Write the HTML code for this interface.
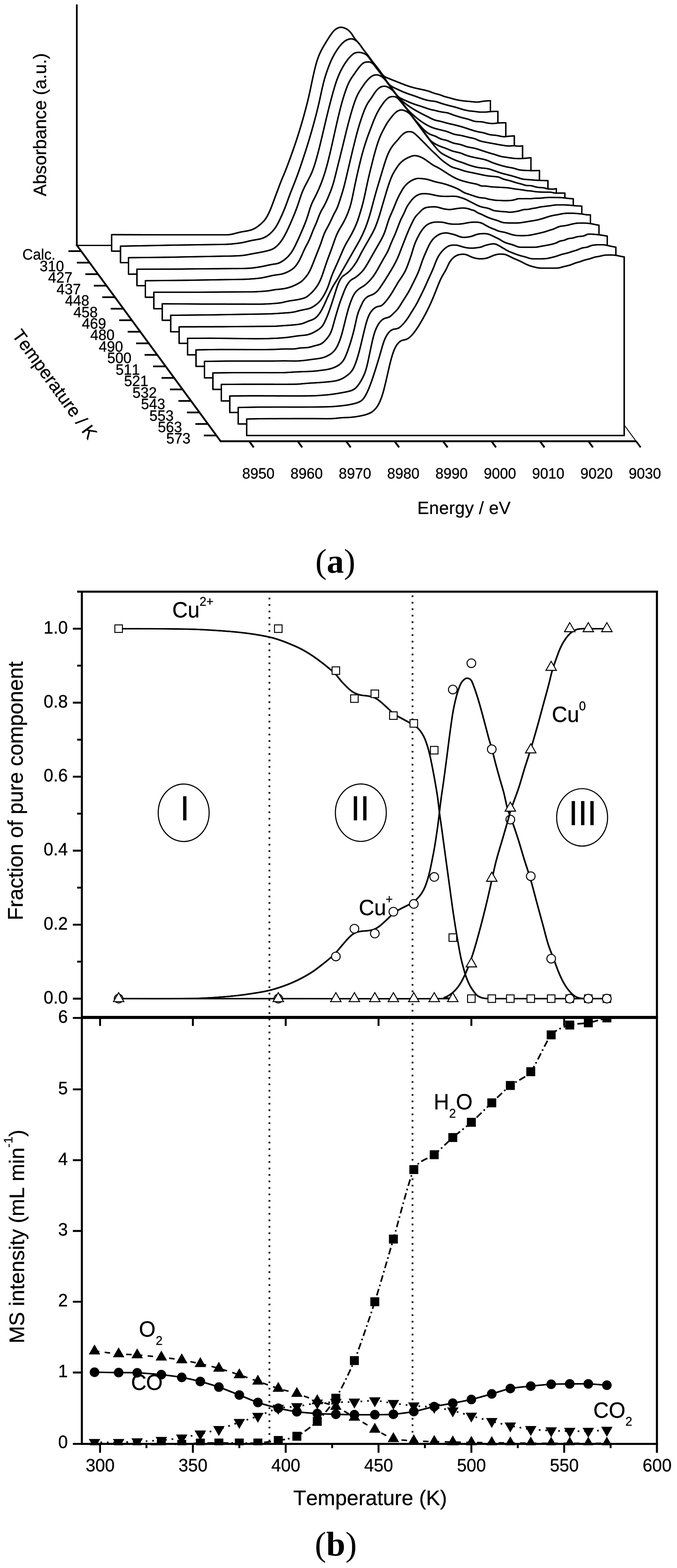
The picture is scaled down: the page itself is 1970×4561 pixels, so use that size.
<!DOCTYPE html>
<html lang="en"><head><meta charset="utf-8"><title>Figure</title>
<style>
html,body{margin:0;padding:0;background:#fff;}
body{width:1970px;height:4561px;overflow:hidden;}
svg{display:block;}
text{white-space:pre;font-kerning:none;font-variant-ligatures:none;text-rendering:geometricPrecision;}
</style></head>
<body>
<svg width="1970" height="4561" viewBox="0 0 1970 4561" shape-rendering="geometricPrecision">
<rect x="0" y="0" width="1970" height="4561" fill="#fff"/>
<g fill="none" stroke="#000" stroke-linejoin="miter" stroke-linecap="butt">
<path d="M223.5 12.7 V714" stroke-width="5"/>
<path d="M221.8 711 L642 1283.5 H1851.5" stroke-width="5.3" stroke-linejoin="miter"/>
<path d="M223 713.9 H326" stroke-width="3.9"/>
<path d="M1815 1234.5 L1851 1283.5" stroke-width="2.6"/>
<path d="M1851 1283.5 L1864.2 1301.3" stroke-width="4.8"/>
<path d="M236.1 730.5 H199.1M260.7 764 H223.7M285.4 797.5 H248.4M310 831.1 H273M334.6 864.6 H297.6M359.2 898.1 H322.2M383.9 931.6 H346.9M408.5 965.1 H371.5M433.1 998.7 H396.1M457.7 1032.2 H420.7M482.4 1065.7 H445.4M507 1099.2 H470M531.6 1132.7 H494.6M556.2 1166.3 H519.2M580.9 1199.8 H543.9M605.5 1233.3 H568.5M630.1 1266.8 H593.1" stroke-width="5"/>
<path d="M725.2 1283.5 l13.2 17.8M866.2 1283.5 l13.2 17.8M1007.2 1283.5 l13.2 17.8M1148.2 1283.5 l13.2 17.8M1289.2 1283.5 l13.2 17.8M1430.2 1283.5 l13.2 17.8M1571.2 1283.5 l13.2 17.8M1712.2 1283.5 l13.2 17.8" stroke-width="5.4"/>
</g>
<defs><path id="w0" d="M324.8 730.5L324.8 682.5 326.8 682.5 328.8 682.5 330.8 682.5 332.8 682.5 334.8 682.5 336.8 682.6 338.8 682.6 340.8 682.6 342.8 682.6 344.8 682.6 346.8 682.6 348.8 682.6 350.8 682.6 352.8 682.6 354.8 682.6 356.8 682.6 358.8 682.7 360.8 682.7 362.8 682.7 364.8 682.7 366.8 682.7 368.8 682.7 370.8 682.7 372.8 682.7 374.8 682.7 376.8 682.7 378.8 682.7 380.8 682.7 382.8 682.7 384.8 682.8 386.8 682.8 388.8 682.8 390.8 682.8 392.8 682.8 394.8 682.8 396.8 682.8 398.8 682.8 400.8 682.8 402.8 682.8 404.8 682.8 406.8 682.8 408.8 682.8 410.8 682.9 412.8 682.9 414.8 682.9 416.8 682.9 418.8 682.9 420.8 682.9 422.8 682.9 424.8 682.9 426.8 682.9 428.8 682.9 430.8 682.9 432.8 682.9 434.8 682.9 436.8 682.9 438.8 682.9 440.8 682.9 442.8 682.9 444.8 683 446.8 683 448.8 683 450.8 683 452.8 683 454.8 683 456.8 683 458.8 683 460.8 683 462.8 683 464.8 683 466.8 683 468.8 683 470.8 683 472.8 683 474.8 683 476.8 683 478.8 683 480.8 683 482.8 683 484.8 683 486.8 683 488.8 683 490.8 683 492.8 683 494.8 683 496.8 683 498.8 683 500.8 683 502.8 683 504.8 683 506.8 683 508.8 683 510.8 683 512.8 683 514.8 683 516.8 683 518.8 683 520.8 683 522.8 683 524.8 683 526.8 683 528.8 683 530.8 683 532.8 683 534.8 683 536.8 683 538.8 683 540.8 683 542.8 683 544.8 683 546.8 683 548.8 683 550.8 683 552.8 683 554.8 683 556.8 683 558.8 683 560.8 683 562.8 683 564.8 683 566.8 683 568.8 683 570.8 683 572.8 683 574.8 683 576.8 683 578.8 683 580.8 683 582.8 683 584.8 683 586.8 683 588.8 683 590.8 683 592.8 683 594.8 683 596.8 683 598.8 683 600.8 683 602.8 683 604.8 683 606.8 683 608.8 683 610.8 683 612.8 683 614.8 683 616.8 683 618.8 683 620.8 683 622.8 683 624.8 683 626.8 683 628.8 683 630.8 683 632.8 683 634.8 683 636.8 683 638.8 683 640.8 683 642.8 683 644.8 683 646.8 683 648.8 683 650.8 683 652.8 683 654.8 683 656.8 683 658.8 683 660.8 683 662.8 682.9 664.8 682.8 666.8 682.6 668.8 682.4 670.8 682.1 672.8 681.7 674.8 681.4 676.8 680.9 678.8 680.4 680.8 679.9 682.8 679.4 684.8 678.9 686.8 678.3 688.8 677.8 690.8 677.3 692.8 676.7 694.8 676.2 696.8 675.8 698.8 675.3 700.8 674.9 702.8 674.5 704.8 674.2 706.8 673.8 708.8 673.5 710.8 673.2 712.8 672.8 714.8 672.5 716.8 672.2 718.8 671.8 720.8 671.4 722.8 671 724.8 670.5 726.8 670 728.8 669.5 730.8 668.9 732.8 668.2 734.8 667.4 736.8 666.5 738.8 665.6 740.8 664.6 742.8 663.5 744.8 662.3 746.8 661 748.8 659.6 750.8 658.2 752.8 656.6 754.8 655 756.8 653.3 758.8 651.6 760.8 649.8 762.8 647.9 764.8 646 766.8 643.9 768.8 641.7 770.8 639.2 772.8 636.5 774.8 633.4 776.8 630.1 778.8 626.5 780.8 622.6 782.8 618.5 784.8 614.2 786.8 609.5 788.8 604.7 790.8 599.5 792.8 594.2 794.8 588.9 796.8 583.4 798.8 578 800.8 572.6 802.8 567.3 804.8 561.9 806.8 556.6 808.8 551.2 810.8 545.9 812.8 540.5 814.8 535.2 816.8 530.1 818.8 525.1 820.8 520.2 822.8 515.5 824.8 510.7 826.8 506 828.8 501.1 830.8 496.1 832.8 491 834.8 485.8 836.8 480.5 838.8 475.2 840.8 469.8 842.8 464.4 844.8 459 846.8 453.5 848.8 447.9 850.8 442.3 852.8 436.6 854.8 430.9 856.8 425.1 858.8 419.2 860.8 413.2 862.8 407.2 864.8 401 866.8 394.8 868.8 388.5 870.8 382.1 872.8 375.6 874.8 369 876.8 362.3 878.8 355.5 880.8 348.5 882.8 341.5 884.8 334.3 886.8 327 888.8 319.5 890.8 312 892.8 304.2 894.8 296.3 896.8 288.1 898.8 279.6 900.8 270.7 902.8 261.4 904.8 251.9 906.8 242.3 908.8 232.8 910.8 223.5 912.8 214.5 914.8 205.8 916.8 197.6 918.8 189.8 920.8 182.6 922.8 176.1 924.8 170.1 926.8 164.7 928.8 159.7 930.8 155.1 932.8 150.9 934.8 146.9 936.8 143.1 938.8 139.5 940.8 135.9 942.8 132.5 944.8 129.1 946.8 125.8 948.8 122.5 950.8 119.2 952.8 115.9 954.8 112.8 956.8 109.7 958.8 106.7 960.8 103.7 962.8 100.8 964.8 98 966.8 95.3 968.8 92.7 970.8 90.4 972.8 88.4 974.8 86.6 976.8 85.1 978.8 83.8 980.8 82.6 982.8 81.6 984.8 80.8 986.8 80.1 988.8 79.6 990.8 79.4 992.8 79.3 994.8 79.5 996.8 79.8 998.8 80.3 1000.8 81 1002.8 81.7 1004.8 82.5 1006.8 83.5 1008.8 84.6 1010.8 85.8 1012.8 87.2 1014.8 88.9 1016.8 90.7 1018.8 92.8 1020.8 95.2 1022.8 97.8 1024.8 100.7 1026.8 103.8 1028.8 107 1030.8 110 1032.8 112.8 1034.8 115.4 1036.8 117.8 1038.8 120 1040.8 122.2 1042.8 124.5 1044.8 126.9 1046.8 129.4 1048.8 132.2 1050.8 135.1 1052.8 138.1 1054.8 141.1 1056.8 144.2 1058.8 147.2 1060.8 150.1 1062.8 152.9 1064.8 155.6 1066.8 158.2 1068.8 160.8 1070.8 163.3 1072.8 165.8 1074.8 168.2 1076.8 170.7 1078.8 173.1 1080.8 175.5 1082.8 178 1084.8 180.5 1086.8 182.9 1088.8 185.4 1090.8 187.8 1092.8 190.3 1094.8 192.7 1096.8 195.2 1098.8 197.8 1100.8 200.4 1102.8 203.1 1104.8 205.9 1106.8 208.8 1108.8 211.7 1110.8 214.6 1112.8 217.1 1114.8 219.4 1116.8 221.2 1118.8 222.7 1120.8 223.8 1122.8 224.8 1124.8 225.7 1126.8 226.5 1128.8 227.3 1130.8 228.1 1132.8 228.9 1134.8 229.7 1136.8 230.5 1138.8 231.4 1140.8 232.2 1142.8 233 1144.8 233.8 1146.8 234.6 1148.8 235.3 1150.8 236.1 1152.8 236.9 1154.8 237.7 1156.8 238.5 1158.8 239.3 1160.8 240.1 1162.8 240.9 1164.8 241.7 1166.8 242.5 1168.8 243.3 1170.8 244.1 1172.8 244.8 1174.8 245.6 1176.8 246.4 1178.8 247.1 1180.8 247.9 1182.8 248.6 1184.8 249.3 1186.8 249.9 1188.8 250.6 1190.8 251.3 1192.8 251.9 1194.8 252.5 1196.8 253.1 1198.8 253.7 1200.8 254.2 1202.8 254.8 1204.8 255.3 1206.8 255.8 1208.8 256.3 1210.8 256.8 1212.8 257.2 1214.8 257.7 1216.8 258.1 1218.8 258.5 1220.8 258.9 1222.8 259.4 1224.8 259.8 1226.8 260.2 1228.8 260.7 1230.8 261.1 1232.8 261.5 1234.8 262 1236.8 262.5 1238.8 263 1240.8 263.5 1242.8 264 1244.8 264.6 1246.8 265.1 1248.8 265.8 1250.8 266.4 1252.8 267.2 1254.8 268 1256.8 268.8 1258.8 269.6 1260.8 270.3 1262.8 271 1264.8 271.7 1266.8 272.2 1268.8 272.8 1270.8 273.3 1272.8 273.8 1274.8 274.3 1276.8 274.8 1278.8 275.4 1280.8 276 1282.8 276.8 1284.8 277.5 1286.8 278.3 1288.8 279.1 1290.8 279.9 1292.8 280.6 1294.8 281.2 1296.8 281.8 1298.8 282.3 1300.8 282.8 1302.8 283.3 1304.8 283.8 1306.8 284.3 1308.8 284.8 1310.8 285.4 1312.8 285.9 1314.8 286.5 1316.8 287.1 1318.8 287.7 1320.8 288.2 1322.8 288.8 1324.8 289.3 1326.8 289.7 1328.8 290.2 1330.8 290.6 1332.8 291 1334.8 291.4 1336.8 291.8 1338.8 292.1 1340.8 292.4 1342.8 292.7 1344.8 293 1346.8 293.3 1348.8 293.5 1350.8 293.7 1352.8 293.9 1354.8 294.1 1356.8 294.3 1358.8 294.5 1360.8 294.7 1362.8 294.9 1364.8 295.1 1366.8 295.2 1368.8 295.4 1370.8 295.6 1372.8 295.8 1374.8 296 1376.8 296.2 1378.8 296.4 1380.8 296.6 1382.8 296.7 1384.8 296.8 1386.8 296.9 1388.8 296.9 1390.8 296.8 1392.8 296.7 1394.8 296.4 1396.8 296.1 1398.8 295.7 1400.8 295.4 1402.8 295 1404.8 294.7 1406.8 294.4 1408.8 294.2 1410.8 294 1412.8 293.8 1414.8 293.6 1416.8 293.5 1418.8 293.3 1420.8 293.2 1422.8 293.1 1424.8 293.1 1427.1 293L1427.1 730.5 Z"/></defs>
<use href="#w0" fill="#fff" stroke="none"/>
<g fill="none" stroke="#000" stroke-linejoin="miter" stroke-linecap="butt">
<use href="#w0" stroke-width="3.2"/>
<use href="#w0" transform="translate(1.45 1.45)" stroke-width="1"/>
<use href="#w0" transform="translate(1.45 -1.45)" stroke-width="1"/>
<use href="#w0" transform="translate(-1.45 1.45)" stroke-width="1"/>
<use href="#w0" transform="translate(-1.45 -1.45)" stroke-width="1"/>
</g>
<defs><path id="w1" d="M350.6 764L350.6 716 352.6 716 354.6 715.9 356.6 715.9 358.6 715.9 360.6 715.8 362.6 715.8 364.6 715.8 366.6 715.7 368.6 715.7 370.6 715.7 372.6 715.6 374.6 715.6 376.6 715.5 378.6 715.5 380.6 715.5 382.6 715.4 384.6 715.4 386.6 715.4 388.6 715.3 390.6 715.3 392.6 715.3 394.6 715.2 396.6 715.2 398.6 715.1 400.6 715.1 402.6 715.1 404.6 715 406.6 715 408.6 715 410.6 714.9 412.6 714.9 414.6 714.8 416.6 714.8 418.6 714.8 420.6 714.7 422.6 714.7 424.6 714.7 426.6 714.6 428.6 714.6 430.6 714.5 432.6 714.5 434.6 714.5 436.6 714.4 438.6 714.4 440.6 714.3 442.6 714.3 444.6 714.3 446.6 714.2 448.6 714.2 450.6 714.1 452.6 714.1 454.6 714.1 456.6 714 458.6 714 460.6 713.9 462.6 713.9 464.6 713.9 466.6 713.8 468.6 713.8 470.6 713.7 472.6 713.7 474.6 713.7 476.6 713.6 478.6 713.6 480.6 713.5 482.6 713.5 484.6 713.5 486.6 713.4 488.6 713.4 490.6 713.3 492.6 713.3 494.6 713.2 496.6 713.2 498.6 713.2 500.6 713.1 502.6 713.1 504.6 713.1 506.6 713 508.6 713 510.6 713 512.6 713 514.6 712.9 516.6 712.9 518.6 712.9 520.6 712.8 522.6 712.8 524.6 712.8 526.6 712.7 528.6 712.7 530.6 712.7 532.6 712.7 534.6 712.6 536.6 712.6 538.6 712.6 540.6 712.5 542.6 712.5 544.6 712.5 546.6 712.5 548.6 712.4 550.6 712.4 552.6 712.4 554.6 712.3 556.6 712.3 558.6 712.3 560.6 712.2 562.6 712.2 564.6 712.2 566.6 712.2 568.6 712.1 570.6 712.1 572.6 712.1 574.6 712 576.6 712 578.6 712 580.6 711.9 582.6 711.9 584.6 711.9 586.6 711.9 588.6 711.8 590.6 711.8 592.6 711.8 594.6 711.7 596.6 711.7 598.6 711.7 600.6 711.6 602.6 711.6 604.6 711.6 606.6 711.6 608.6 711.5 610.6 711.5 612.6 711.5 614.6 711.4 616.6 711.4 618.6 711.4 620.6 711.3 622.6 711.3 624.6 711.3 626.6 711.3 628.6 711.2 630.6 711.2 632.6 711.2 634.6 711.1 636.6 711.1 638.6 711.1 640.6 711.1 642.6 711 644.6 711 646.6 711 648.6 710.9 650.6 710.9 652.6 710.9 654.6 710.8 656.6 710.8 658.6 710.7 660.6 710.6 662.6 710.5 664.6 710.4 666.6 710.3 668.6 710.1 670.6 710 672.6 709.8 674.6 709.6 676.6 709.4 678.6 709.2 680.6 709 682.6 708.8 684.6 708.6 686.6 708.3 688.6 708.1 690.6 707.9 692.6 707.6 694.6 707.3 696.6 707.1 698.6 706.8 700.6 706.5 702.6 706.2 704.6 705.9 706.6 705.5 708.6 705.1 710.6 704.6 712.6 704.2 714.6 703.7 716.6 703.2 718.6 702.7 720.6 702.2 722.6 701.7 724.6 701.3 726.6 700.8 728.6 700.3 730.6 699.9 732.6 699.5 734.6 699.1 736.6 698.7 738.6 698.4 740.6 698 742.6 697.7 744.6 697.4 746.6 697 748.6 696.7 750.6 696.3 752.6 696 754.6 695.6 756.6 695.1 758.6 694.6 760.6 694.1 762.6 693.4 764.6 692.7 766.6 692 768.6 691.1 770.6 690.1 772.6 689.1 774.6 687.9 776.6 686.7 778.6 685.4 780.6 684 782.6 682.4 784.6 680.8 786.6 679 788.6 677.1 790.6 675.1 792.6 673 794.6 670.8 796.6 668.4 798.6 665.9 800.6 663.1 802.6 660.2 804.6 657.1 806.6 653.7 808.6 650.1 810.6 646.2 812.6 642.2 814.6 638 816.6 633.7 818.6 629.3 820.6 624.9 822.6 620.3 824.6 615.7 826.6 610.9 828.6 605.9 830.6 600.8 832.6 595.5 834.6 590.1 836.6 584.6 838.6 579.1 840.6 573.6 842.6 568.2 844.6 562.9 846.6 557.7 848.6 552.6 850.6 547.6 852.6 542.7 854.6 537.7 856.6 532.6 858.6 527.5 860.6 522.4 862.6 517.1 864.6 511.8 866.6 506.3 868.6 500.8 870.6 495.1 872.6 489.3 874.6 483.4 876.6 477.6 878.6 471.6 880.6 465.6 882.6 459.6 884.6 453.5 886.6 447.4 888.6 441.2 890.6 435 892.6 428.6 894.6 422.3 896.6 415.8 898.6 409.2 900.6 402.6 902.6 395.9 904.6 389.1 906.6 382.2 908.6 375.1 910.6 368 912.6 360.8 914.6 353.5 916.6 346 918.6 338.4 920.6 330.7 922.6 322.8 924.6 314.7 926.6 306.4 928.6 297.7 930.6 288.8 932.6 279.5 934.6 270.3 936.6 261.1 938.6 252.3 940.6 243.9 942.6 236 944.6 228.7 946.6 222 948.6 215.7 950.6 209.8 952.6 204.1 954.6 198.6 956.6 193.3 958.6 188.1 960.6 183.2 962.6 178.5 964.6 174 966.6 169.8 968.6 165.8 970.6 162 972.6 158.4 974.6 155 976.6 151.7 978.6 148.5 980.6 145.5 982.6 142.5 984.6 139.7 986.6 136.9 988.6 134.3 990.6 131.9 992.6 129.6 994.6 127.4 996.6 125.4 998.6 123.5 1000.6 121.8 1002.6 120.2 1004.6 118.8 1006.6 117.6 1008.6 116.5 1010.6 115.6 1012.6 114.8 1014.6 114.1 1016.6 113.6 1018.6 113.2 1020.6 113 1022.6 113 1024.6 113.3 1026.6 113.7 1028.6 114.3 1030.6 115 1032.6 116 1034.6 117.2 1036.6 118.7 1038.6 120.4 1040.6 122.3 1042.6 124.4 1044.6 126.7 1046.6 129.2 1048.6 131.9 1050.6 134.7 1052.6 137.6 1054.6 140.4 1056.6 143.2 1058.6 145.8 1060.6 148.3 1062.6 150.8 1064.6 153.2 1066.6 155.7 1068.6 158.2 1070.6 160.8 1072.6 163.5 1074.6 166.2 1076.6 169 1078.6 171.8 1080.6 174.7 1082.6 177.5 1084.6 180.4 1086.6 183.3 1088.6 186.1 1090.6 188.9 1092.6 191.6 1094.6 194.2 1096.6 196.7 1098.6 199.3 1100.6 201.7 1102.6 204.2 1104.6 206.6 1106.6 209 1108.6 211.5 1110.6 214 1112.6 216.6 1114.6 219.4 1116.6 222.4 1118.6 225.6 1120.6 228.9 1122.6 232.3 1124.6 235.6 1126.6 238.7 1128.6 241.5 1130.6 243.9 1132.6 246 1134.6 247.8 1136.6 249.3 1138.6 250.7 1140.6 251.9 1142.6 253.1 1144.6 254.1 1146.6 255.1 1148.6 256.1 1150.6 257 1152.6 258 1154.6 258.9 1156.6 259.8 1158.6 260.7 1160.6 261.7 1162.6 262.6 1164.6 263.5 1166.6 264.4 1168.6 265.3 1170.6 266.2 1172.6 267.1 1174.6 267.9 1176.6 268.7 1178.6 269.5 1180.6 270.3 1182.6 271 1184.6 271.8 1186.6 272.5 1188.6 273.2 1190.6 273.9 1192.6 274.5 1194.6 275.2 1196.6 275.9 1198.6 276.5 1200.6 277.2 1202.6 277.9 1204.6 278.6 1206.6 279.3 1208.6 280 1210.6 280.7 1212.6 281.5 1214.6 282.2 1216.6 283 1218.6 283.7 1220.6 284.4 1222.6 285.2 1224.6 285.9 1226.6 286.6 1228.6 287.3 1230.6 288 1232.6 288.6 1234.6 289.2 1236.6 289.8 1238.6 290.4 1240.6 290.9 1242.6 291.4 1244.6 291.9 1246.6 292.3 1248.6 292.7 1250.6 293 1252.6 293.3 1254.6 293.5 1256.6 293.7 1258.6 294 1260.6 294.2 1262.6 294.5 1264.6 294.8 1266.6 295.1 1268.6 295.6 1270.6 296.1 1272.6 296.7 1274.6 297.4 1276.6 298.1 1278.6 298.8 1280.6 299.5 1282.6 300.2 1284.6 300.9 1286.6 301.5 1288.6 302.1 1290.6 302.7 1292.6 303.3 1294.6 303.9 1296.6 304.4 1298.6 305 1300.6 305.5 1302.6 306.1 1304.6 306.6 1306.6 307.1 1308.6 307.6 1310.6 308.1 1312.6 308.6 1314.6 309.1 1316.6 309.6 1318.6 310.1 1320.6 310.6 1322.6 311.1 1324.6 311.7 1326.6 312.2 1328.6 312.8 1330.6 313.4 1332.6 314.1 1334.6 314.7 1336.6 315.4 1338.6 316 1340.6 316.7 1342.6 317.3 1344.6 317.9 1346.6 318.4 1348.6 318.9 1350.6 319.5 1352.6 319.9 1354.6 320.4 1356.6 320.9 1358.6 321.3 1360.6 321.7 1362.6 322 1364.6 322.4 1366.6 322.7 1368.6 322.9 1370.6 323.1 1372.6 323.3 1374.6 323.5 1376.6 323.7 1378.6 323.9 1380.6 324.1 1382.6 324.3 1384.6 324.6 1386.6 324.9 1388.6 325.2 1390.6 325.5 1392.6 325.7 1394.6 325.9 1396.6 326 1398.6 326.1 1400.6 326.1 1402.6 326.1 1404.6 326.1 1406.6 326.1 1408.6 326.1 1410.6 326.1 1412.6 326 1414.6 325.9 1416.6 325.7 1418.6 325.5 1420.6 325.3 1422.6 325.1 1424.6 324.9 1426.6 324.7 1428.6 324.6 1430.6 324.5 1432.6 324.4 1434.6 324.3 1436.6 324.2 1438.6 324.2 1440.6 324.1 1442.6 324.1 1444.6 324 1446.6 324 1448.7 324L1448.7 764 Z"/></defs>
<use href="#w1" fill="#fff" stroke="none"/>
<g fill="none" stroke="#000" stroke-linejoin="miter" stroke-linecap="butt">
<use href="#w1" stroke-width="3.2"/>
<use href="#w1" transform="translate(1.45 1.45)" stroke-width="1"/>
<use href="#w1" transform="translate(1.45 -1.45)" stroke-width="1"/>
<use href="#w1" transform="translate(-1.45 1.45)" stroke-width="1"/>
<use href="#w1" transform="translate(-1.45 -1.45)" stroke-width="1"/>
</g>
<defs><path id="w2" d="M373.9 797.5L373.9 749.5 375.9 749.5 377.9 749.5 379.9 749.5 381.9 749.5 383.9 749.4 385.9 749.4 387.9 749.4 389.9 749.4 391.9 749.4 393.9 749.3 395.9 749.3 397.9 749.3 399.9 749.3 401.9 749.3 403.9 749.2 405.9 749.2 407.9 749.2 409.9 749.2 411.9 749.2 413.9 749.1 415.9 749.1 417.9 749.1 419.9 749.1 421.9 749 423.9 749 425.9 749 427.9 749 429.9 749 431.9 748.9 433.9 748.9 435.9 748.9 437.9 748.9 439.9 748.9 441.9 748.8 443.9 748.8 445.9 748.8 447.9 748.8 449.9 748.7 451.9 748.7 453.9 748.7 455.9 748.7 457.9 748.7 459.9 748.6 461.9 748.6 463.9 748.6 465.9 748.6 467.9 748.5 469.9 748.5 471.9 748.5 473.9 748.5 475.9 748.4 477.9 748.4 479.9 748.4 481.9 748.4 483.9 748.4 485.9 748.3 487.9 748.3 489.9 748.3 491.9 748.3 493.9 748.2 495.9 748.2 497.9 748.2 499.9 748.1 501.9 748.1 503.9 748.1 505.9 748 507.9 748 509.9 747.9 511.9 747.9 513.9 747.8 515.9 747.8 517.9 747.7 519.9 747.7 521.9 747.6 523.9 747.6 525.9 747.5 527.9 747.5 529.9 747.4 531.9 747.4 533.9 747.4 535.9 747.3 537.9 747.3 539.9 747.3 541.9 747.2 543.9 747.2 545.9 747.1 547.9 747.1 549.9 747.1 551.9 747 553.9 747 555.9 747 557.9 746.9 559.9 746.9 561.9 746.8 563.9 746.8 565.9 746.8 567.9 746.7 569.9 746.7 571.9 746.7 573.9 746.6 575.9 746.6 577.9 746.5 579.9 746.5 581.9 746.5 583.9 746.4 585.9 746.4 587.9 746.3 589.9 746.3 591.9 746.3 593.9 746.2 595.9 746.2 597.9 746.2 599.9 746.1 601.9 746.1 603.9 746 605.9 746 607.9 746 609.9 745.9 611.9 745.9 613.9 745.9 615.9 745.8 617.9 745.8 619.9 745.7 621.9 745.7 623.9 745.7 625.9 745.6 627.9 745.6 629.9 745.5 631.9 745.5 633.9 745.5 635.9 745.4 637.9 745.4 639.9 745.4 641.9 745.3 643.9 745.3 645.9 745.2 647.9 745.2 649.9 745.2 651.9 745.1 653.9 745.1 655.9 745.1 657.9 745 659.9 745 661.9 745 663.9 745 665.9 744.9 667.9 744.9 669.9 744.9 671.9 744.8 673.9 744.8 675.9 744.7 677.9 744.6 679.9 744.6 681.9 744.5 683.9 744.4 685.9 744.3 687.9 744.3 689.9 744.2 691.9 744.1 693.9 744 695.9 743.9 697.9 743.8 699.9 743.6 701.9 743.5 703.9 743.3 705.9 743.1 707.9 742.9 709.9 742.6 711.9 742.3 713.9 742 715.9 741.7 717.9 741.3 719.9 741 721.9 740.6 723.9 740.2 725.9 739.8 727.9 739.4 729.9 739 731.9 738.6 733.9 738.3 735.9 737.9 737.9 737.5 739.9 737.1 741.9 736.8 743.9 736.4 745.9 736.1 747.9 735.7 749.9 735.4 751.9 735 753.9 734.7 755.9 734.3 757.9 733.9 759.9 733.5 761.9 733.1 763.9 732.7 765.9 732.3 767.9 731.9 769.9 731.4 771.9 731 773.9 730.5 775.9 730 777.9 729.6 779.9 729 781.9 728.5 783.9 727.9 785.9 727.3 787.9 726.6 789.9 725.9 791.9 725 793.9 724.1 795.9 723 797.9 721.8 799.9 720.4 801.9 718.8 803.9 717.2 805.9 715.4 807.9 713.5 809.9 711.4 811.9 709.2 813.9 706.9 815.9 704.4 817.9 701.7 819.9 698.9 821.9 695.9 823.9 692.7 825.9 689.3 827.9 685.8 829.9 682 831.9 678.2 833.9 674.2 835.9 670.1 837.9 665.9 839.9 661.6 841.9 657.2 843.9 652.8 845.9 648.2 847.9 643.6 849.9 638.9 851.9 634.2 853.9 629.4 855.9 624.5 857.9 619.6 859.9 614.5 861.9 609.3 863.9 603.9 865.9 598.3 867.9 592.5 869.9 586.5 871.9 580.4 873.9 574.4 875.9 568.6 877.9 563 879.9 557.9 881.9 553.1 883.9 548.7 885.9 544.6 887.9 540.6 889.9 536.7 891.9 532.9 893.9 529.1 895.9 525.3 897.9 521.4 899.9 517.6 901.9 513.6 903.9 509.5 905.9 505.2 907.9 500.5 909.9 495.4 911.9 490 913.9 484.2 915.9 478 917.9 471.5 919.9 464.8 921.9 457.7 923.9 450.3 925.9 442.8 927.9 435 929.9 427 931.9 418.9 933.9 410.7 935.9 402.3 937.9 393.9 939.9 385.4 941.9 376.9 943.9 368.4 945.9 359.9 947.9 351.5 949.9 343.1 951.9 334.8 953.9 326.6 955.9 318.6 957.9 310.7 959.9 302.9 961.9 295.2 963.9 287.7 965.9 280.2 967.9 272.9 969.9 265.7 971.9 258.8 973.9 252 975.9 245.6 977.9 239.5 979.9 233.7 981.9 228.3 983.9 223.2 985.9 218.4 987.9 213.8 989.9 209.5 991.9 205.4 993.9 201.5 995.9 197.8 997.9 194.3 999.9 190.9 1001.9 187.6 1003.9 184.5 1005.9 181.5 1007.9 178.7 1009.9 175.9 1011.9 173.3 1013.9 170.7 1015.9 168.3 1017.9 166.1 1019.9 164 1021.9 162 1023.9 160.2 1025.9 158.5 1027.9 157 1029.9 155.6 1031.9 154.6 1033.9 153.8 1035.9 153.2 1037.9 152.8 1039.9 152.6 1041.9 152.4 1043.9 152.4 1045.9 152.4 1047.9 152.6 1049.9 152.9 1051.9 153.3 1053.9 153.8 1055.9 154.4 1057.9 155.1 1059.9 155.9 1061.9 156.9 1063.9 158 1065.9 159.4 1067.9 161.1 1069.9 163.1 1071.9 165.4 1073.9 168 1075.9 170.8 1077.9 173.6 1079.9 176.4 1081.9 179.1 1083.9 181.7 1085.9 184.2 1087.9 186.7 1089.9 189.3 1091.9 191.9 1093.9 194.5 1095.9 197.2 1097.9 199.9 1099.9 202.7 1101.9 205.4 1103.9 208.2 1105.9 211.1 1107.9 213.9 1109.9 216.7 1111.9 219.5 1113.9 222.2 1115.9 224.9 1117.9 227.5 1119.9 230.1 1121.9 232.6 1123.9 235.1 1125.9 237.7 1127.9 240.2 1129.9 242.7 1131.9 245.3 1133.9 247.9 1135.9 250.5 1137.9 253.3 1139.9 256.2 1141.9 259.2 1143.9 262.4 1145.9 265.5 1147.9 268.5 1149.9 271.4 1151.9 274.1 1153.9 276.4 1155.9 278.5 1157.9 280.4 1159.9 282 1161.9 283.4 1163.9 284.7 1165.9 285.8 1167.9 286.9 1169.9 287.9 1171.9 288.8 1173.9 289.8 1175.9 290.7 1177.9 291.6 1179.9 292.4 1181.9 293.3 1183.9 294.2 1185.9 295.1 1187.9 296 1189.9 296.8 1191.9 297.7 1193.9 298.5 1195.9 299.3 1197.9 300.1 1199.9 300.9 1201.9 301.6 1203.9 302.4 1205.9 303.1 1207.9 303.8 1209.9 304.4 1211.9 305.1 1213.9 305.8 1215.9 306.4 1217.9 307 1219.9 307.6 1221.9 308.3 1223.9 308.9 1225.9 309.6 1227.9 310.2 1229.9 310.9 1231.9 311.6 1233.9 312.3 1235.9 312.9 1237.9 313.6 1239.9 314.3 1241.9 315 1243.9 315.7 1245.9 316.4 1247.9 317 1249.9 317.6 1251.9 318.2 1253.9 318.7 1255.9 319.1 1257.9 319.6 1259.9 320 1261.9 320.4 1263.9 320.8 1265.9 321.3 1267.9 321.8 1269.9 322.3 1271.9 322.8 1273.9 323.3 1275.9 323.8 1277.9 324.3 1279.9 324.7 1281.9 325.1 1283.9 325.5 1285.9 325.8 1287.9 326.1 1289.9 326.4 1291.9 326.7 1293.9 326.9 1295.9 327.2 1297.9 327.5 1299.9 327.9 1301.9 328.4 1303.9 328.9 1305.9 329.5 1307.9 330.2 1309.9 330.9 1311.9 331.6 1313.9 332.4 1315.9 333.2 1317.9 333.9 1319.9 334.7 1321.9 335.3 1323.9 336 1325.9 336.7 1327.9 337.3 1329.9 338 1331.9 338.6 1333.9 339.2 1335.9 339.8 1337.9 340.4 1339.9 341 1341.9 341.5 1343.9 342.1 1345.9 342.6 1347.9 343.1 1349.9 343.6 1351.9 344.1 1353.9 344.6 1355.9 345.1 1357.9 345.6 1359.9 346.1 1361.9 346.6 1363.9 347.2 1365.9 347.9 1367.9 348.6 1369.9 349.3 1371.9 350 1373.9 350.8 1375.9 351.4 1377.9 352.1 1379.9 352.6 1381.9 353 1383.9 353.3 1385.9 353.6 1387.9 353.7 1389.9 353.8 1391.9 353.9 1393.9 353.9 1395.9 354 1397.9 354.1 1399.9 354.3 1401.9 354.5 1403.9 354.7 1405.9 355.1 1407.9 355.5 1409.9 356 1411.9 356.5 1413.9 356.9 1415.9 357.4 1417.9 357.7 1419.9 358.1 1421.9 358.4 1423.9 358.7 1425.9 358.9 1427.9 359.1 1429.9 359.3 1431.9 359.4 1433.9 359.4 1435.9 359.3 1437.9 359.1 1439.9 358.9 1441.9 358.6 1443.9 358.4 1445.9 358.1 1447.9 357.9 1449.9 357.7 1451.9 357.6 1453.9 357.5 1455.9 357.5 1457.9 357.4 1459.9 357.3 1461.9 357.3 1463.9 357.2 1465.9 357.2 1467.9 357.2 1469.9 357.1 1471.8 357.1L1471.8 797.5 Z"/></defs>
<use href="#w2" fill="#fff" stroke="none"/>
<g fill="none" stroke="#000" stroke-linejoin="miter" stroke-linecap="butt">
<use href="#w2" stroke-width="3.2"/>
<use href="#w2" transform="translate(1.45 1.45)" stroke-width="1"/>
<use href="#w2" transform="translate(1.45 -1.45)" stroke-width="1"/>
<use href="#w2" transform="translate(-1.45 1.45)" stroke-width="1"/>
<use href="#w2" transform="translate(-1.45 -1.45)" stroke-width="1"/>
</g>
<defs><path id="w3" d="M398.5 831.1L398.5 783.1 400.5 783.1 402.5 783 404.5 783 406.5 783 408.5 783 410.5 783 412.5 783 414.5 783 416.5 783 418.5 783 420.5 783 422.5 783 424.5 783 426.5 783 428.5 783 430.5 783 432.5 783 434.5 782.9 436.5 782.9 438.5 782.9 440.5 782.9 442.5 782.9 444.5 782.9 446.5 782.9 448.5 782.9 450.5 782.9 452.5 782.9 454.5 782.9 456.5 782.9 458.5 782.9 460.5 782.9 462.5 782.9 464.5 782.9 466.5 782.9 468.5 782.8 470.5 782.8 472.5 782.8 474.5 782.8 476.5 782.8 478.5 782.8 480.5 782.8 482.5 782.8 484.5 782.8 486.5 782.8 488.5 782.8 490.5 782.8 492.5 782.8 494.5 782.8 496.5 782.8 498.5 782.8 500.5 782.8 502.5 782.7 504.5 782.7 506.5 782.7 508.5 782.7 510.5 782.7 512.5 782.7 514.5 782.7 516.5 782.7 518.5 782.7 520.5 782.7 522.5 782.7 524.5 782.7 526.5 782.7 528.5 782.6 530.5 782.6 532.5 782.6 534.5 782.6 536.5 782.5 538.5 782.5 540.5 782.5 542.5 782.4 544.5 782.4 546.5 782.4 548.5 782.4 550.5 782.3 552.5 782.3 554.5 782.3 556.5 782.3 558.5 782.3 560.5 782.2 562.5 782.2 564.5 782.2 566.5 782.2 568.5 782.2 570.5 782.2 572.5 782.1 574.5 782.1 576.5 782.1 578.5 782.1 580.5 782.1 582.5 782.1 584.5 782 586.5 782 588.5 782 590.5 782 592.5 782 594.5 782 596.5 781.9 598.5 781.9 600.5 781.9 602.5 781.9 604.5 781.9 606.5 781.8 608.5 781.8 610.5 781.8 612.5 781.8 614.5 781.8 616.5 781.8 618.5 781.7 620.5 781.7 622.5 781.7 624.5 781.7 626.5 781.7 628.5 781.6 630.5 781.6 632.5 781.6 634.5 781.6 636.5 781.6 638.5 781.6 640.5 781.5 642.5 781.5 644.5 781.5 646.5 781.5 648.5 781.5 650.5 781.5 652.5 781.4 654.5 781.4 656.5 781.4 658.5 781.4 660.5 781.4 662.5 781.3 664.5 781.3 666.5 781.3 668.5 781.3 670.5 781.3 672.5 781.3 674.5 781.2 676.5 781.2 678.5 781.2 680.5 781.2 682.5 781.2 684.5 781.2 686.5 781.2 688.5 781.2 690.5 781.2 692.5 781.1 694.5 781.1 696.5 781.1 698.5 781.1 700.5 781.1 702.5 781 704.5 781 706.5 781 708.5 780.9 710.5 780.9 712.5 780.8 714.5 780.8 716.5 780.7 718.5 780.6 720.5 780.5 722.5 780.4 724.5 780.3 726.5 780.2 728.5 780.1 730.5 779.9 732.5 779.7 734.5 779.5 736.5 779.3 738.5 779 740.5 778.7 742.5 778.5 744.5 778.2 746.5 777.9 748.5 777.6 750.5 777.3 752.5 776.9 754.5 776.6 756.5 776.3 758.5 775.9 760.5 775.6 762.5 775.2 764.5 774.8 766.5 774.4 768.5 774 770.5 773.5 772.5 773.1 774.5 772.7 776.5 772.2 778.5 771.8 780.5 771.4 782.5 771 784.5 770.5 786.5 770.1 788.5 769.8 790.5 769.4 792.5 769 794.5 768.7 796.5 768.4 798.5 768.1 800.5 767.8 802.5 767.5 804.5 767.2 806.5 766.7 808.5 766.2 810.5 765.5 812.5 764.7 814.5 763.8 816.5 762.8 818.5 761.6 820.5 760.4 822.5 759.2 824.5 757.8 826.5 756.4 828.5 754.9 830.5 753.3 832.5 751.6 834.5 749.8 836.5 747.8 838.5 745.8 840.5 743.6 842.5 741.3 844.5 738.8 846.5 736.1 848.5 733.3 850.5 730.2 852.5 726.9 854.5 723.4 856.5 719.6 858.5 715.6 860.5 711.5 862.5 707.3 864.5 703 866.5 698.7 868.5 694.3 870.5 689.9 872.5 685.5 874.5 680.9 876.5 676.3 878.5 671.7 880.5 667 882.5 662.3 884.5 657.5 886.5 652.6 888.5 647.5 890.5 642.2 892.5 636.7 894.5 630.7 896.5 624.5 898.5 618 900.5 611.5 902.5 605.3 904.5 599.5 906.5 594.3 908.5 589.6 910.5 585.3 912.5 581.3 914.5 577.4 916.5 573.5 918.5 569.5 920.5 565.4 922.5 561.2 924.5 556.9 926.5 552.5 928.5 547.9 930.5 543.2 932.5 538.4 934.5 533.3 936.5 528.1 938.5 522.6 940.5 517 942.5 511 944.5 504.9 946.5 498.4 948.5 491.6 950.5 484.5 952.5 477.1 954.5 469.4 956.5 461.4 958.5 453.3 960.5 444.9 962.5 436.3 964.5 427.6 966.5 418.8 968.5 409.9 970.5 400.9 972.5 392 974.5 383 976.5 374 978.5 365.2 980.5 356.4 982.5 347.7 984.5 339.2 986.5 330.9 988.5 322.8 990.5 314.9 992.5 307.3 994.5 299.9 996.5 292.8 998.5 286 1000.5 279.5 1002.5 273.3 1004.5 267.3 1006.5 261.6 1008.5 256.1 1010.5 250.9 1012.5 246.1 1014.5 241.7 1016.5 237.6 1018.5 233.9 1020.5 230.5 1022.5 227.3 1024.5 224.3 1026.5 221.4 1028.5 218.6 1030.5 215.8 1032.5 212.9 1034.5 210 1036.5 207.1 1038.5 204.3 1040.5 201.5 1042.5 198.8 1044.5 196.3 1046.5 193.9 1048.5 191.5 1050.5 189.3 1052.5 187.3 1054.5 185.5 1056.5 183.9 1058.5 182.7 1060.5 181.8 1062.5 181.2 1064.5 180.8 1066.5 180.5 1068.5 180.3 1070.5 180.2 1072.5 180.2 1074.5 180.4 1076.5 180.7 1078.5 181.3 1080.5 182.1 1082.5 183.2 1084.5 184.7 1086.5 186.7 1088.5 189 1090.5 191.6 1092.5 194.3 1094.5 197 1096.5 199.6 1098.5 202.2 1100.5 204.8 1102.5 207.3 1104.5 209.9 1106.5 212.5 1108.5 215 1110.5 217.6 1112.5 220.2 1114.5 222.8 1116.5 225.5 1118.5 228.1 1120.5 230.8 1122.5 233.5 1124.5 236.3 1126.5 239 1128.5 241.8 1130.5 244.6 1132.5 247.4 1134.5 250.1 1136.5 252.9 1138.5 255.6 1140.5 258.3 1142.5 260.9 1144.5 263.5 1146.5 266.1 1148.5 268.7 1150.5 271.2 1152.5 273.9 1154.5 276.5 1156.5 279.1 1158.5 281.7 1160.5 284.1 1162.5 286.4 1164.5 288.4 1166.5 290.4 1168.5 292.2 1170.5 293.9 1172.5 295.6 1174.5 297.3 1176.5 298.9 1178.5 300.5 1180.5 302.1 1182.5 303.6 1184.5 305.1 1186.5 306.5 1188.5 307.9 1190.5 309.3 1192.5 310.7 1194.5 312 1196.5 313.3 1198.5 314.6 1200.5 315.8 1202.5 317.1 1204.5 318.3 1206.5 319.4 1208.5 320.6 1210.5 321.8 1212.5 322.9 1214.5 324 1216.5 325.1 1218.5 326.2 1220.5 327.3 1222.5 328.3 1224.5 329.4 1226.5 330.4 1228.5 331.5 1230.5 332.5 1232.5 333.5 1234.5 334.5 1236.5 335.5 1238.5 336.5 1240.5 337.5 1242.5 338.5 1244.5 339.5 1246.5 340.5 1248.5 341.6 1250.5 342.6 1252.5 343.6 1254.5 344.6 1256.5 345.5 1258.5 346.5 1260.5 347.3 1262.5 348.1 1264.5 348.9 1266.5 349.5 1268.5 350.1 1270.5 350.6 1272.5 351 1274.5 351.5 1276.5 351.9 1278.5 352.3 1280.5 352.7 1282.5 353.2 1284.5 353.7 1286.5 354.2 1288.5 354.7 1290.5 355.3 1292.5 355.9 1294.5 356.4 1296.5 357 1298.5 357.6 1300.5 358.1 1302.5 358.6 1304.5 359.1 1306.5 359.6 1308.5 360.1 1310.5 360.5 1312.5 361 1314.5 361.4 1316.5 361.8 1318.5 362.3 1320.5 362.7 1322.5 363.2 1324.5 363.7 1326.5 364.2 1328.5 364.7 1330.5 365.2 1332.5 365.7 1334.5 366.2 1336.5 366.8 1338.5 367.3 1340.5 367.9 1342.5 368.5 1344.5 369.1 1346.5 369.7 1348.5 370.3 1350.5 370.9 1352.5 371.6 1354.5 372.2 1356.5 372.9 1358.5 373.6 1360.5 374.2 1362.5 374.9 1364.5 375.6 1366.5 376.2 1368.5 376.9 1370.5 377.5 1372.5 378.1 1374.5 378.8 1376.5 379.4 1378.5 380 1380.5 380.6 1382.5 381.2 1384.5 381.7 1386.5 382.2 1388.5 382.7 1390.5 383.2 1392.5 383.6 1394.5 384 1396.5 384.3 1398.5 384.7 1400.5 385 1402.5 385.4 1404.5 385.7 1406.5 386.2 1408.5 386.7 1410.5 387.3 1412.5 387.9 1414.5 388.5 1416.5 389.2 1418.5 389.9 1420.5 390.5 1422.5 391 1424.5 391.5 1426.5 391.9 1428.5 392.2 1430.5 392.5 1432.5 392.7 1434.5 392.9 1436.5 393 1438.5 393.2 1440.5 393.4 1442.5 393.6 1444.5 393.9 1446.5 394.2 1448.5 394.5 1450.5 395 1452.5 395.4 1454.5 395.9 1456.5 396.4 1458.5 396.8 1460.5 397.2 1462.5 397.4 1464.5 397.6 1466.5 397.7 1468.5 397.7 1470.5 397.5 1472.5 397.3 1474.5 397.1 1476.5 396.8 1478.5 396.6 1480.5 396.4 1482.5 396.1 1484.5 396 1486.5 395.8 1488.5 395.7 1490.5 395.6 1492.5 395.5 1494.5 395.4 1496.6 395.3L1496.6 831.1 Z"/></defs>
<use href="#w3" fill="#fff" stroke="none"/>
<g fill="none" stroke="#000" stroke-linejoin="miter" stroke-linecap="butt">
<use href="#w3" stroke-width="3.2"/>
<use href="#w3" transform="translate(1.45 1.45)" stroke-width="1"/>
<use href="#w3" transform="translate(1.45 -1.45)" stroke-width="1"/>
<use href="#w3" transform="translate(-1.45 1.45)" stroke-width="1"/>
<use href="#w3" transform="translate(-1.45 -1.45)" stroke-width="1"/>
</g>
<defs><path id="w4" d="M423 864.6L423 816.6 425 816.6 427 816.5 429 816.5 431 816.5 433 816.5 435 816.5 437 816.4 439 816.4 441 816.4 443 816.4 445 816.3 447 816.3 449 816.3 451 816.3 453 816.3 455 816.2 457 816.2 459 816.2 461 816.2 463 816.2 465 816.1 467 816.1 469 816.1 471 816.1 473 816.1 475 816 477 816 479 816 481 816 483 815.9 485 815.9 487 815.9 489 815.9 491 815.9 493 815.8 495 815.8 497 815.8 499 815.8 501 815.8 503 815.7 505 815.7 507 815.7 509 815.7 511 815.7 513 815.6 515 815.6 517 815.6 519 815.6 521 815.5 523 815.5 525 815.5 527 815.5 529 815.5 531 815.5 533 815.4 535 815.4 537 815.4 539 815.4 541 815.4 543 815.3 545 815.3 547 815.3 549 815.2 551 815.2 553 815.2 555 815.1 557 815.1 559 815.1 561 815 563 815 565 814.9 567 814.9 569 814.8 571 814.8 573 814.8 575 814.7 577 814.7 579 814.7 581 814.6 583 814.6 585 814.6 587 814.5 589 814.5 591 814.5 593 814.4 595 814.4 597 814.4 599 814.3 601 814.3 603 814.3 605 814.2 607 814.2 609 814.2 611 814.1 613 814.1 615 814.1 617 814 619 814 621 814 623 813.9 625 813.9 627 813.9 629 813.8 631 813.8 633 813.8 635 813.7 637 813.7 639 813.7 641 813.6 643 813.6 645 813.6 647 813.5 649 813.5 651 813.5 653 813.4 655 813.4 657 813.4 659 813.3 661 813.3 663 813.3 665 813.3 667 813.2 669 813.2 671 813.2 673 813.1 675 813.1 677 813.1 679 813 681 813 683 813 685 812.9 687 812.9 689 812.9 691 812.8 693 812.8 695 812.8 697 812.7 699 812.7 701 812.7 703 812.6 705 812.6 707 812.6 709 812.5 711 812.5 713 812.4 715 812.3 717 812.2 719 812.1 721 812 723 811.9 725 811.8 727 811.6 729 811.5 731 811.4 733 811.2 735 811.1 737 810.9 739 810.8 741 810.6 743 810.4 745 810.2 747 810.1 749 809.9 751 809.7 753 809.5 755 809.2 757 808.9 759 808.6 761 808.3 763 808 765 807.6 767 807.2 769 806.8 771 806.4 773 805.9 775 805.5 777 805 779 804.6 781 804.1 783 803.7 785 803.2 787 802.8 789 802.3 791 801.9 793 801.5 795 801.1 797 800.7 799 800.4 801 800.1 803 799.8 805 799.5 807 799.2 809 799 811 798.7 813 798.4 815 798.1 817 797.8 819 797.4 821 796.9 823 796.3 825 795.7 827 795.1 829 794.3 831 793.5 833 792.7 835 791.8 837 790.9 839 789.9 841 788.9 843 787.8 845 786.6 847 785.4 849 784.1 851 782.6 853 781 855 779.3 857 777.4 859 775.2 861 772.9 863 770.2 865 767.4 867 764.2 869 760.9 871 757.4 873 753.6 875 749.5 877 745.3 879 740.8 881 736.2 883 731.7 885 727.3 887 723.1 889 719 891 715.2 893 711.4 895 707.7 897 703.8 899 699.7 901 695.3 903 690.5 905 685.6 907 680.4 909 675.2 911 670.2 913 665.4 915 660.8 917 656.3 919 651.8 921 647.1 923 642 925 636.6 927 631.3 929 626.1 931 621.3 933 617 935 613.1 937 609.5 939 606.1 941 602.6 943 599 945 595.2 947 591.2 949 587 951 582.7 953 578.1 955 573.5 957 568.7 959 563.9 961 558.9 963 553.7 965 548.3 967 542.5 969 536.2 971 529.4 973 522 975 514.2 977 506.2 979 498.1 981 490.1 983 482 985 474 987 466.1 989 458.1 991 450.1 993 442.1 995 434 997 425.9 999 417.7 1001 409.5 1003 401.2 1005 392.9 1007 384.7 1009 376.7 1011 368.8 1013 361.1 1015 353.5 1017 346.1 1019 338.8 1021 331.7 1023 324.8 1025 318.1 1027 311.6 1029 305.4 1031 299.5 1033 293.8 1035 288.5 1037 283.5 1039 278.9 1041 274.7 1043 270.9 1045 267.4 1047 264.1 1049 261 1051 257.9 1053 254.9 1055 252 1057 249 1059 246.1 1061 243.3 1063 240.6 1065 238 1067 235.6 1069 233.3 1071 231.1 1073 229.1 1075 227.2 1077 225.4 1079 223.8 1081 222.4 1083 221.1 1085 220.1 1087 219.3 1089 218.6 1091 218.1 1093 217.8 1095 217.7 1097 217.7 1099 217.9 1101 218.4 1103 219 1105 219.9 1107 220.9 1109 222 1111 223.3 1113 224.8 1115 226.5 1117 228.3 1119 230.5 1121 232.8 1123 235.3 1125 237.9 1127 240.6 1129 243.3 1131 245.9 1133 248.6 1135 251.2 1137 253.8 1139 256.4 1141 259 1143 261.7 1145 264.4 1147 267.1 1149 269.8 1151 272.6 1153 275.3 1155 278.1 1157 280.8 1159 283.6 1161 286.3 1163 289.1 1165 291.8 1167 294.4 1169 297 1171 299.7 1173 302.3 1175 304.8 1177 307.4 1179 310 1181 312.5 1183 315 1185 317.4 1187 319.6 1189 321.7 1191 323.8 1193 325.7 1195 327.7 1197 329.5 1199 331.4 1201 333.2 1203 335 1205 336.8 1207 338.5 1209 340.2 1211 341.9 1213 343.5 1215 345.1 1217 346.7 1219 348.2 1221 349.8 1223 351.2 1225 352.7 1227 354.1 1229 355.4 1231 356.8 1233 358.1 1235 359.3 1237 360.6 1239 361.7 1241 362.9 1243 364 1245 365.1 1247 366.1 1249 367.1 1251 368.1 1253 369 1255 369.8 1257 370.6 1259 371.4 1261 372.1 1263 372.8 1265 373.4 1267 374 1269 374.6 1271 375.1 1273 375.6 1275 376.1 1277 376.6 1279 377 1281 377.5 1283 378 1285 378.5 1287 379 1289 379.5 1291 380 1293 380.5 1295 381 1297 381.6 1299 382.2 1301 382.8 1303 383.5 1305 384.2 1307 385 1309 385.8 1311 386.6 1313 387.5 1315 388.3 1317 389 1319 389.7 1321 390.3 1323 390.9 1325 391.3 1327 391.7 1329 392 1331 392.4 1333 392.7 1335 393 1337 393.3 1339 393.6 1341 394 1343 394.4 1345 394.8 1347 395.3 1349 395.8 1351 396.3 1353 396.8 1355 397.3 1357 397.8 1359 398.3 1361 398.8 1363 399.3 1365 399.7 1367 400.2 1369 400.6 1371 401 1373 401.4 1375 401.8 1377 402.3 1379 402.8 1381 403.5 1383 404.2 1385 405 1387 405.9 1389 406.8 1391 407.7 1393 408.5 1395 409.3 1397 410 1399 410.6 1401 411.1 1403 411.6 1405 412 1407 412.4 1409 412.8 1411 413.2 1413 413.6 1415 414 1417 414.4 1419 414.8 1421 415.1 1423 415.5 1425 415.9 1427 416.2 1429 416.6 1431 416.9 1433 417.3 1435 417.7 1437 418 1439 418.4 1441 418.7 1443 419.1 1445 419.5 1447 419.9 1449 420.3 1451 420.6 1453 421 1455 421.4 1457 421.7 1459 422 1461 422.3 1463 422.7 1465 423 1467 423.3 1469 423.6 1471 423.9 1473 424.1 1475 424.3 1477 424.5 1479 424.6 1481 424.6 1483 424.6 1485 424.5 1487 424.4 1489 424.3 1491 424.2 1493 424 1495 424 1497 424.1 1499 424.2 1501 424.5 1503 424.7 1505 425 1507 425.1 1509 425.1 1511 425.1 1513 424.9 1515 424.8 1517 424.6 1519 424.4 1520.6 424.2L1520.6 864.6 Z"/></defs>
<use href="#w4" fill="#fff" stroke="none"/>
<g fill="none" stroke="#000" stroke-linejoin="miter" stroke-linecap="butt">
<use href="#w4" stroke-width="3.2"/>
<use href="#w4" transform="translate(1.45 1.45)" stroke-width="1"/>
<use href="#w4" transform="translate(1.45 -1.45)" stroke-width="1"/>
<use href="#w4" transform="translate(-1.45 1.45)" stroke-width="1"/>
<use href="#w4" transform="translate(-1.45 -1.45)" stroke-width="1"/>
</g>
<defs><path id="w5" d="M447.6 898.1L447.6 850.1 449.6 850.1 451.6 850.1 453.6 850.1 455.6 850.1 457.6 850.1 459.6 850.1 461.6 850.1 463.6 850.1 465.6 850.1 467.6 850.1 469.6 850.1 471.6 850.1 473.6 850.1 475.6 850.1 477.6 850.1 479.6 850.1 481.6 850.1 483.6 850.1 485.6 850.1 487.6 850.1 489.6 850.1 491.6 850.1 493.6 850.1 495.6 850.1 497.6 850.1 499.6 850.1 501.6 850.1 503.6 850.1 505.6 850.1 507.6 850.1 509.6 850.1 511.6 850.1 513.6 850.1 515.6 850.1 517.6 850.1 519.6 850.1 521.6 850.1 523.6 850.1 525.6 850.1 527.6 850.1 529.6 850.1 531.6 850.1 533.6 850.1 535.6 850.1 537.6 850.1 539.6 850.1 541.6 850.1 543.6 850.1 545.6 850.1 547.6 850.1 549.6 850.1 551.6 850.1 553.6 850.1 555.6 850.1 557.6 850.1 559.6 850.1 561.6 850.1 563.6 850.1 565.6 850.1 567.6 850.1 569.6 850.1 571.6 850.1 573.6 850 575.6 850 577.6 850 579.6 850 581.6 850 583.6 850 585.6 849.9 587.6 849.9 589.6 849.9 591.6 849.9 593.6 849.9 595.6 849.8 597.6 849.8 599.6 849.8 601.6 849.8 603.6 849.8 605.6 849.8 607.6 849.7 609.6 849.7 611.6 849.7 613.6 849.7 615.6 849.7 617.6 849.7 619.6 849.7 621.6 849.7 623.6 849.6 625.6 849.6 627.6 849.6 629.6 849.6 631.6 849.6 633.6 849.6 635.6 849.6 637.6 849.6 639.6 849.5 641.6 849.5 643.6 849.5 645.6 849.5 647.6 849.5 649.6 849.5 651.6 849.5 653.6 849.5 655.6 849.4 657.6 849.4 659.6 849.4 661.6 849.4 663.6 849.4 665.6 849.4 667.6 849.4 669.6 849.4 671.6 849.3 673.6 849.3 675.6 849.3 677.6 849.3 679.6 849.3 681.6 849.3 683.6 849.3 685.6 849.3 687.6 849.2 689.6 849.2 691.6 849.2 693.6 849.2 695.6 849.2 697.6 849.2 699.6 849.2 701.6 849.2 703.6 849.1 705.6 849.1 707.6 849.1 709.6 849.1 711.6 849.1 713.6 849.1 715.6 849.1 717.6 849.1 719.6 849.1 721.6 849 723.6 849 725.6 849 727.6 849 729.6 849 731.6 849 733.6 848.9 735.6 848.9 737.6 848.8 739.6 848.8 741.6 848.7 743.6 848.6 745.6 848.6 747.6 848.5 749.6 848.4 751.6 848.3 753.6 848.1 755.6 848 757.6 847.9 759.6 847.8 761.6 847.6 763.6 847.5 765.6 847.3 767.6 847.2 769.6 847 771.6 846.9 773.6 846.7 775.6 846.5 777.6 846.3 779.6 846.1 781.6 845.8 783.6 845.5 785.6 845.2 787.6 844.9 789.6 844.5 791.6 844.2 793.6 843.8 795.6 843.4 797.6 843 799.6 842.7 801.6 842.4 803.6 842.2 805.6 842 807.6 841.8 809.6 841.7 811.6 841.5 813.6 841.3 815.6 841.1 817.6 840.8 819.6 840.6 821.6 840.3 823.6 840.1 825.6 839.7 827.6 839.4 829.6 839 831.6 838.6 833.6 838.2 835.6 837.7 837.6 837.2 839.6 836.6 841.6 836 843.6 835.4 845.6 834.7 847.6 834 849.6 833.2 851.6 832.4 853.6 831.6 855.6 830.7 857.6 829.8 859.6 828.9 861.6 827.9 863.6 826.9 865.6 825.8 867.6 824.8 869.6 823.6 871.6 822.5 873.6 821.2 875.6 819.8 877.6 818.3 879.6 816.6 881.6 814.7 883.6 812.6 885.6 810.4 887.6 808.2 889.6 805.8 891.6 803.4 893.6 800.8 895.6 797.9 897.6 794.8 899.6 791.3 901.6 787.5 903.6 783.3 905.6 778.8 907.6 774.1 909.6 769.2 911.6 764.3 913.6 759.2 915.6 754.1 917.6 748.9 919.6 743.8 921.6 738.7 923.6 733.7 925.6 728.7 927.6 723.7 929.6 718.7 931.6 713.4 933.6 708 935.6 702.2 937.6 696.3 939.6 690.5 941.6 684.9 943.6 679.8 945.6 675.3 947.6 671.2 949.6 667.4 951.6 663.8 953.6 660.1 955.6 656.3 957.6 652.4 959.6 648.4 961.6 644.3 963.6 640.1 965.6 635.8 967.6 631.5 969.6 627.2 971.6 623.2 973.6 619.3 975.6 615.6 977.6 611.9 979.6 607.8 981.6 603.3 983.6 598.2 985.6 592.6 987.6 586.6 989.6 580.4 991.6 574.2 993.6 567.9 995.6 561.5 997.6 554.8 999.6 547.9 1001.6 540.4 1003.6 532.5 1005.6 524.3 1007.6 515.8 1009.6 507.3 1011.6 498.8 1013.6 490.3 1015.6 481.9 1017.6 473.4 1019.6 464.8 1021.6 456.3 1023.6 447.9 1025.6 439.5 1027.6 431.3 1029.6 423.2 1031.6 415.2 1033.6 407.1 1035.6 399.2 1037.6 391.4 1039.6 383.9 1041.6 376.7 1043.6 369.8 1045.6 363.2 1047.6 356.8 1049.6 350.6 1051.6 344.6 1053.6 338.7 1055.6 333 1057.6 327.6 1059.6 322.4 1061.6 317.5 1063.6 312.9 1065.6 308.6 1067.6 304.6 1069.6 301 1071.6 297.7 1073.6 294.7 1075.6 291.9 1077.6 289.1 1079.6 286.4 1081.6 283.5 1083.6 280.5 1085.6 277.4 1087.6 274.2 1089.6 271.2 1091.6 268.4 1093.6 265.7 1095.6 263.3 1097.6 261 1099.6 259 1101.6 257.2 1103.6 255.6 1105.6 254.2 1107.6 253.2 1109.6 252.4 1111.6 251.8 1113.6 251.3 1115.6 251 1117.6 250.9 1119.6 250.8 1121.6 251 1123.6 251.4 1125.6 252 1127.6 252.9 1129.6 253.8 1131.6 254.9 1133.6 256.1 1135.6 257.4 1137.6 258.9 1139.6 260.5 1141.6 262.3 1143.6 264.4 1145.6 266.6 1147.6 269 1149.6 271.5 1151.6 274.1 1153.6 276.8 1155.6 279.4 1157.6 282 1159.6 284.6 1161.6 287.3 1163.6 289.9 1165.6 292.6 1167.6 295.3 1169.6 298 1171.6 300.7 1173.6 303.4 1175.6 306.1 1177.6 308.9 1179.6 311.6 1181.6 314.3 1183.6 317.1 1185.6 319.8 1187.6 322.5 1189.6 325.2 1191.6 327.9 1193.6 330.5 1195.6 333.2 1197.6 335.8 1199.6 338.3 1201.6 340.9 1203.6 343.4 1205.6 345.9 1207.6 348.3 1209.6 350.7 1211.6 353 1213.6 355.3 1215.6 357.6 1217.6 359.9 1219.6 362.1 1221.6 364.4 1223.6 366.7 1225.6 368.9 1227.6 371.1 1229.6 373.2 1231.6 375.3 1233.6 377.3 1235.6 379.2 1237.6 381.1 1239.6 382.8 1241.6 384.5 1243.6 386 1245.6 387.4 1247.6 388.6 1249.6 389.7 1251.6 390.7 1253.6 391.6 1255.6 392.3 1257.6 393 1259.6 393.7 1261.6 394.4 1263.6 395 1265.6 395.8 1267.6 396.6 1269.6 397.6 1271.6 398.6 1273.6 399.7 1275.6 400.8 1277.6 401.9 1279.6 402.8 1281.6 403.7 1283.6 404.5 1285.6 405.1 1287.6 405.6 1289.6 406.1 1291.6 406.5 1293.6 407 1295.6 407.4 1297.6 407.9 1299.6 408.5 1301.6 409.1 1303.6 409.8 1305.6 410.6 1307.6 411.5 1309.6 412.4 1311.6 413.3 1313.6 414.1 1315.6 414.9 1317.6 415.6 1319.6 416.3 1321.6 416.8 1323.6 417.3 1325.6 417.7 1327.6 418 1329.6 418.4 1331.6 418.8 1333.6 419.1 1335.6 419.5 1337.6 420 1339.6 420.5 1341.6 421 1343.6 421.6 1345.6 422.3 1347.6 423 1349.6 423.8 1351.6 424.5 1353.6 425.3 1355.6 425.9 1357.6 426.6 1359.6 427.1 1361.6 427.6 1363.6 428 1365.6 428.4 1367.6 428.8 1369.6 429.1 1371.6 429.5 1373.6 429.8 1375.6 430.2 1377.6 430.6 1379.6 431 1381.6 431.5 1383.6 432 1385.6 432.5 1387.6 433.1 1389.6 433.7 1391.6 434.4 1393.6 435 1395.6 435.7 1397.6 436.3 1399.6 437 1401.6 437.7 1403.6 438.3 1405.6 439 1407.6 439.7 1409.6 440.3 1411.6 441 1413.6 441.7 1415.6 442.3 1417.6 443 1419.6 443.6 1421.6 444.2 1423.6 444.8 1425.6 445.4 1427.6 446 1429.6 446.5 1431.6 447.1 1433.6 447.7 1435.6 448.2 1437.6 448.8 1439.6 449.4 1441.6 450.1 1443.6 450.7 1445.6 451.4 1447.6 452 1449.6 452.7 1451.6 453.4 1453.6 454 1455.6 454.5 1457.6 455 1459.6 455.5 1461.6 455.9 1463.6 456.2 1465.6 456.5 1467.6 456.8 1469.6 457.1 1471.6 457.3 1473.6 457.6 1475.6 457.9 1477.6 458.2 1479.6 458.5 1481.6 458.8 1483.6 459.1 1485.6 459.4 1487.6 459.7 1489.6 460 1491.6 460.3 1493.6 460.5 1495.6 460.7 1497.6 460.9 1499.6 461 1501.6 461.1 1503.6 461.2 1505.6 461.2 1507.6 461.3 1509.6 461.3 1511.6 461.3 1513.6 461.3 1515.6 461.3 1517.6 461.2 1519.6 461.1 1521.6 460.9 1523.6 460.8 1525.6 460.6 1527.6 460.5 1529.6 460.3 1531.6 460.1 1533.6 459.9 1535.6 459.7 1537.6 459.5 1539.6 459.3 1541.6 459.1 1543.6 458.9 1545 458.8L1545 898.1 Z"/></defs>
<use href="#w5" fill="#fff" stroke="none"/>
<g fill="none" stroke="#000" stroke-linejoin="miter" stroke-linecap="butt">
<use href="#w5" stroke-width="3.2"/>
<use href="#w5" transform="translate(1.45 1.45)" stroke-width="1"/>
<use href="#w5" transform="translate(1.45 -1.45)" stroke-width="1"/>
<use href="#w5" transform="translate(-1.45 1.45)" stroke-width="1"/>
<use href="#w5" transform="translate(-1.45 -1.45)" stroke-width="1"/>
</g>
<defs><path id="w6" d="M472.2 931.6L472.2 883.6 474.2 883.6 476.2 883.7 478.2 883.7 480.2 883.7 482.2 883.7 484.2 883.7 486.2 883.7 488.2 883.7 490.2 883.8 492.2 883.8 494.2 883.8 496.2 883.8 498.2 883.8 500.2 883.8 502.2 883.8 504.2 883.9 506.2 883.9 508.2 883.9 510.2 883.9 512.2 883.9 514.2 883.9 516.2 883.9 518.2 884 520.2 884 522.2 884 524.2 884 526.2 884 528.2 884 530.2 884.1 532.2 884.1 534.2 884.1 536.2 884.1 538.2 884.1 540.2 884.1 542.2 884.1 544.2 884.2 546.2 884.2 548.2 884.2 550.2 884.2 552.2 884.2 554.2 884.2 556.2 884.2 558.2 884.3 560.2 884.3 562.2 884.3 564.2 884.3 566.2 884.3 568.2 884.3 570.2 884.4 572.2 884.4 574.2 884.4 576.2 884.4 578.2 884.4 580.2 884.4 582.2 884.4 584.2 884.5 586.2 884.5 588.2 884.5 590.2 884.5 592.2 884.5 594.2 884.5 596.2 884.5 598.2 884.5 600.2 884.5 602.2 884.5 604.2 884.5 606.2 884.5 608.2 884.5 610.2 884.5 612.2 884.5 614.2 884.5 616.2 884.5 618.2 884.5 620.2 884.5 622.2 884.5 624.2 884.5 626.2 884.5 628.2 884.5 630.2 884.5 632.2 884.5 634.2 884.5 636.2 884.5 638.2 884.5 640.2 884.5 642.2 884.5 644.2 884.5 646.2 884.5 648.2 884.5 650.2 884.5 652.2 884.5 654.2 884.5 656.2 884.5 658.2 884.6 660.2 884.6 662.2 884.6 664.2 884.6 666.2 884.6 668.2 884.6 670.2 884.6 672.2 884.6 674.2 884.6 676.2 884.6 678.2 884.6 680.2 884.6 682.2 884.6 684.2 884.6 686.2 884.6 688.2 884.6 690.2 884.6 692.2 884.6 694.2 884.6 696.2 884.6 698.2 884.6 700.2 884.6 702.2 884.6 704.2 884.6 706.2 884.6 708.2 884.6 710.2 884.6 712.2 884.6 714.2 884.6 716.2 884.6 718.2 884.6 720.2 884.7 722.2 884.7 724.2 884.7 726.2 884.7 728.2 884.7 730.2 884.7 732.2 884.7 734.2 884.7 736.2 884.7 738.2 884.7 740.2 884.7 742.2 884.7 744.2 884.7 746.2 884.7 748.2 884.7 750.2 884.7 752.2 884.7 754.2 884.7 756.2 884.7 758.2 884.7 760.2 884.6 762.2 884.6 764.2 884.6 766.2 884.5 768.2 884.5 770.2 884.4 772.2 884.3 774.2 884.2 776.2 884.1 778.2 884 780.2 883.9 782.2 883.8 784.2 883.7 786.2 883.6 788.2 883.5 790.2 883.3 792.2 883.2 794.2 883 796.2 882.9 798.2 882.8 800.2 882.6 802.2 882.4 804.2 882.3 806.2 882.1 808.2 881.9 810.2 881.7 812.2 881.4 814.2 881.2 816.2 880.9 818.2 880.6 820.2 880.2 822.2 879.8 824.2 879.4 826.2 878.9 828.2 878.4 830.2 877.9 832.2 877.4 834.2 877 836.2 876.5 838.2 876.1 840.2 875.7 842.2 875.3 844.2 875 846.2 874.7 848.2 874.4 850.2 874.1 852.2 873.8 854.2 873.5 856.2 873.2 858.2 872.9 860.2 872.6 862.2 872.3 864.2 871.9 866.2 871.6 868.2 871.2 870.2 870.8 872.2 870.4 874.2 869.9 876.2 869.5 878.2 869 880.2 868.4 882.2 867.8 884.2 867.2 886.2 866.5 888.2 865.7 890.2 864.8 892.2 863.7 894.2 862.3 896.2 860.8 898.2 859.1 900.2 857.3 902.2 855.6 904.2 853.8 906.2 851.9 908.2 850 910.2 847.9 912.2 845.6 914.2 843.3 916.2 840.8 918.2 838.3 920.2 835.6 922.2 832.8 924.2 829.8 926.2 826.5 928.2 822.9 930.2 818.9 932.2 814.6 934.2 809.9 936.2 804.7 938.2 799.2 940.2 793.4 942.2 787.4 944.2 781.4 946.2 775.3 948.2 769.4 950.2 763.6 952.2 757.9 954.2 752.4 956.2 747 958.2 741.6 960.2 736.3 962.2 731 964.2 725.5 966.2 720 968.2 714.3 970.2 708.6 972.2 702.8 974.2 697.1 976.2 691.7 978.2 686.6 980.2 681.9 982.2 677.5 984.2 673.5 986.2 669.8 988.2 666.2 990.2 662.8 992.2 659.5 994.2 656.1 996.2 652.7 998.2 649.1 1000.2 645.5 1002.2 641.6 1004.2 637.6 1006.2 633.4 1008.2 628.9 1010.2 624.3 1012.2 619.4 1014.2 614.2 1016.2 608.7 1018.2 602.6 1020.2 595.8 1022.2 588.1 1024.2 579.5 1026.2 570.2 1028.2 560.5 1030.2 550.7 1032.2 541 1034.2 531.5 1036.2 522.3 1038.2 513.2 1040.2 504.3 1042.2 495.6 1044.2 487 1046.2 478.6 1048.2 470.4 1050.2 462.4 1052.2 454.6 1054.2 447.2 1056.2 440.1 1058.2 433.2 1060.2 426.6 1062.2 420.2 1064.2 414 1066.2 407.9 1068.2 402.1 1070.2 396.4 1072.2 390.9 1074.2 385.5 1076.2 380.3 1078.2 375 1080.2 369.7 1082.2 364.4 1084.2 359.2 1086.2 354 1088.2 349 1090.2 344.3 1092.2 339.7 1094.2 335.4 1096.2 331.3 1098.2 327.3 1100.2 323.6 1102.2 320.1 1104.2 316.7 1106.2 313.4 1108.2 310.3 1110.2 307.3 1112.2 304.4 1114.2 301.6 1116.2 298.9 1118.2 296.3 1120.2 293.8 1122.2 291.6 1124.2 289.5 1126.2 287.6 1128.2 285.9 1130.2 284.5 1132.2 283.3 1134.2 282.5 1136.2 281.8 1138.2 281.4 1140.2 281 1142.2 280.8 1144.2 280.8 1146.2 280.9 1148.2 281.2 1150.2 281.7 1152.2 282.5 1154.2 283.6 1156.2 284.9 1158.2 286.6 1160.2 288.6 1162.2 290.9 1164.2 293.3 1166.2 295.7 1168.2 298.2 1170.2 300.6 1172.2 303 1174.2 305.4 1176.2 307.9 1178.2 310.4 1180.2 312.9 1182.2 315.5 1184.2 318.1 1186.2 320.8 1188.2 323.4 1190.2 326.1 1192.2 328.8 1194.2 331.5 1196.2 334.2 1198.2 336.9 1200.2 339.7 1202.2 342.4 1204.2 345.1 1206.2 347.9 1208.2 350.6 1210.2 353.3 1212.2 356 1214.2 358.7 1216.2 361.4 1218.2 364 1220.2 366.6 1222.2 369.2 1224.2 371.8 1226.2 374.3 1228.2 376.8 1230.2 379.3 1232.2 381.7 1234.2 384.2 1236.2 386.8 1238.2 389.5 1240.2 392.3 1242.2 395.1 1244.2 397.9 1246.2 400.7 1248.2 403.3 1250.2 405.8 1252.2 407.9 1254.2 409.9 1256.2 411.7 1258.2 413.2 1260.2 414.7 1262.2 416 1264.2 417.3 1266.2 418.5 1268.2 419.6 1270.2 420.7 1272.2 421.7 1274.2 422.7 1276.2 423.6 1278.2 424.5 1280.2 425.3 1282.2 426.1 1284.2 426.9 1286.2 427.6 1288.2 428.3 1290.2 429 1292.2 429.7 1294.2 430.4 1296.2 431.2 1298.2 431.9 1300.2 432.7 1302.2 433.5 1304.2 434.4 1306.2 435.2 1308.2 436.1 1310.2 436.9 1312.2 437.7 1314.2 438.5 1316.2 439.2 1318.2 439.8 1320.2 440.3 1322.2 440.9 1324.2 441.3 1326.2 441.8 1328.2 442.3 1330.2 442.7 1332.2 443.2 1334.2 443.6 1336.2 444.1 1338.2 444.7 1340.2 445.3 1342.2 446 1344.2 446.7 1346.2 447.5 1348.2 448.3 1350.2 449.1 1352.2 450 1354.2 450.8 1356.2 451.5 1358.2 452.3 1360.2 452.9 1362.2 453.5 1364.2 454.1 1366.2 454.7 1368.2 455.2 1370.2 455.7 1372.2 456.2 1374.2 456.6 1376.2 457.1 1378.2 457.5 1380.2 458 1382.2 458.4 1384.2 458.8 1386.2 459.3 1388.2 459.6 1390.2 460 1392.2 460.4 1394.2 460.8 1396.2 461.1 1398.2 461.5 1400.2 461.9 1402.2 462.3 1404.2 462.7 1406.2 463.2 1408.2 463.7 1410.2 464.2 1412.2 464.7 1414.2 465.4 1416.2 466.1 1418.2 466.8 1420.2 467.6 1422.2 468.5 1424.2 469.4 1426.2 470.2 1428.2 471.1 1430.2 471.9 1432.2 472.7 1434.2 473.4 1436.2 474.2 1438.2 474.9 1440.2 475.6 1442.2 476.3 1444.2 477 1446.2 477.6 1448.2 478.3 1450.2 478.9 1452.2 479.5 1454.2 480.2 1456.2 480.8 1458.2 481.3 1460.2 481.9 1462.2 482.5 1464.2 483 1466.2 483.5 1468.2 484 1470.2 484.5 1472.2 485 1474.2 485.4 1476.2 485.8 1478.2 486.2 1480.2 486.6 1482.2 486.9 1484.2 487.3 1486.2 487.6 1488.2 488 1490.2 488.4 1492.2 488.8 1494.2 489.3 1496.2 489.8 1498.2 490.4 1500.2 491 1502.2 491.7 1504.2 492.3 1506.2 492.9 1508.2 493.4 1510.2 493.9 1512.2 494.3 1514.2 494.6 1516.2 494.8 1518.2 495 1520.2 495.2 1522.2 495.4 1524.2 495.5 1526.2 495.6 1528.2 495.7 1530.2 495.8 1532.2 495.9 1534.2 496 1536.2 496.1 1538.2 496.1 1540.2 496.2 1542.2 496.3 1544.2 496.3 1546.2 496.4 1548.2 496.4 1550.2 496.4 1552.2 496.4 1554.2 496.4 1556.2 496.4 1558.2 496.3 1560.2 496.3 1562.2 496.2 1564.2 496.1 1566.2 496 1568.2 495.9 1569.7 495.9L1569.7 931.6 Z"/></defs>
<use href="#w6" fill="#fff" stroke="none"/>
<g fill="none" stroke="#000" stroke-linejoin="miter" stroke-linecap="butt">
<use href="#w6" stroke-width="3.2"/>
<use href="#w6" transform="translate(1.45 1.45)" stroke-width="1"/>
<use href="#w6" transform="translate(1.45 -1.45)" stroke-width="1"/>
<use href="#w6" transform="translate(-1.45 1.45)" stroke-width="1"/>
<use href="#w6" transform="translate(-1.45 -1.45)" stroke-width="1"/>
</g>
<defs><path id="w7" d="M496.7 965.1L496.7 917.1 498.7 917.1 500.7 917.1 502.7 917.1 504.7 917.1 506.7 917 508.7 917 510.7 917 512.7 917 514.7 917 516.7 916.9 518.7 916.9 520.7 916.9 522.7 916.9 524.7 916.8 526.7 916.8 528.7 916.8 530.7 916.8 532.7 916.8 534.7 916.7 536.7 916.7 538.7 916.7 540.7 916.7 542.7 916.7 544.7 916.6 546.7 916.6 548.7 916.6 550.7 916.6 552.7 916.6 554.7 916.5 556.7 916.5 558.7 916.5 560.7 916.5 562.7 916.4 564.7 916.4 566.7 916.4 568.7 916.4 570.7 916.4 572.7 916.3 574.7 916.3 576.7 916.3 578.7 916.3 580.7 916.3 582.7 916.2 584.7 916.2 586.7 916.2 588.7 916.2 590.7 916.2 592.7 916.1 594.7 916.1 596.7 916.1 598.7 916.1 600.7 916.1 602.7 916 604.7 916 606.7 916 608.7 916 610.7 916 612.7 915.9 614.7 915.9 616.7 915.9 618.7 915.9 620.7 915.8 622.7 915.8 624.7 915.8 626.7 915.7 628.7 915.7 630.7 915.7 632.7 915.6 634.7 915.6 636.7 915.5 638.7 915.5 640.7 915.5 642.7 915.4 644.7 915.4 646.7 915.3 648.7 915.3 650.7 915.3 652.7 915.2 654.7 915.2 656.7 915.2 658.7 915.1 660.7 915.1 662.7 915.1 664.7 915 666.7 915 668.7 915 670.7 914.9 672.7 914.9 674.7 914.9 676.7 914.8 678.7 914.8 680.7 914.8 682.7 914.7 684.7 914.7 686.7 914.7 688.7 914.6 690.7 914.6 692.7 914.6 694.7 914.5 696.7 914.5 698.7 914.5 700.7 914.4 702.7 914.4 704.7 914.4 706.7 914.3 708.7 914.3 710.7 914.3 712.7 914.2 714.7 914.2 716.7 914.2 718.7 914.1 720.7 914.1 722.7 914.1 724.7 914 726.7 914 728.7 914 730.7 913.9 732.7 913.9 734.7 913.9 736.7 913.9 738.7 913.8 740.7 913.8 742.7 913.8 744.7 913.7 746.7 913.7 748.7 913.7 750.7 913.6 752.7 913.6 754.7 913.6 756.7 913.5 758.7 913.5 760.7 913.5 762.7 913.4 764.7 913.4 766.7 913.4 768.7 913.3 770.7 913.3 772.7 913.3 774.7 913.2 776.7 913.2 778.7 913.1 780.7 913.1 782.7 913 784.7 913 786.7 912.9 788.7 912.8 790.7 912.7 792.7 912.6 794.7 912.5 796.7 912.4 798.7 912.3 800.7 912.2 802.7 912.1 804.7 911.9 806.7 911.8 808.7 911.7 810.7 911.6 812.7 911.4 814.7 911.3 816.7 911.1 818.7 911 820.7 910.9 822.7 910.7 824.7 910.6 826.7 910.5 828.7 910.3 830.7 910.2 832.7 910.1 834.7 909.9 836.7 909.8 838.7 909.6 840.7 909.5 842.7 909.3 844.7 909.1 846.7 908.9 848.7 908.6 850.7 908.3 852.7 908 854.7 907.6 856.7 907.2 858.7 906.8 860.7 906.3 862.7 905.8 864.7 905.3 866.7 904.8 868.7 904.2 870.7 903.7 872.7 903.2 874.7 902.8 876.7 902.3 878.7 901.9 880.7 901.5 882.7 901.1 884.7 900.7 886.7 900.3 888.7 899.9 890.7 899.5 892.7 899.1 894.7 898.7 896.7 898.2 898.7 897.6 900.7 897 902.7 896.3 904.7 895.5 906.7 894.5 908.7 893.5 910.7 892.3 912.7 891.1 914.7 889.8 916.7 888.4 918.7 887 920.7 885.4 922.7 883.8 924.7 882.1 926.7 880.3 928.7 878.3 930.7 876.1 932.7 873.7 934.7 871.1 936.7 868.2 938.7 865.1 940.7 861.9 942.7 858.5 944.7 854.9 946.7 851.2 948.7 847.2 950.7 842.9 952.7 838.3 954.7 833.2 956.7 827.7 958.7 821.8 960.7 815.8 962.7 809.9 964.7 804.3 966.7 799.1 968.7 794.2 970.7 789.5 972.7 785 974.7 780.6 976.7 776.2 978.7 771.7 980.7 767.2 982.7 762.7 984.7 758.2 986.7 753.6 988.7 749 990.7 744.3 992.7 739.6 994.7 734.9 996.7 730.3 998.7 725.7 1000.7 721.3 1002.7 717.1 1004.7 713.2 1006.7 709.4 1008.7 705.9 1010.7 702.4 1012.7 699 1014.7 695.5 1016.7 692.1 1018.7 688.6 1020.7 685 1022.7 681.4 1024.7 677.7 1026.7 673.8 1028.7 669.8 1030.7 665.7 1032.7 661.4 1034.7 656.9 1036.7 652.2 1038.7 647.1 1040.7 641.7 1042.7 635.8 1044.7 629.6 1046.7 623.3 1048.7 616.7 1050.7 610.1 1052.7 603.2 1054.7 596 1056.7 588.2 1058.7 579.9 1060.7 571 1062.7 561.8 1064.7 552.5 1066.7 543 1068.7 533.7 1070.7 524.7 1072.7 515.8 1074.7 507.3 1076.7 499 1078.7 490.9 1080.7 482.9 1082.7 474.9 1084.7 466.9 1086.7 459.1 1088.7 451.5 1090.7 444.2 1092.7 437.1 1094.7 430.3 1096.7 423.7 1098.7 417.5 1100.7 411.5 1102.7 405.9 1104.7 400.7 1106.7 395.9 1108.7 391.4 1110.7 387.2 1112.7 383.2 1114.7 379.3 1116.7 375.5 1118.7 371.7 1120.7 367.9 1122.7 364.4 1124.7 360.9 1126.7 357.7 1128.7 354.7 1130.7 351.8 1132.7 349 1134.7 346.3 1136.7 343.7 1138.7 341.2 1140.7 338.7 1142.7 336.3 1144.7 334 1146.7 331.9 1148.7 329.8 1150.7 327.9 1152.7 326.1 1154.7 324.6 1156.7 323.3 1158.7 322.2 1160.7 321.3 1162.7 320.7 1164.7 320.2 1166.7 319.9 1168.7 319.8 1170.7 320 1172.7 320.4 1174.7 320.9 1176.7 321.6 1178.7 322.4 1180.7 323.3 1182.7 324.3 1184.7 325.4 1186.7 326.7 1188.7 328.1 1190.7 329.8 1192.7 331.7 1194.7 333.8 1196.7 336.1 1198.7 338.6 1200.7 341.2 1202.7 343.8 1204.7 346.5 1206.7 349.1 1208.7 351.7 1210.7 354.3 1212.7 357 1214.7 359.7 1216.7 362.4 1218.7 365.1 1220.7 367.8 1222.7 370.5 1224.7 373.2 1226.7 375.9 1228.7 378.6 1230.7 381.4 1232.7 384.1 1234.7 386.8 1236.7 389.5 1238.7 392.2 1240.7 394.8 1242.7 397.5 1244.7 400.1 1246.7 402.7 1248.7 405.2 1250.7 407.8 1252.7 410.4 1254.7 412.9 1256.7 415.4 1258.7 417.9 1260.7 420.3 1262.7 422.7 1264.7 425.2 1266.7 427.6 1268.7 430 1270.7 432.3 1272.7 434.6 1274.7 436.8 1276.7 438.8 1278.7 440.7 1280.7 442.5 1282.7 444.1 1284.7 445.6 1286.7 446.9 1288.7 448.2 1290.7 449.3 1292.7 450.4 1294.7 451.4 1296.7 452.5 1298.7 453.5 1300.7 454.5 1302.7 455.5 1304.7 456.5 1306.7 457.5 1308.7 458.5 1310.7 459.5 1312.7 460.5 1314.7 461.4 1316.7 462.3 1318.7 463.3 1320.7 464.1 1322.7 465 1324.7 465.8 1326.7 466.6 1328.7 467.4 1330.7 468.1 1332.7 468.8 1334.7 469.4 1336.7 470.1 1338.7 470.7 1340.7 471.3 1342.7 472 1344.7 472.7 1346.7 473.4 1348.7 474.1 1350.7 474.9 1352.7 475.6 1354.7 476.4 1356.7 477.2 1358.7 478 1360.7 478.7 1362.7 479.4 1364.7 480.1 1366.7 480.8 1368.7 481.4 1370.7 482.1 1372.7 482.6 1374.7 483.2 1376.7 483.8 1378.7 484.3 1380.7 484.9 1382.7 485.4 1384.7 485.9 1386.7 486.3 1388.7 486.7 1390.7 487.1 1392.7 487.5 1394.7 487.8 1396.7 488.1 1398.7 488.3 1400.7 488.6 1402.7 488.8 1404.7 489 1406.7 489.2 1408.7 489.3 1410.7 489.6 1412.7 489.8 1414.7 490 1416.7 490.3 1418.7 490.7 1420.7 491.1 1422.7 491.5 1424.7 492.1 1426.7 492.7 1428.7 493.3 1430.7 494 1432.7 494.7 1434.7 495.4 1436.7 496.1 1438.7 496.7 1440.7 497.4 1442.7 498.1 1444.7 498.8 1446.7 499.5 1448.7 500.2 1450.7 500.9 1452.7 501.6 1454.7 502.3 1456.7 502.9 1458.7 503.6 1460.7 504.2 1462.7 504.8 1464.7 505.3 1466.7 505.8 1468.7 506.3 1470.7 506.8 1472.7 507.3 1474.7 507.8 1476.7 508.3 1478.7 508.8 1480.7 509.3 1482.7 509.8 1484.7 510.3 1486.7 510.9 1488.7 511.4 1490.7 512 1492.7 512.6 1494.7 513.2 1496.7 513.7 1498.7 514.3 1500.7 514.9 1502.7 515.5 1504.7 516.1 1506.7 516.7 1508.7 517.4 1510.7 518 1512.7 518.7 1514.7 519.3 1516.7 519.9 1518.7 520.4 1520.7 520.8 1522.7 521.2 1524.7 521.5 1526.7 521.7 1528.7 521.9 1530.7 522.1 1532.7 522.2 1534.7 522.4 1536.7 522.5 1538.7 522.6 1540.7 522.7 1542.7 522.9 1544.7 523.1 1546.7 523.2 1548.7 523.4 1550.7 523.6 1552.7 523.7 1554.7 523.9 1556.7 524 1558.7 524.2 1560.7 524.3 1562.7 524.4 1564.7 524.5 1566.7 524.6 1568.7 524.7 1570.7 524.8 1572.7 524.8 1574.7 524.9 1576.7 525 1578.7 525.1 1580.7 525.1 1582.7 525.2 1584.7 525.3 1586.7 525.3 1588.7 525.4 1590.7 525.4 1592.7 525.4 1594.4 525.4L1594.4 965.1 Z"/></defs>
<use href="#w7" fill="#fff" stroke="none"/>
<g fill="none" stroke="#000" stroke-linejoin="miter" stroke-linecap="butt">
<use href="#w7" stroke-width="3.2"/>
<use href="#w7" transform="translate(1.45 1.45)" stroke-width="1"/>
<use href="#w7" transform="translate(1.45 -1.45)" stroke-width="1"/>
<use href="#w7" transform="translate(-1.45 1.45)" stroke-width="1"/>
<use href="#w7" transform="translate(-1.45 -1.45)" stroke-width="1"/>
</g>
<defs><path id="w8" d="M521.3 998.7L521.3 950.7 523.3 950.7 525.3 950.6 527.3 950.6 529.3 950.6 531.3 950.6 533.3 950.6 535.3 950.6 537.3 950.6 539.3 950.6 541.3 950.6 543.3 950.6 545.3 950.6 547.3 950.6 549.3 950.6 551.3 950.6 553.3 950.6 555.3 950.6 557.3 950.6 559.3 950.6 561.3 950.6 563.3 950.6 565.3 950.6 567.3 950.6 569.3 950.6 571.3 950.6 573.3 950.5 575.3 950.5 577.3 950.5 579.3 950.5 581.3 950.5 583.3 950.5 585.3 950.5 587.3 950.5 589.3 950.5 591.3 950.5 593.3 950.5 595.3 950.5 597.3 950.5 599.3 950.5 601.3 950.5 603.3 950.5 605.3 950.5 607.3 950.5 609.3 950.5 611.3 950.5 613.3 950.5 615.3 950.5 617.3 950.5 619.3 950.5 621.3 950.5 623.3 950.4 625.3 950.4 627.3 950.4 629.3 950.4 631.3 950.4 633.3 950.4 635.3 950.4 637.3 950.4 639.3 950.4 641.3 950.4 643.3 950.4 645.3 950.4 647.3 950.4 649.3 950.4 651.3 950.3 653.3 950.3 655.3 950.3 657.3 950.3 659.3 950.3 661.3 950.2 663.3 950.2 665.3 950.2 667.3 950.2 669.3 950.1 671.3 950.1 673.3 950.1 675.3 950.1 677.3 950.1 679.3 950 681.3 950 683.3 950 685.3 950 687.3 950 689.3 950 691.3 949.9 693.3 949.9 695.3 949.9 697.3 949.9 699.3 949.9 701.3 949.9 703.3 949.8 705.3 949.8 707.3 949.8 709.3 949.8 711.3 949.8 713.3 949.8 715.3 949.8 717.3 949.7 719.3 949.7 721.3 949.7 723.3 949.7 725.3 949.7 727.3 949.7 729.3 949.6 731.3 949.6 733.3 949.6 735.3 949.6 737.3 949.6 739.3 949.6 741.3 949.5 743.3 949.5 745.3 949.5 747.3 949.5 749.3 949.5 751.3 949.5 753.3 949.4 755.3 949.4 757.3 949.4 759.3 949.4 761.3 949.4 763.3 949.4 765.3 949.4 767.3 949.3 769.3 949.3 771.3 949.3 773.3 949.3 775.3 949.3 777.3 949.3 779.3 949.2 781.3 949.2 783.3 949.2 785.3 949.2 787.3 949.2 789.3 949.2 791.3 949.1 793.3 949.1 795.3 949.1 797.3 949.1 799.3 949 801.3 948.9 803.3 948.8 805.3 948.7 807.3 948.6 809.3 948.4 811.3 948.3 813.3 948.1 815.3 947.9 817.3 947.8 819.3 947.6 821.3 947.5 823.3 947.4 825.3 947.2 827.3 947.1 829.3 947 831.3 946.8 833.3 946.7 835.3 946.6 837.3 946.4 839.3 946.3 841.3 946.2 843.3 946 845.3 945.9 847.3 945.7 849.3 945.6 851.3 945.4 853.3 945.2 855.3 945 857.3 944.9 859.3 944.6 861.3 944.4 863.3 944.2 865.3 944 867.3 943.7 869.3 943.4 871.3 943.1 873.3 942.7 875.3 942.3 877.3 941.9 879.3 941.3 881.3 940.7 883.3 940 885.3 939.2 887.3 938.4 889.3 937.6 891.3 936.8 893.3 935.9 895.3 935.1 897.3 934.3 899.3 933.6 901.3 932.8 903.3 932.1 905.3 931.4 907.3 930.6 909.3 929.8 911.3 928.9 913.3 927.9 915.3 926.7 917.3 925.4 919.3 923.8 921.3 921.9 923.3 919.9 925.3 917.6 927.3 915.1 929.3 912.4 931.3 909.5 933.3 906.3 935.3 902.8 937.3 899.2 939.3 895.3 941.3 891.2 943.3 887 945.3 882.6 947.3 878.1 949.3 873.5 951.3 869.1 953.3 864.7 955.3 860.4 957.3 856.2 959.3 852 961.3 847.9 963.3 843.9 965.3 839.9 967.3 836 969.3 832.3 971.3 828.8 973.3 825.5 975.3 822.4 977.3 819.3 979.3 816.2 981.3 813.1 983.3 809.8 985.3 806.4 987.3 802.9 989.3 799.4 991.3 795.9 993.3 792.4 995.3 788.8 997.3 785.3 999.3 781.8 1001.3 778.3 1003.3 774.8 1005.3 771.3 1007.3 767.8 1009.3 764.3 1011.3 760.8 1013.3 757.3 1015.3 753.8 1017.3 750.3 1019.3 746.8 1021.3 743.3 1023.3 739.8 1025.3 736.3 1027.3 732.8 1029.3 729.3 1031.3 725.8 1033.3 722.4 1035.3 718.9 1037.3 715.4 1039.3 711.9 1041.3 708.4 1043.3 704.8 1045.3 701.2 1047.3 697.4 1049.3 693.5 1051.3 689.6 1053.3 685.5 1055.3 681.3 1057.3 676.9 1059.3 672.4 1061.3 667.7 1063.3 662.8 1065.3 657.6 1067.3 652.1 1069.3 646.4 1071.3 640.4 1073.3 634.2 1075.3 627.6 1077.3 620.8 1079.3 613.7 1081.3 606.3 1083.3 598.9 1085.3 591.4 1087.3 583.9 1089.3 576.5 1091.3 569.2 1093.3 562 1095.3 555 1097.3 548.2 1099.3 541.4 1101.3 534.7 1103.3 528.1 1105.3 521.4 1107.3 514.7 1109.3 508.1 1111.3 501.4 1113.3 494.7 1115.3 488.1 1117.3 481.5 1119.3 475.1 1121.3 468.9 1123.3 463 1125.3 457.4 1127.3 452.3 1129.3 447.5 1131.3 443.2 1133.3 439.1 1135.3 435.4 1137.3 432 1139.3 428.9 1141.3 426 1143.3 423.2 1145.3 420.7 1147.3 418.3 1149.3 415.9 1151.3 413.7 1153.3 411.5 1155.3 409.3 1157.3 407 1159.3 404.7 1161.3 402.2 1163.3 399.8 1165.3 397.4 1167.3 395.2 1169.3 393.2 1171.3 391.4 1173.3 389.7 1175.3 388.2 1177.3 386.8 1179.3 385.6 1181.3 384.7 1183.3 384 1185.3 383.5 1187.3 383.2 1189.3 383 1191.3 382.9 1193.3 383 1195.3 383.2 1197.3 383.6 1199.3 384.2 1201.3 385.1 1203.3 386.2 1205.3 387.6 1207.3 389.2 1209.3 390.9 1211.3 392.7 1213.3 394.6 1215.3 396.5 1217.3 398.4 1219.3 400.4 1221.3 402.4 1223.3 404.4 1225.3 406.4 1227.3 408.4 1229.3 410.4 1231.3 412.4 1233.3 414.4 1235.3 416.4 1237.3 418.4 1239.3 420.4 1241.3 422.5 1243.3 424.6 1245.3 426.7 1247.3 428.8 1249.3 430.9 1251.3 433 1253.3 435 1255.3 437 1257.3 439 1259.3 440.8 1261.3 442.7 1263.3 444.5 1265.3 446.3 1267.3 448.1 1269.3 450 1271.3 451.9 1273.3 453.9 1275.3 455.9 1277.3 457.9 1279.3 459.9 1281.3 461.8 1283.3 463.6 1285.3 465.3 1287.3 467 1289.3 468.6 1291.3 470.1 1293.3 471.6 1295.3 473 1297.3 474.5 1299.3 475.9 1301.3 477.3 1303.3 478.6 1305.3 480 1307.3 481.3 1309.3 482.6 1311.3 483.8 1313.3 484.9 1315.3 485.8 1317.3 486.7 1319.3 487.4 1321.3 488 1323.3 488.6 1325.3 489.2 1327.3 489.7 1329.3 490.3 1331.3 490.8 1333.3 491.4 1335.3 492 1337.3 492.7 1339.3 493.4 1341.3 494 1343.3 494.7 1345.3 495.4 1347.3 496 1349.3 496.7 1351.3 497.3 1353.3 497.8 1355.3 498.3 1357.3 498.8 1359.3 499.3 1361.3 499.7 1363.3 500.2 1365.3 500.6 1367.3 501 1369.3 501.4 1371.3 501.8 1373.3 502.2 1375.3 502.6 1377.3 503 1379.3 503.5 1381.3 503.9 1383.3 504.3 1385.3 504.7 1387.3 505.2 1389.3 505.6 1391.3 506 1393.3 506.4 1395.3 506.9 1397.3 507.3 1399.3 507.7 1401.3 508.1 1403.3 508.6 1405.3 509 1407.3 509.4 1409.3 509.9 1411.3 510.2 1413.3 510.6 1415.3 511 1417.3 511.3 1419.3 511.6 1421.3 511.8 1423.3 512.1 1425.3 512.3 1427.3 512.5 1429.3 512.7 1431.3 512.8 1433.3 513 1435.3 513.2 1437.3 513.4 1439.3 513.6 1441.3 513.7 1443.3 513.9 1445.3 514.2 1447.3 514.4 1449.3 514.8 1451.3 515.3 1453.3 516 1455.3 516.9 1457.3 517.8 1459.3 518.8 1461.3 519.6 1463.3 520.4 1465.3 521.1 1467.3 521.7 1469.3 522.2 1471.3 522.7 1473.3 523.2 1475.3 523.7 1477.3 524.1 1479.3 524.6 1481.3 525.1 1483.3 525.6 1485.3 526.2 1487.3 526.8 1489.3 527.4 1491.3 528 1493.3 528.7 1495.3 529.3 1497.3 530 1499.3 530.6 1501.3 531.2 1503.3 531.8 1505.3 532.3 1507.3 532.9 1509.3 533.4 1511.3 533.9 1513.3 534.4 1515.3 534.9 1517.3 535.4 1519.3 536 1521.3 536.6 1523.3 537.3 1525.3 538 1527.3 538.6 1529.3 539.1 1531.3 539.5 1533.3 539.7 1535.3 539.8 1537.3 539.8 1539.3 539.8 1541.3 539.8 1543.3 539.9 1545.3 540.1 1547.3 540.5 1549.3 541 1551.3 541.5 1553.3 542.2 1555.3 542.8 1557.3 543.4 1559.3 543.9 1561.3 544.4 1563.3 544.7 1565.3 545 1567.3 545.2 1569.3 545.4 1571.3 545.5 1573.3 545.6 1575.3 545.7 1577.3 545.9 1579.3 546 1581.3 546.2 1583.3 546.5 1585.3 547 1587.3 547.6 1589.3 548.2 1591.3 548.8 1593.3 549.3 1595.3 549.6 1597.3 549.7 1599.3 549.7 1601.3 549.8 1603.3 550 1605.3 550.2 1607.3 550.3 1609.3 550.3 1611.3 550.1 1613.3 549.7 1615.3 549.3 1617.3 548.9 1618.9 548.7L1618.9 998.7 Z"/></defs>
<use href="#w8" fill="#fff" stroke="none"/>
<g fill="none" stroke="#000" stroke-linejoin="miter" stroke-linecap="butt">
<use href="#w8" stroke-width="3.2"/>
<use href="#w8" transform="translate(1.45 1.45)" stroke-width="1"/>
<use href="#w8" transform="translate(1.45 -1.45)" stroke-width="1"/>
<use href="#w8" transform="translate(-1.45 1.45)" stroke-width="1"/>
<use href="#w8" transform="translate(-1.45 -1.45)" stroke-width="1"/>
</g>
<defs><path id="w9" d="M545.8 1032.2L545.8 984.2 547.8 984.2 549.8 984.2 551.8 984.1 553.8 984.1 555.8 984.1 557.8 984.1 559.8 984.1 561.8 984.1 563.8 984.1 565.8 984.1 567.8 984 569.8 984 571.8 984 573.8 984 575.8 984 577.8 984 579.8 984 581.8 984 583.8 983.9 585.8 983.9 587.8 983.9 589.8 983.9 591.8 983.9 593.8 983.9 595.8 983.9 597.8 983.9 599.8 983.9 601.8 983.8 603.8 983.8 605.8 983.8 607.8 983.8 609.8 983.8 611.8 983.8 613.8 983.8 615.8 983.8 617.8 983.8 619.8 983.8 621.8 983.8 623.8 983.9 625.8 983.9 627.8 983.9 629.8 983.9 631.8 984 633.8 984 635.8 984 637.8 984 639.8 984 641.8 984.1 643.8 984.1 645.8 984.1 647.8 984.1 649.8 984.2 651.8 984.2 653.8 984.2 655.8 984.2 657.8 984.3 659.8 984.3 661.8 984.3 663.8 984.3 665.8 984.4 667.8 984.4 669.8 984.4 671.8 984.4 673.8 984.5 675.8 984.5 677.8 984.5 679.8 984.6 681.8 984.6 683.8 984.6 685.8 984.6 687.8 984.7 689.8 984.7 691.8 984.7 693.8 984.7 695.8 984.8 697.8 984.8 699.8 984.8 701.8 984.9 703.8 984.9 705.8 984.9 707.8 984.9 709.8 985 711.8 985 713.8 985 715.8 985 717.8 985.1 719.8 985.1 721.8 985.1 723.8 985.1 725.8 985.2 727.8 985.2 729.8 985.2 731.8 985.2 733.8 985.2 735.8 985.3 737.8 985.3 739.8 985.3 741.8 985.3 743.8 985.3 745.8 985.3 747.8 985.3 749.8 985.3 751.8 985.3 753.8 985.3 755.8 985.3 757.8 985.2 759.8 985.2 761.8 985.2 763.8 985.2 765.8 985.2 767.8 985.2 769.8 985.1 771.8 985.1 773.8 985.1 775.8 985 777.8 985 779.8 984.9 781.8 984.8 783.8 984.7 785.8 984.6 787.8 984.5 789.8 984.4 791.8 984.3 793.8 984.3 795.8 984.2 797.8 984.2 799.8 984.1 801.8 984.1 803.8 984 805.8 983.9 807.8 983.8 809.8 983.6 811.8 983.5 813.8 983.4 815.8 983.2 817.8 983.1 819.8 982.9 821.8 982.7 823.8 982.6 825.8 982.4 827.8 982.2 829.8 982 831.8 981.8 833.8 981.6 835.8 981.4 837.8 981.2 839.8 980.9 841.8 980.7 843.8 980.4 845.8 980.1 847.8 979.8 849.8 979.5 851.8 979.2 853.8 978.9 855.8 978.6 857.8 978.3 859.8 978 861.8 977.7 863.8 977.4 865.8 977.2 867.8 976.9 869.8 976.7 871.8 976.5 873.8 976.3 875.8 976.1 877.8 975.9 879.8 975.7 881.8 975.5 883.8 975.3 885.8 975.1 887.8 974.9 889.8 974.6 891.8 974.3 893.8 973.9 895.8 973.5 897.8 972.9 899.8 972.3 901.8 971.6 903.8 970.9 905.8 970 907.8 969.2 909.8 968.2 911.8 967.3 913.8 966.3 915.8 965.2 917.8 964.1 919.8 963 921.8 961.7 923.8 960.4 925.8 959.1 927.8 957.7 929.8 956.2 931.8 954.5 933.8 952.8 935.8 950.8 937.8 948.4 939.8 945.6 941.8 942.3 943.8 938.5 945.8 934.4 947.8 929.9 949.8 925.3 951.8 920.6 953.8 915.7 955.8 910.6 957.8 905.2 959.8 899.5 961.8 893.6 963.8 887.6 965.8 881.5 967.8 875.4 969.8 869.2 971.8 862.9 973.8 856.5 975.8 850.1 977.8 843.8 979.8 837.6 981.8 831.8 983.8 826.5 985.8 821.6 987.8 817.4 989.8 813.6 991.8 810.4 993.8 807.7 995.8 805.4 997.8 803.4 999.8 801.8 1001.8 800.4 1003.8 799 1005.8 797.7 1007.8 796.3 1009.8 794.8 1011.8 793.2 1013.8 791.4 1015.8 789.6 1017.8 787.6 1019.8 785.5 1021.8 783.2 1023.8 780.8 1025.8 778.2 1027.8 775.6 1029.8 772.9 1031.8 770.1 1033.8 767.2 1035.8 764.1 1037.8 760.9 1039.8 757.5 1041.8 753.9 1043.8 750.1 1045.8 746.2 1047.8 742.3 1049.8 738.4 1051.8 734.6 1053.8 730.9 1055.8 727.3 1057.8 723.8 1059.8 720.3 1061.8 716.8 1063.8 713.3 1065.8 709.8 1067.8 706.3 1069.8 702.8 1071.8 699.4 1073.8 695.9 1075.8 692.4 1077.8 688.9 1079.8 685.4 1081.8 681.8 1083.8 678 1085.8 674.2 1087.8 670.1 1089.8 665.9 1091.8 661.3 1093.8 656.4 1095.8 651.2 1097.8 645.7 1099.8 640 1101.8 633.9 1103.8 627.6 1105.8 621.1 1107.8 614.4 1109.8 607.5 1111.8 600.6 1113.8 593.7 1115.8 586.9 1117.8 580.2 1119.8 573.5 1121.8 566.8 1123.8 560.1 1125.8 553.5 1127.8 547 1129.8 540.8 1131.8 534.7 1133.8 529 1135.8 523.5 1137.8 518.4 1139.8 513.7 1141.8 509.4 1143.8 505.4 1145.8 501.8 1147.8 498.4 1149.8 495.1 1151.8 491.9 1153.8 488.8 1155.8 485.8 1157.8 483 1159.8 480.2 1161.8 477.7 1163.8 475.4 1165.8 473.3 1167.8 471.4 1169.8 469.6 1171.8 468 1173.8 466.5 1175.8 465.1 1177.8 463.8 1179.8 462.5 1181.8 461.4 1183.8 460.3 1185.8 459.3 1187.8 458.4 1189.8 457.5 1191.8 456.7 1193.8 455.8 1195.8 455.1 1197.8 454.3 1199.8 453.7 1201.8 453.2 1203.8 452.8 1205.8 452.6 1207.8 452.6 1209.8 452.8 1211.8 453.1 1213.8 453.5 1215.8 454 1217.8 454.6 1219.8 455.2 1221.8 455.9 1223.8 456.7 1225.8 457.6 1227.8 458.6 1229.8 459.6 1231.8 460.7 1233.8 461.9 1235.8 463.2 1237.8 464.5 1239.8 465.8 1241.8 467.2 1243.8 468.7 1245.8 470.1 1247.8 471.5 1249.8 473 1251.8 474.4 1253.8 475.9 1255.8 477.3 1257.8 478.6 1259.8 479.9 1261.8 481.1 1263.8 482.2 1265.8 483.3 1267.8 484.3 1269.8 485.3 1271.8 486.3 1273.8 487.3 1275.8 488.4 1277.8 489.5 1279.8 490.7 1281.8 491.9 1283.8 493.1 1285.8 494.3 1287.8 495.6 1289.8 496.9 1291.8 498.2 1293.8 499.5 1295.8 500.8 1297.8 502.1 1299.8 503.4 1301.8 504.7 1303.8 506 1305.8 507.3 1307.8 508.5 1309.8 509.7 1311.8 510.9 1313.8 512.1 1315.8 513.2 1317.8 514.3 1319.8 515.4 1321.8 516.4 1323.8 517.5 1325.8 518.5 1327.8 519.4 1329.8 520.3 1331.8 521.2 1333.8 522 1335.8 522.8 1337.8 523.5 1339.8 524.2 1341.8 524.8 1343.8 525.5 1345.8 526.1 1347.8 526.7 1349.8 527.2 1351.8 527.8 1353.8 528.3 1355.8 528.9 1357.8 529.4 1359.8 529.9 1361.8 530.4 1363.8 530.8 1365.8 531.3 1367.8 531.8 1369.8 532.2 1371.8 532.6 1373.8 533 1375.8 533.4 1377.8 533.8 1379.8 534.2 1381.8 534.6 1383.8 535 1385.8 535.4 1387.8 536 1389.8 536.6 1391.8 537.4 1393.8 538.3 1395.8 539.2 1397.8 540 1399.8 540.6 1401.8 541 1403.8 541.2 1405.8 541.2 1407.8 541.3 1409.8 541.3 1411.8 541.3 1413.8 541.4 1415.8 541.5 1417.8 541.8 1419.8 542.1 1421.8 542.4 1423.8 542.7 1425.8 543 1427.8 543.2 1429.8 543.4 1431.8 543.6 1433.8 543.8 1435.8 543.9 1437.8 544 1439.8 544.2 1441.8 544.3 1443.8 544.4 1445.8 544.5 1447.8 544.5 1449.8 544.6 1451.8 544.7 1453.8 544.8 1455.8 544.9 1457.8 545 1459.8 545.2 1461.8 545.3 1463.8 545.4 1465.8 545.5 1467.8 545.6 1469.8 545.7 1471.8 545.9 1473.8 546.1 1475.8 546.2 1477.8 546.4 1479.8 546.7 1481.8 546.9 1483.8 547.2 1485.8 547.6 1487.8 547.9 1489.8 548.2 1491.8 548.6 1493.8 548.9 1495.8 549.2 1497.8 549.5 1499.8 549.8 1501.8 550.1 1503.8 550.3 1505.8 550.6 1507.8 550.8 1509.8 551 1511.8 551.3 1513.8 551.5 1515.8 551.8 1517.8 552.1 1519.8 552.4 1521.8 552.7 1523.8 553 1525.8 553.4 1527.8 553.7 1529.8 554.1 1531.8 554.4 1533.8 554.6 1535.8 554.8 1537.8 555 1539.8 555.1 1541.8 555.2 1543.8 555.4 1545.8 555.6 1547.8 555.9 1549.8 556.2 1551.8 556.5 1553.8 556.9 1555.8 557.2 1557.8 557.5 1559.8 557.7 1561.8 557.9 1563.8 558.1 1565.8 558.2 1567.8 558.4 1569.8 558.5 1571.8 558.5 1573.8 558.6 1575.8 558.7 1577.8 558.8 1579.8 558.8 1581.8 558.8 1583.8 558.9 1585.8 558.9 1587.8 558.9 1589.8 558.9 1591.8 558.9 1593.8 558.9 1595.8 558.9 1597.8 558.9 1599.8 559 1601.8 559.1 1603.8 559.3 1605.8 559.7 1607.8 560.1 1609.8 560.6 1611.8 561 1613.8 561.4 1615.8 561.6 1617.8 561.8 1619.8 561.8 1621.8 561.8 1623.8 561.7 1625.8 561.6 1627.8 561.6 1629.8 561.6 1631.8 561.6 1633.8 561.6 1635.8 561.6 1637.8 561.6 1639.8 561.6 1641.8 561.6 1643.7 561.7L1643.7 1032.2 Z"/></defs>
<use href="#w9" fill="#fff" stroke="none"/>
<g fill="none" stroke="#000" stroke-linejoin="miter" stroke-linecap="butt">
<use href="#w9" stroke-width="3.2"/>
<use href="#w9" transform="translate(1.45 1.45)" stroke-width="1"/>
<use href="#w9" transform="translate(1.45 -1.45)" stroke-width="1"/>
<use href="#w9" transform="translate(-1.45 1.45)" stroke-width="1"/>
<use href="#w9" transform="translate(-1.45 -1.45)" stroke-width="1"/>
</g>
<defs><path id="w10" d="M570.4 1065.7L570.4 1017.7 572.4 1017.7 574.4 1017.6 576.4 1017.6 578.4 1017.6 580.4 1017.5 582.4 1017.5 584.4 1017.5 586.4 1017.5 588.4 1017.4 590.4 1017.4 592.4 1017.4 594.4 1017.3 596.4 1017.3 598.4 1017.3 600.4 1017.2 602.4 1017.2 604.4 1017.2 606.4 1017.1 608.4 1017.1 610.4 1017.1 612.4 1017 614.4 1017 616.4 1017 618.4 1017 620.4 1016.9 622.4 1016.9 624.4 1016.9 626.4 1016.8 628.4 1016.8 630.4 1016.8 632.4 1016.7 634.4 1016.7 636.4 1016.7 638.4 1016.7 640.4 1016.7 642.4 1016.6 644.4 1016.6 646.4 1016.6 648.4 1016.6 650.4 1016.7 652.4 1016.7 654.4 1016.7 656.4 1016.7 658.4 1016.7 660.4 1016.7 662.4 1016.7 664.4 1016.7 666.4 1016.7 668.4 1016.7 670.4 1016.7 672.4 1016.7 674.4 1016.7 676.4 1016.7 678.4 1016.7 680.4 1016.7 682.4 1016.7 684.4 1016.7 686.4 1016.7 688.4 1016.8 690.4 1016.8 692.4 1016.8 694.4 1016.8 696.4 1016.8 698.4 1016.8 700.4 1016.8 702.4 1016.8 704.4 1016.8 706.4 1016.8 708.4 1016.8 710.4 1016.8 712.4 1016.8 714.4 1016.9 716.4 1016.9 718.4 1016.9 720.4 1016.9 722.4 1016.9 724.4 1016.9 726.4 1016.9 728.4 1016.9 730.4 1016.9 732.4 1016.9 734.4 1016.9 736.4 1016.9 738.4 1017 740.4 1017 742.4 1017 744.4 1017 746.4 1017 748.4 1017 750.4 1017 752.4 1017 754.4 1017 756.4 1017 758.4 1017 760.4 1017 762.4 1017 764.4 1017 766.4 1017 768.4 1017 770.4 1017 772.4 1016.9 774.4 1016.9 776.4 1016.9 778.4 1016.8 780.4 1016.8 782.4 1016.8 784.4 1016.7 786.4 1016.7 788.4 1016.6 790.4 1016.6 792.4 1016.6 794.4 1016.6 796.4 1016.5 798.4 1016.5 800.4 1016.4 802.4 1016.3 804.4 1016.2 806.4 1016.1 808.4 1016 810.4 1015.8 812.4 1015.7 814.4 1015.6 816.4 1015.5 818.4 1015.4 820.4 1015.3 822.4 1015.3 824.4 1015.3 826.4 1015.2 828.4 1015.2 830.4 1015.2 832.4 1015.2 834.4 1015.2 836.4 1015.2 838.4 1015.2 840.4 1015.2 842.4 1015.2 844.4 1015.2 846.4 1015.2 848.4 1015.2 850.4 1015.2 852.4 1015.1 854.4 1015.1 856.4 1014.9 858.4 1014.7 860.4 1014.5 862.4 1014.1 864.4 1013.8 866.4 1013.4 868.4 1013.1 870.4 1012.7 872.4 1012.4 874.4 1012.2 876.4 1012 878.4 1011.9 880.4 1011.8 882.4 1011.7 884.4 1011.6 886.4 1011.5 888.4 1011.4 890.4 1011.3 892.4 1011.2 894.4 1011 896.4 1010.8 898.4 1010.5 900.4 1010.1 902.4 1009.6 904.4 1009.1 906.4 1008.6 908.4 1008 910.4 1007.4 912.4 1006.8 914.4 1006.2 916.4 1005.7 918.4 1005.2 920.4 1004.7 922.4 1004.2 924.4 1003.7 926.4 1003.1 928.4 1002.5 930.4 1001.9 932.4 1001.1 934.4 1000.1 936.4 998.9 938.4 997.6 940.4 996 942.4 994.2 944.4 992.2 946.4 990.1 948.4 988 950.4 985.7 952.4 983.4 954.4 980.8 956.4 978.1 958.4 975 960.4 971.5 962.4 967.4 964.4 962.5 966.4 956.8 968.4 950.2 970.4 943.1 972.4 935.7 974.4 928.5 976.4 921.5 978.4 914.6 980.4 907.9 982.4 901.2 984.4 894.7 986.4 888.3 988.4 882.2 990.4 876.4 992.4 870.9 994.4 865.6 996.4 860.4 998.4 855.1 1000.4 849.9 1002.4 844.9 1004.4 840.2 1006.4 835.8 1008.4 831.9 1010.4 828.4 1012.4 825.2 1014.4 822.3 1016.4 819.7 1018.4 817.5 1020.4 815.6 1022.4 814 1024.4 812.6 1026.4 811.5 1028.4 810.4 1030.4 809.3 1032.4 808.2 1034.4 806.9 1036.4 805.5 1038.4 803.9 1040.4 802.3 1042.4 800.6 1044.4 798.9 1046.4 797 1048.4 795.2 1050.4 793.2 1052.4 791.2 1054.4 789 1056.4 786.6 1058.4 784 1060.4 781.2 1062.4 778.3 1064.4 775.2 1066.4 771.9 1068.4 768.6 1070.4 765.2 1072.4 761.8 1074.4 758.3 1076.4 754.8 1078.4 751.2 1080.4 747.7 1082.4 744.2 1084.4 740.7 1086.4 737.2 1088.4 733.7 1090.4 730.2 1092.4 726.7 1094.4 723.2 1096.4 719.7 1098.4 716.2 1100.4 712.7 1102.4 709.3 1104.4 705.8 1106.4 702.3 1108.4 698.7 1110.4 695 1112.4 691.1 1114.4 687.1 1116.4 682.7 1118.4 677.8 1120.4 672.4 1122.4 666.6 1124.4 660.4 1126.4 654 1128.4 647.7 1130.4 641.6 1132.4 636.1 1134.4 631 1136.4 626.3 1138.4 621.8 1140.4 617.3 1142.4 612.7 1144.4 608 1146.4 603.2 1148.4 598.3 1150.4 593.4 1152.4 588.4 1154.4 583.6 1156.4 579 1158.4 574.7 1160.4 570.6 1162.4 566.7 1164.4 563 1166.4 559.4 1168.4 555.9 1170.4 552.4 1172.4 549.2 1174.4 546.2 1176.4 543.5 1178.4 541 1180.4 538.7 1182.4 536.6 1184.4 534.8 1186.4 533 1188.4 531.4 1190.4 529.9 1192.4 528.5 1194.4 527.1 1196.4 525.9 1198.4 524.8 1200.4 523.8 1202.4 522.9 1204.4 522 1206.4 521.2 1208.4 520.6 1210.4 520 1212.4 519.5 1214.4 519.2 1216.4 519.1 1218.4 519 1220.4 519 1222.4 519.1 1224.4 519.3 1226.4 519.4 1228.4 519.6 1230.4 519.8 1232.4 520 1234.4 520.3 1236.4 520.5 1238.4 520.8 1240.4 521.2 1242.4 521.6 1244.4 522.1 1246.4 522.6 1248.4 523.1 1250.4 523.7 1252.4 524.4 1254.4 525 1256.4 525.6 1258.4 526.3 1260.4 526.9 1262.4 527.5 1264.4 528.1 1266.4 528.7 1268.4 529.2 1270.4 529.7 1272.4 530.2 1274.4 530.6 1276.4 531 1278.4 531.4 1280.4 531.8 1282.4 532.2 1284.4 532.7 1286.4 533.2 1288.4 533.7 1290.4 534.2 1292.4 534.8 1294.4 535.3 1296.4 535.9 1298.4 536.5 1300.4 537.2 1302.4 537.8 1304.4 538.5 1306.4 539.2 1308.4 539.9 1310.4 540.6 1312.4 541.3 1314.4 542.1 1316.4 542.9 1318.4 543.6 1320.4 544.4 1322.4 545.2 1324.4 546.1 1326.4 546.9 1328.4 547.8 1330.4 548.7 1332.4 549.7 1334.4 550.7 1336.4 551.8 1338.4 552.9 1340.4 554.1 1342.4 555.3 1344.4 556.6 1346.4 557.9 1348.4 559 1350.4 560.1 1352.4 561 1354.4 561.8 1356.4 562.6 1358.4 563.2 1360.4 563.9 1362.4 564.5 1364.4 565.1 1366.4 565.7 1368.4 566.4 1370.4 567.1 1372.4 567.8 1374.4 568.5 1376.4 569.1 1378.4 569.8 1380.4 570.5 1382.4 571.1 1384.4 571.8 1386.4 572.4 1388.4 573 1390.4 573.6 1392.4 574.1 1394.4 574.6 1396.4 574.9 1398.4 575.2 1400.4 575.4 1402.4 575.6 1404.4 575.8 1406.4 575.9 1408.4 576.1 1410.4 576.3 1412.4 576.6 1414.4 577.1 1416.4 577.7 1418.4 578.4 1420.4 579 1422.4 579.5 1424.4 579.9 1426.4 580.2 1428.4 580.5 1430.4 580.8 1432.4 581.1 1434.4 581.4 1436.4 581.8 1438.4 582.1 1440.4 582.4 1442.4 582.6 1444.4 582.7 1446.4 582.8 1448.4 582.9 1450.4 583 1452.4 583 1454.4 583.1 1456.4 583.2 1458.4 583.3 1460.4 583.4 1462.4 583.5 1464.4 583.6 1466.4 583.6 1468.4 583.6 1470.4 583.6 1472.4 583.6 1474.4 583.6 1476.4 583.5 1478.4 583.5 1480.4 583.4 1482.4 583.3 1484.4 583.2 1486.4 583.1 1488.4 582.8 1490.4 582.5 1492.4 582.2 1494.4 581.8 1496.4 581.3 1498.4 580.8 1500.4 580.2 1502.4 579.6 1504.4 579 1506.4 578.4 1508.4 578 1510.4 577.8 1512.4 577.8 1514.4 577.8 1516.4 577.9 1518.4 578 1520.4 578 1522.4 578 1524.4 577.9 1526.4 577.9 1528.4 577.9 1530.4 577.8 1532.4 577.8 1534.4 577.8 1536.4 577.9 1538.4 577.9 1540.4 577.9 1542.4 578 1544.4 577.9 1546.4 577.8 1548.4 577.6 1550.4 577.4 1552.4 577.2 1554.4 577 1556.4 576.8 1558.4 576.7 1560.4 576.6 1562.4 576.5 1564.4 576.6 1566.4 576.6 1568.4 576.6 1570.4 576.6 1572.4 576.5 1574.4 576.3 1576.4 576.1 1578.4 575.9 1580.4 575.6 1582.4 575.4 1584.4 575.2 1586.4 575 1588.4 574.8 1590.4 574.7 1592.4 574.6 1594.4 574.5 1596.4 574.4 1598.4 574.4 1600.4 574.3 1602.4 574.3 1604.4 574.3 1606.4 574.4 1608.4 574.4 1610.4 574.4 1612.4 574.5 1614.4 574.5 1616.4 574.5 1618.4 574.5 1620.4 574.5 1622.4 574.5 1624.4 574.5 1626.4 574.6 1628.4 574.6 1630.4 574.7 1632.4 574.8 1634.4 574.9 1636.4 575.1 1638.4 575.3 1640.4 575.5 1642.4 575.8 1644.4 576 1646.4 576.3 1648.4 576.5 1650.4 576.8 1652.4 577 1654.4 577.2 1656.4 577.4 1658.4 577.5 1660.4 577.6 1662.4 577.8 1664.4 577.9 1666.4 578 1668.2 578.1L1668.2 1065.7 Z"/></defs>
<use href="#w10" fill="#fff" stroke="none"/>
<g fill="none" stroke="#000" stroke-linejoin="miter" stroke-linecap="butt">
<use href="#w10" stroke-width="3.2"/>
<use href="#w10" transform="translate(1.45 1.45)" stroke-width="1"/>
<use href="#w10" transform="translate(1.45 -1.45)" stroke-width="1"/>
<use href="#w10" transform="translate(-1.45 1.45)" stroke-width="1"/>
<use href="#w10" transform="translate(-1.45 -1.45)" stroke-width="1"/>
</g>
<defs><path id="w11" d="M595 1099.2L595 1051.2 597 1051.2 599 1051.2 601 1051.1 603 1051.1 605 1051.1 607 1051.1 609 1051 611 1051 613 1051 615 1051 617 1050.9 619 1050.9 621 1050.9 623 1050.8 625 1050.8 627 1050.8 629 1050.8 631 1050.7 633 1050.7 635 1050.7 637 1050.7 639 1050.6 641 1050.6 643 1050.6 645 1050.5 647 1050.5 649 1050.5 651 1050.5 653 1050.4 655 1050.4 657 1050.4 659 1050.4 661 1050.3 663 1050.3 665 1050.3 667 1050.3 669 1050.3 671 1050.3 673 1050.3 675 1050.3 677 1050.3 679 1050.3 681 1050.3 683 1050.3 685 1050.3 687 1050.3 689 1050.3 691 1050.3 693 1050.3 695 1050.3 697 1050.3 699 1050.3 701 1050.3 703 1050.3 705 1050.3 707 1050.3 709 1050.3 711 1050.3 713 1050.3 715 1050.3 717 1050.3 719 1050.3 721 1050.3 723 1050.3 725 1050.3 727 1050.3 729 1050.3 731 1050.3 733 1050.3 735 1050.3 737 1050.3 739 1050.3 741 1050.3 743 1050.3 745 1050.3 747 1050.3 749 1050.3 751 1050.3 753 1050.3 755 1050.3 757 1050.3 759 1050.3 761 1050.3 763 1050.3 765 1050.3 767 1050.3 769 1050.3 771 1050.3 773 1050.3 775 1050.3 777 1050.3 779 1050.3 781 1050.3 783 1050.3 785 1050.3 787 1050.3 789 1050.3 791 1050.3 793 1050.3 795 1050.3 797 1050.2 799 1050.2 801 1050.2 803 1050.1 805 1050.1 807 1050 809 1050 811 1049.9 813 1049.9 815 1049.8 817 1049.8 819 1049.8 821 1049.7 823 1049.7 825 1049.7 827 1049.7 829 1049.7 831 1049.7 833 1049.8 835 1049.8 837 1049.8 839 1049.9 841 1049.9 843 1050 845 1050 847 1050.1 849 1050.1 851 1050.1 853 1050.2 855 1050.2 857 1050.2 859 1050.2 861 1050.2 863 1050.1 865 1050.1 867 1050 869 1049.8 871 1049.7 873 1049.6 875 1049.4 877 1049.2 879 1049 881 1048.9 883 1048.7 885 1048.5 887 1048.2 889 1048 891 1047.8 893 1047.5 895 1047.2 897 1046.9 899 1046.7 901 1046.4 903 1046.1 905 1045.8 907 1045.5 909 1045.3 911 1045 913 1044.8 915 1044.5 917 1044.3 919 1044 921 1043.8 923 1043.5 925 1043.2 927 1042.9 929 1042.6 931 1042.3 933 1041.9 935 1041.5 937 1041 939 1040.5 941 1039.9 943 1039.2 945 1038.5 947 1037.7 949 1036.9 951 1036 953 1035 955 1034 957 1032.9 959 1031.8 961 1030.5 963 1029.2 965 1027.7 967 1026 969 1024.2 971 1022.2 973 1020 975 1017.5 977 1014.6 979 1011.4 981 1007.7 983 1003.7 985 999.2 987 994.4 989 989.2 991 983.5 993 977.2 995 970.4 997 963 999 955.3 1001 947.3 1003 939.2 1005 931.2 1007 923.3 1009 915.5 1011 908.1 1013 901 1015 894.3 1017 888 1019 882.2 1021 876.7 1023 871.6 1025 866.8 1027 862.5 1029 858.5 1031 855.1 1033 852.1 1035 849.5 1037 847.2 1039 845.2 1041 843.4 1043 841.7 1045 840.2 1047 838.8 1049 837.5 1051 836.2 1053 835 1055 833.8 1057 832.6 1059 831.3 1061 829.8 1063 828.3 1065 826.6 1067 824.8 1069 823 1071 821.1 1073 819.1 1075 817 1077 814.8 1079 812.5 1081 810.2 1083 807.7 1085 805.2 1087 802.5 1089 799.6 1091 796.6 1093 793.4 1095 790.1 1097 786.7 1099 783.2 1101 779.7 1103 776.1 1105 772.5 1107 768.9 1109 765.2 1111 761.7 1113 758.1 1115 754.6 1117 751.1 1119 747.7 1121 744.3 1123 740.9 1125 737.4 1127 733.6 1129 729.6 1131 725.1 1133 720.2 1135 715.2 1137 710.2 1139 705.4 1141 700.8 1143 696.2 1145 691.8 1147 687.3 1149 682.6 1151 677.8 1153 672.8 1155 667.7 1157 662.5 1159 657.2 1161 652 1163 646.9 1165 642 1167 637.5 1169 633.4 1171 629.5 1173 625.6 1175 621.6 1177 617.3 1179 612.7 1181 608.1 1183 603.8 1185 600 1187 596.8 1189 593.8 1191 591.1 1193 588.4 1195 585.7 1197 583.1 1199 580.6 1201 578.4 1203 576.3 1205 574.5 1207 572.8 1209 571.3 1211 569.9 1213 568.7 1215 567.6 1217 566.7 1219 565.9 1221 565.1 1223 564.5 1225 564 1227 563.7 1229 563.5 1231 563.4 1233 563.4 1235 563.4 1237 563.4 1239 563.5 1241 563.6 1243 563.7 1245 563.9 1247 564.2 1249 564.4 1251 564.8 1253 565.2 1255 565.6 1257 566 1259 566.4 1261 566.9 1263 567.4 1265 567.8 1267 568.3 1269 568.7 1271 569.1 1273 569.4 1275 569.7 1277 570 1279 570.3 1281 570.5 1283 570.7 1285 570.8 1287 570.9 1289 571 1291 571.1 1293 571.2 1295 571.2 1297 571.3 1299 571.3 1301 571.3 1303 571.3 1305 571.2 1307 571.1 1309 571.1 1311 571 1313 570.9 1315 570.9 1317 570.8 1319 570.8 1321 570.9 1323 571 1325 571.1 1327 571.3 1329 571.5 1331 571.9 1333 572.4 1335 573 1337 573.6 1339 574.2 1341 574.8 1343 575.5 1345 576.1 1347 576.8 1349 577.5 1351 578.2 1353 579 1355 579.9 1357 580.9 1359 581.9 1361 582.9 1363 584 1365 585 1367 586.1 1369 587.1 1371 588.1 1373 589.1 1375 590.1 1377 591.1 1379 592.1 1381 593.2 1383 594.2 1385 595.2 1387 596.3 1389 597.3 1391 598.2 1393 599 1395 599.8 1397 600.5 1399 601.2 1401 601.7 1403 602.3 1405 602.8 1407 603.2 1409 603.6 1411 604 1413 604.3 1415 604.7 1417 605.1 1419 605.6 1421 606.2 1423 606.8 1425 607.6 1427 608.4 1429 609.3 1431 610.2 1433 611.1 1435 611.8 1437 612.5 1439 612.9 1441 613.3 1443 613.5 1445 613.7 1447 613.9 1449 614.1 1451 614.4 1453 614.6 1455 614.9 1457 615.1 1459 615.3 1461 615.4 1463 615.5 1465 615.6 1467 615.7 1469 615.8 1471 616 1473 616.2 1475 616.5 1477 616.8 1479 617.1 1481 617.3 1483 617.3 1485 617.3 1487 617.2 1489 617 1491 616.8 1493 616.5 1495 616.3 1497 616 1499 615.7 1501 615.3 1503 615 1505 614.6 1507 614.2 1509 613.8 1511 613.3 1513 612.7 1515 612.2 1517 611.5 1519 610.9 1521 610.4 1523 609.9 1525 609.6 1527 609.4 1529 609.3 1531 609.3 1533 609.3 1535 609.2 1537 609 1539 608.7 1541 608.3 1543 607.8 1545 607.3 1547 606.8 1549 606.4 1551 606.1 1553 605.8 1555 605.6 1557 605.3 1559 605 1561 604.6 1563 604.2 1565 603.7 1567 603.2 1569 602.7 1571 602.3 1573 601.9 1575 601.6 1577 601.3 1579 601.1 1581 600.9 1583 600.6 1585 600.4 1587 600.2 1589 599.9 1591 599.7 1593 599.4 1595 599.2 1597 598.9 1599 598.7 1601 598.4 1603 598.1 1605 597.8 1607 597.5 1609 597.2 1611 596.9 1613 596.7 1615 596.4 1617 596.3 1619 596.1 1621 596.1 1623 596 1625 596 1627 596 1629 596 1631 596 1633 595.9 1635 596 1637 596 1639 596 1641 596 1643 596.1 1645 596.2 1647 596.3 1649 596.4 1651 596.5 1653 596.6 1655 596.7 1657 596.9 1659 597.1 1661 597.3 1663 597.5 1665 597.7 1667 597.9 1669 598.1 1671 598.3 1673 598.4 1675 598.6 1677 598.7 1679 598.9 1681 599 1683 599.1 1685 599.2 1687 599.3 1689 599.4 1691 599.5 1693 599.6L1693 1099.2 Z"/></defs>
<use href="#w11" fill="#fff" stroke="none"/>
<g fill="none" stroke="#000" stroke-linejoin="miter" stroke-linecap="butt">
<use href="#w11" stroke-width="3.2"/>
<use href="#w11" transform="translate(1.45 1.45)" stroke-width="1"/>
<use href="#w11" transform="translate(1.45 -1.45)" stroke-width="1"/>
<use href="#w11" transform="translate(-1.45 1.45)" stroke-width="1"/>
<use href="#w11" transform="translate(-1.45 -1.45)" stroke-width="1"/>
</g>
<defs><path id="w12" d="M619.5 1132.7L619.5 1084.7 621.5 1084.7 623.5 1084.7 625.5 1084.7 627.5 1084.6 629.5 1084.6 631.5 1084.6 633.5 1084.6 635.5 1084.6 637.5 1084.5 639.5 1084.5 641.5 1084.5 643.5 1084.5 645.5 1084.4 647.5 1084.4 649.5 1084.4 651.5 1084.4 653.5 1084.4 655.5 1084.3 657.5 1084.3 659.5 1084.3 661.5 1084.3 663.5 1084.2 665.5 1084.2 667.5 1084.2 669.5 1084.2 671.5 1084.2 673.5 1084.1 675.5 1084.1 677.5 1084.1 679.5 1084.1 681.5 1084 683.5 1084 685.5 1084 687.5 1084 689.5 1084 691.5 1084 693.5 1084 695.5 1084 697.5 1084 699.5 1084 701.5 1084 703.5 1084 705.5 1084 707.5 1084 709.5 1084 711.5 1084 713.5 1084 715.5 1084 717.5 1084 719.5 1084 721.5 1084 723.5 1084 725.5 1084 727.5 1084 729.5 1084 731.5 1084 733.5 1084 735.5 1084 737.5 1084 739.5 1084 741.5 1084 743.5 1084 745.5 1084 747.5 1084 749.5 1084 751.5 1084 753.5 1084 755.5 1084 757.5 1084 759.5 1084 761.5 1084 763.5 1084 765.5 1084 767.5 1084 769.5 1084 771.5 1084 773.5 1084 775.5 1084 777.5 1084.1 779.5 1084.1 781.5 1084.1 783.5 1084.1 785.5 1084.1 787.5 1084.1 789.5 1084.1 791.5 1084.1 793.5 1084.1 795.5 1084.1 797.5 1084.1 799.5 1084.1 801.5 1084.1 803.5 1084.1 805.5 1084.1 807.5 1084.1 809.5 1084 811.5 1084 813.5 1084 815.5 1084 817.5 1084 819.5 1084 821.5 1084 823.5 1084 825.5 1083.9 827.5 1083.9 829.5 1083.8 831.5 1083.7 833.5 1083.6 835.5 1083.5 837.5 1083.4 839.5 1083.2 841.5 1083.1 843.5 1083 845.5 1082.9 847.5 1082.7 849.5 1082.6 851.5 1082.5 853.5 1082.4 855.5 1082.2 857.5 1082.1 859.5 1082 861.5 1081.9 863.5 1081.8 865.5 1081.7 867.5 1081.6 869.5 1081.5 871.5 1081.5 873.5 1081.4 875.5 1081.3 877.5 1081.2 879.5 1081.2 881.5 1081.1 883.5 1081 885.5 1081 887.5 1080.9 889.5 1080.8 891.5 1080.8 893.5 1080.7 895.5 1080.6 897.5 1080.5 899.5 1080.4 901.5 1080.4 903.5 1080.3 905.5 1080.2 907.5 1080 909.5 1079.9 911.5 1079.8 913.5 1079.6 915.5 1079.5 917.5 1079.3 919.5 1079.1 921.5 1078.9 923.5 1078.6 925.5 1078.4 927.5 1078.1 929.5 1077.9 931.5 1077.6 933.5 1077.4 935.5 1077.1 937.5 1076.8 939.5 1076.6 941.5 1076.3 943.5 1076.1 945.5 1075.8 947.5 1075.5 949.5 1075.2 951.5 1074.8 953.5 1074.5 955.5 1074.1 957.5 1073.6 959.5 1073.1 961.5 1072.6 963.5 1072 965.5 1071.4 967.5 1070.7 969.5 1070 971.5 1069.2 973.5 1068.4 975.5 1067.5 977.5 1066.6 979.5 1065.6 981.5 1064.5 983.5 1063.4 985.5 1062.1 987.5 1060.7 989.5 1059.1 991.5 1057.3 993.5 1055.4 995.5 1053.2 997.5 1050.7 999.5 1047.8 1001.5 1044.5 1003.5 1040.7 1005.5 1036.4 1007.5 1031.7 1009.5 1026.6 1011.5 1021.3 1013.5 1015.7 1015.5 1009.9 1017.5 1003.9 1019.5 997.6 1021.5 991.1 1023.5 984.4 1025.5 977.4 1027.5 970 1029.5 962.3 1031.5 953.9 1033.5 945.1 1035.5 935.9 1037.5 926.9 1039.5 918.7 1041.5 911.7 1043.5 905.9 1045.5 901 1047.5 896.5 1049.5 892.1 1051.5 887.6 1053.5 883.3 1055.5 879.2 1057.5 875.7 1059.5 872.7 1061.5 870.2 1063.5 868 1065.5 866.2 1067.5 864.6 1069.5 863.2 1071.5 862 1073.5 861 1075.5 860.1 1077.5 859.4 1079.5 858.7 1081.5 857.9 1083.5 857.1 1085.5 856.1 1087.5 855 1089.5 853.8 1091.5 852.4 1093.5 850.8 1095.5 849.1 1097.5 847.2 1099.5 845.1 1101.5 842.7 1103.5 840 1105.5 837.2 1107.5 834.2 1109.5 831.2 1111.5 828.2 1113.5 825.2 1115.5 822.2 1117.5 819.1 1119.5 816 1121.5 812.9 1123.5 809.7 1125.5 806.5 1127.5 803.3 1129.5 800 1131.5 796.8 1133.5 793.5 1135.5 790.2 1137.5 786.9 1139.5 783.6 1141.5 780.2 1143.5 776.7 1145.5 773.2 1147.5 769.5 1149.5 765.8 1151.5 761.9 1153.5 757.9 1155.5 753.7 1157.5 749.3 1159.5 744.6 1161.5 739.6 1163.5 734.5 1165.5 729.3 1167.5 724.1 1169.5 719 1171.5 713.8 1173.5 708.6 1175.5 703.5 1177.5 698.3 1179.5 693.2 1181.5 688.1 1183.5 683.1 1185.5 678.3 1187.5 673.5 1189.5 668.9 1191.5 664.4 1193.5 660 1195.5 655.7 1197.5 651.5 1199.5 647.3 1201.5 643.2 1203.5 639.3 1205.5 635.7 1207.5 632.5 1209.5 629.8 1211.5 627.4 1213.5 625.2 1215.5 623.1 1217.5 621.1 1219.5 619 1221.5 616.9 1223.5 614.8 1225.5 612.8 1227.5 610.9 1229.5 609.2 1231.5 607.8 1233.5 606.5 1235.5 605.5 1237.5 604.7 1239.5 604 1241.5 603.5 1243.5 603.1 1245.5 602.8 1247.5 602.5 1249.5 602.3 1251.5 602.1 1253.5 602 1255.5 601.8 1257.5 601.7 1259.5 601.6 1261.5 601.6 1263.5 601.5 1265.5 601.6 1267.5 601.7 1269.5 601.9 1271.5 602.3 1273.5 602.7 1275.5 603.2 1277.5 603.7 1279.5 604.3 1281.5 604.9 1283.5 605.4 1285.5 606 1287.5 606.6 1289.5 607.1 1291.5 607.5 1293.5 607.9 1295.5 608.3 1297.5 608.6 1299.5 608.8 1301.5 609.1 1303.5 609.3 1305.5 609.5 1307.5 609.6 1309.5 609.5 1311.5 609.4 1313.5 609.1 1315.5 608.9 1317.5 608.6 1319.5 608.3 1321.5 607.9 1323.5 607.6 1325.5 607.3 1327.5 606.9 1329.5 606.6 1331.5 606.3 1333.5 606.1 1335.5 605.9 1337.5 605.7 1339.5 605.5 1341.5 605.4 1343.5 605.2 1345.5 605.2 1347.5 605.2 1349.5 605.2 1351.5 605.3 1353.5 605.5 1355.5 605.7 1357.5 606 1359.5 606.4 1361.5 606.9 1363.5 607.4 1365.5 608.1 1367.5 608.8 1369.5 609.6 1371.5 610.2 1373.5 610.8 1375.5 611.3 1377.5 611.8 1379.5 612.4 1381.5 613.4 1383.5 614.6 1385.5 616 1387.5 617.3 1389.5 618.6 1391.5 619.6 1393.5 620.4 1395.5 621.2 1397.5 622 1399.5 622.8 1401.5 623.7 1403.5 624.6 1405.5 625.6 1407.5 626.6 1409.5 627.7 1411.5 628.6 1413.5 629.6 1415.5 630.5 1417.5 631.4 1419.5 632.2 1421.5 633 1423.5 633.8 1425.5 634.6 1427.5 635.3 1429.5 636 1431.5 636.7 1433.5 637.3 1435.5 637.9 1437.5 638.5 1439.5 639.1 1441.5 639.7 1443.5 640.3 1445.5 640.9 1447.5 641.6 1449.5 642.3 1451.5 643.1 1453.5 643.9 1455.5 644.7 1457.5 645.5 1459.5 646.2 1461.5 646.9 1463.5 647.3 1465.5 647.7 1467.5 647.9 1469.5 648.1 1471.5 648.2 1473.5 648.3 1475.5 648.4 1477.5 648.5 1479.5 648.5 1481.5 648.6 1483.5 648.6 1485.5 648.6 1487.5 648.6 1489.5 648.6 1491.5 648.6 1493.5 648.6 1495.5 648.6 1497.5 648.6 1499.5 648.6 1501.5 648.6 1503.5 648.6 1505.5 648.6 1507.5 648.5 1509.5 648.4 1511.5 648.3 1513.5 648.1 1515.5 647.8 1517.5 647.5 1519.5 647.2 1521.5 646.9 1523.5 646.6 1525.5 646.2 1527.5 645.9 1529.5 645.6 1531.5 645.2 1533.5 644.9 1535.5 644.6 1537.5 644.2 1539.5 643.9 1541.5 643.6 1543.5 643.3 1545.5 642.9 1547.5 642.6 1549.5 642.3 1551.5 642 1553.5 641.7 1555.5 641.4 1557.5 641 1559.5 640.6 1561.5 640.2 1563.5 639.8 1565.5 639.4 1567.5 638.9 1569.5 638.3 1571.5 637.8 1573.5 637.2 1575.5 636.6 1577.5 636.1 1579.5 635.5 1581.5 634.9 1583.5 634.2 1585.5 633.6 1587.5 633 1589.5 632.3 1591.5 631.6 1593.5 631 1595.5 630.3 1597.5 629.7 1599.5 629.1 1601.5 628.6 1603.5 628.1 1605.5 627.6 1607.5 627.2 1609.5 626.8 1611.5 626.4 1613.5 626 1615.5 625.7 1617.5 625.3 1619.5 625 1621.5 624.6 1623.5 624.3 1625.5 623.9 1627.5 623.5 1629.5 623.1 1631.5 622.7 1633.5 622.3 1635.5 621.9 1637.5 621.6 1639.5 621.2 1641.5 620.9 1643.5 620.7 1645.5 620.6 1647.5 620.4 1649.5 620.4 1651.5 620.3 1653.5 620.3 1655.5 620.3 1657.5 620.3 1659.5 620.3 1661.5 620.3 1663.5 620.3 1665.5 620.3 1667.5 620.4 1669.5 620.4 1671.5 620.5 1673.5 620.7 1675.5 620.8 1677.5 621 1679.5 621.2 1681.5 621.3 1683.5 621.5 1685.5 621.7 1687.5 621.9 1689.5 622.1 1691.5 622.3 1693.5 622.5 1695.5 622.8 1697.5 623.2 1699.5 623.5 1701.5 623.9 1703.5 624.2 1705.5 624.5 1707.5 624.7 1709.5 624.8 1711.5 624.9 1713.5 624.9 1715.5 625 1717.5 625.1 1718.1 625.1L1718.1 1132.7 Z"/></defs>
<use href="#w12" fill="#fff" stroke="none"/>
<g fill="none" stroke="#000" stroke-linejoin="miter" stroke-linecap="butt">
<use href="#w12" stroke-width="3.2"/>
<use href="#w12" transform="translate(1.45 1.45)" stroke-width="1"/>
<use href="#w12" transform="translate(1.45 -1.45)" stroke-width="1"/>
<use href="#w12" transform="translate(-1.45 1.45)" stroke-width="1"/>
<use href="#w12" transform="translate(-1.45 -1.45)" stroke-width="1"/>
</g>
<defs><path id="w13" d="M644.1 1166.3L644.1 1118.3 646.1 1118.2 648.1 1118.2 650.1 1118.2 652.1 1118.2 654.1 1118.2 656.1 1118.2 658.1 1118.1 660.1 1118.1 662.1 1118.1 664.1 1118.1 666.1 1118.1 668.1 1118 670.1 1118 672.1 1118 674.1 1118 676.1 1118 678.1 1118 680.1 1117.9 682.1 1117.9 684.1 1117.9 686.1 1117.9 688.1 1117.9 690.1 1117.9 692.1 1117.8 694.1 1117.8 696.1 1117.8 698.1 1117.8 700.1 1117.8 702.1 1117.7 704.1 1117.7 706.1 1117.7 708.1 1117.7 710.1 1117.7 712.1 1117.7 714.1 1117.7 716.1 1117.7 718.1 1117.7 720.1 1117.7 722.1 1117.7 724.1 1117.7 726.1 1117.7 728.1 1117.7 730.1 1117.7 732.1 1117.7 734.1 1117.7 736.1 1117.7 738.1 1117.7 740.1 1117.7 742.1 1117.7 744.1 1117.7 746.1 1117.7 748.1 1117.7 750.1 1117.7 752.1 1117.7 754.1 1117.7 756.1 1117.7 758.1 1117.7 760.1 1117.7 762.1 1117.7 764.1 1117.7 766.1 1117.7 768.1 1117.7 770.1 1117.7 772.1 1117.7 774.1 1117.7 776.1 1117.7 778.1 1117.7 780.1 1117.7 782.1 1117.7 784.1 1117.7 786.1 1117.7 788.1 1117.7 790.1 1117.7 792.1 1117.7 794.1 1117.7 796.1 1117.7 798.1 1117.7 800.1 1117.8 802.1 1117.8 804.1 1117.8 806.1 1117.8 808.1 1117.8 810.1 1117.8 812.1 1117.8 814.1 1117.8 816.1 1117.8 818.1 1117.8 820.1 1117.8 822.1 1117.8 824.1 1117.8 826.1 1117.8 828.1 1117.8 830.1 1117.8 832.1 1117.8 834.1 1117.8 836.1 1117.8 838.1 1117.7 840.1 1117.7 842.1 1117.7 844.1 1117.7 846.1 1117.7 848.1 1117.7 850.1 1117.7 852.1 1117.7 854.1 1117.6 856.1 1117.6 858.1 1117.6 860.1 1117.6 862.1 1117.6 864.1 1117.5 866.1 1117.4 868.1 1117.3 870.1 1117.1 872.1 1117 874.1 1116.8 876.1 1116.6 878.1 1116.4 880.1 1116.2 882.1 1116 884.1 1115.9 886.1 1115.7 888.1 1115.5 890.1 1115.4 892.1 1115.2 894.1 1115 896.1 1114.9 898.1 1114.7 900.1 1114.6 902.1 1114.4 904.1 1114.3 906.1 1114.2 908.1 1114.1 910.1 1113.9 912.1 1113.8 914.1 1113.7 916.1 1113.6 918.1 1113.5 920.1 1113.4 922.1 1113.2 924.1 1113.1 926.1 1113 928.1 1112.9 930.1 1112.8 932.1 1112.6 934.1 1112.5 936.1 1112.3 938.1 1112.2 940.1 1112 942.1 1111.9 944.1 1111.7 946.1 1111.5 948.1 1111.4 950.1 1111.2 952.1 1111 954.1 1110.8 956.1 1110.6 958.1 1110.4 960.1 1110.2 962.1 1110 964.1 1109.7 966.1 1109.5 968.1 1109.2 970.1 1108.9 972.1 1108.6 974.1 1108.2 976.1 1107.9 978.1 1107.5 980.1 1107 982.1 1106.5 984.1 1105.9 986.1 1105.3 988.1 1104.6 990.1 1103.8 992.1 1103 994.1 1102 996.1 1101.1 998.1 1100 1000.1 1098.9 1002.1 1097.7 1004.1 1096.4 1006.1 1095 1008.1 1093.6 1010.1 1092.1 1012.1 1090.5 1014.1 1088.9 1016.1 1087.1 1018.1 1085.3 1020.1 1083.2 1022.1 1081 1024.1 1078.4 1026.1 1075.4 1028.1 1071.8 1030.1 1067.7 1032.1 1063.1 1034.1 1058.1 1036.1 1052.6 1038.1 1046.7 1040.1 1040.4 1042.1 1033.7 1044.1 1026.5 1046.1 1019 1048.1 1011.2 1050.1 1003.1 1052.1 994.8 1054.1 986.4 1056.1 977.9 1058.1 969.4 1060.1 961.1 1062.1 953 1064.1 945.4 1066.1 938.2 1068.1 931.6 1070.1 925.7 1072.1 920.6 1074.1 916.1 1076.1 912.3 1078.1 909 1080.1 906.2 1082.1 903.7 1084.1 901.4 1086.1 899.4 1088.1 897.6 1090.1 896.1 1092.1 894.7 1094.1 893.6 1096.1 892.7 1098.1 892 1100.1 891.5 1102.1 891.1 1104.1 890.8 1106.1 890.3 1108.1 889.7 1110.1 888.8 1112.1 887.5 1114.1 885.8 1116.1 883.9 1118.1 881.8 1120.1 879.6 1122.1 877.3 1124.1 874.9 1126.1 872.4 1128.1 869.8 1130.1 867.1 1132.1 864.3 1134.1 861.5 1136.1 858.5 1138.1 855.5 1140.1 852.3 1142.1 849.1 1144.1 845.8 1146.1 842.4 1148.1 839 1150.1 835.6 1152.1 832.1 1154.1 828.7 1156.1 825.3 1158.1 822 1160.1 818.8 1162.1 815.7 1164.1 812.7 1166.1 809.8 1168.1 806.8 1170.1 803.8 1172.1 800.6 1174.1 797.4 1176.1 794 1178.1 790.4 1180.1 786.4 1182.1 781.9 1184.1 777.1 1186.1 771.9 1188.1 766.5 1190.1 761.1 1192.1 755.5 1194.1 749.8 1196.1 743.9 1198.1 737.5 1200.1 730.8 1202.1 724.2 1204.1 717.8 1206.1 712 1208.1 706.7 1210.1 701.9 1212.1 697.5 1214.1 693.3 1216.1 689.2 1218.1 685.4 1220.1 681.7 1222.1 678.3 1224.1 675 1226.1 672 1228.1 669.1 1230.1 666.5 1232.1 664 1234.1 661.7 1236.1 659.6 1238.1 657.7 1240.1 656 1242.1 654.4 1244.1 653.1 1246.1 652 1248.1 650.9 1250.1 650 1252.1 649.2 1254.1 648.5 1256.1 647.9 1258.1 647.4 1260.1 646.9 1262.1 646.6 1264.1 646.3 1266.1 646.1 1268.1 646 1270.1 645.9 1272.1 645.8 1274.1 645.8 1276.1 645.8 1278.1 645.8 1280.1 645.9 1282.1 646 1284.1 646.2 1286.1 646.4 1288.1 646.6 1290.1 647 1292.1 647.4 1294.1 647.8 1296.1 648.4 1298.1 648.9 1300.1 649.4 1302.1 649.9 1304.1 650.4 1306.1 650.7 1308.1 651.1 1310.1 651.3 1312.1 651.6 1314.1 651.7 1316.1 651.9 1318.1 652 1320.1 652 1322.1 652.1 1324.1 652.1 1326.1 652.1 1328.1 652.1 1330.1 652 1332.1 652 1334.1 651.9 1336.1 651.8 1338.1 651.6 1340.1 651.5 1342.1 651.3 1344.1 651 1346.1 650.8 1348.1 650.5 1350.1 650.1 1352.1 649.7 1354.1 649.4 1356.1 649 1358.1 648.5 1360.1 648.2 1362.1 647.8 1364.1 647.5 1366.1 647.2 1368.1 647 1370.1 646.7 1372.1 646.6 1374.1 646.4 1376.1 646.3 1378.1 646.3 1380.1 646.3 1382.1 646.3 1384.1 646.3 1386.1 646.3 1388.1 646.3 1390.1 646.5 1392.1 646.7 1394.1 647 1396.1 647.4 1398.1 647.9 1400.1 648.5 1402.1 649.3 1404.1 650.2 1406.1 651.2 1408.1 652.3 1410.1 653.5 1412.1 654.6 1414.1 655.8 1416.1 656.9 1418.1 658 1420.1 659 1422.1 660.1 1424.1 661.1 1426.1 662 1428.1 662.9 1430.1 663.8 1432.1 664.6 1434.1 665.3 1436.1 666 1438.1 666.8 1440.1 667.6 1442.1 668.5 1444.1 669.4 1446.1 670.3 1448.1 671.2 1450.1 671.9 1452.1 672.5 1454.1 673 1456.1 673.5 1458.1 673.9 1460.1 674.2 1462.1 674.6 1464.1 675 1466.1 675.3 1468.1 675.8 1470.1 676.3 1472.1 676.8 1474.1 677.4 1476.1 678.1 1478.1 678.8 1480.1 679.5 1482.1 680.1 1484.1 680.8 1486.1 681.4 1488.1 682 1490.1 682.5 1492.1 683 1494.1 683.5 1496.1 683.9 1498.1 684.3 1500.1 684.6 1502.1 684.9 1504.1 685 1506.1 685.2 1508.1 685.3 1510.1 685.4 1512.1 685.4 1514.1 685.5 1516.1 685.5 1518.1 685.5 1520.1 685.5 1522.1 685.5 1524.1 685.4 1526.1 685.4 1528.1 685.3 1530.1 685.2 1532.1 685.1 1534.1 685 1536.1 684.8 1538.1 684.6 1540.1 684.3 1542.1 684 1544.1 683.7 1546.1 683.3 1548.1 682.9 1550.1 682.5 1552.1 682.1 1554.1 681.7 1556.1 681.3 1558.1 680.8 1560.1 680.4 1562.1 680 1564.1 679.5 1566.1 679 1568.1 678.6 1570.1 678.1 1572.1 677.7 1574.1 677.2 1576.1 676.7 1578.1 676.2 1580.1 675.7 1582.1 675.2 1584.1 674.7 1586.1 674.1 1588.1 673.5 1590.1 672.9 1592.1 672.2 1594.1 671.5 1596.1 670.8 1598.1 670.1 1600.1 669.5 1602.1 668.9 1604.1 668.3 1606.1 667.8 1608.1 667.2 1610.1 666.5 1612.1 665.7 1614.1 664.9 1616.1 663.9 1618.1 662.9 1620.1 662 1622.1 661 1624.1 660.2 1626.1 659.5 1628.1 658.9 1630.1 658.4 1632.1 658 1634.1 657.7 1636.1 657.5 1638.1 657.3 1640.1 657 1642.1 656.8 1644.1 656.5 1646.1 656.2 1648.1 655.8 1650.1 655.4 1652.1 655 1654.1 654.5 1656.1 654 1658.1 653.4 1660.1 652.9 1662.1 652.4 1664.1 652 1666.1 651.5 1668.1 651.1 1670.1 650.7 1672.1 650.3 1674.1 649.9 1676.1 649.6 1678.1 649.3 1680.1 649.1 1682.1 649 1684.1 648.9 1686.1 648.9 1688.1 648.8 1690.1 648.8 1692.1 648.8 1694.1 648.8 1696.1 648.8 1698.1 648.8 1700.1 648.8 1702.1 648.9 1704.1 649 1706.1 649.1 1708.1 649.3 1710.1 649.5 1712.1 649.7 1714.1 649.9 1716.1 650.2 1718.1 650.5 1720.1 650.8 1722.1 651.2 1724.1 651.5 1726.1 651.9 1728.1 652.3 1730.1 652.8 1732.1 653.2 1734.1 653.6 1736.1 654 1738.1 654.4 1740.1 654.7 1742.1 655 1742.9 655.2L1742.9 1166.3 Z"/></defs>
<use href="#w13" fill="#fff" stroke="none"/>
<g fill="none" stroke="#000" stroke-linejoin="miter" stroke-linecap="butt">
<use href="#w13" stroke-width="3.2"/>
<use href="#w13" transform="translate(1.45 1.45)" stroke-width="1"/>
<use href="#w13" transform="translate(1.45 -1.45)" stroke-width="1"/>
<use href="#w13" transform="translate(-1.45 1.45)" stroke-width="1"/>
<use href="#w13" transform="translate(-1.45 -1.45)" stroke-width="1"/>
</g>
<defs><path id="w14" d="M668.6 1199.8L668.6 1151.8 670.6 1151.8 672.6 1151.8 674.6 1151.7 676.6 1151.7 678.6 1151.7 680.6 1151.7 682.6 1151.7 684.6 1151.7 686.6 1151.7 688.6 1151.7 690.6 1151.6 692.6 1151.6 694.6 1151.6 696.6 1151.6 698.6 1151.6 700.6 1151.6 702.6 1151.6 704.6 1151.6 706.6 1151.5 708.6 1151.5 710.6 1151.5 712.6 1151.5 714.6 1151.5 716.6 1151.5 718.6 1151.5 720.6 1151.5 722.6 1151.4 724.6 1151.4 726.6 1151.4 728.6 1151.4 730.6 1151.4 732.6 1151.4 734.6 1151.4 736.6 1151.4 738.6 1151.4 740.6 1151.4 742.6 1151.4 744.6 1151.4 746.6 1151.4 748.6 1151.4 750.6 1151.4 752.6 1151.4 754.6 1151.4 756.6 1151.4 758.6 1151.4 760.6 1151.4 762.6 1151.4 764.6 1151.4 766.6 1151.4 768.6 1151.5 770.6 1151.5 772.6 1151.5 774.6 1151.5 776.6 1151.5 778.6 1151.5 780.6 1151.5 782.6 1151.5 784.6 1151.5 786.6 1151.5 788.6 1151.5 790.6 1151.5 792.6 1151.5 794.6 1151.5 796.6 1151.5 798.6 1151.5 800.6 1151.5 802.6 1151.6 804.6 1151.6 806.6 1151.6 808.6 1151.6 810.6 1151.6 812.6 1151.6 814.6 1151.6 816.6 1151.6 818.6 1151.6 820.6 1151.6 822.6 1151.6 824.6 1151.6 826.6 1151.6 828.6 1151.7 830.6 1151.7 832.6 1151.7 834.6 1151.7 836.6 1151.7 838.6 1151.7 840.6 1151.7 842.6 1151.7 844.6 1151.7 846.6 1151.7 848.6 1151.7 850.6 1151.7 852.6 1151.7 854.6 1151.7 856.6 1151.7 858.6 1151.7 860.6 1151.7 862.6 1151.7 864.6 1151.7 866.6 1151.7 868.6 1151.7 870.6 1151.7 872.6 1151.7 874.6 1151.7 876.6 1151.7 878.6 1151.6 880.6 1151.6 882.6 1151.6 884.6 1151.6 886.6 1151.6 888.6 1151.6 890.6 1151.6 892.6 1151.5 894.6 1151.5 896.6 1151.5 898.6 1151.5 900.6 1151.5 902.6 1151.4 904.6 1151.4 906.6 1151.4 908.6 1151.4 910.6 1151.3 912.6 1151.3 914.6 1151.2 916.6 1151.1 918.6 1151 920.6 1150.9 922.6 1150.8 924.6 1150.7 926.6 1150.5 928.6 1150.4 930.6 1150.3 932.6 1150.1 934.6 1150 936.6 1149.8 938.6 1149.6 940.6 1149.5 942.6 1149.3 944.6 1149.1 946.6 1149 948.6 1148.8 950.6 1148.6 952.6 1148.4 954.6 1148.2 956.6 1148 958.6 1147.8 960.6 1147.6 962.6 1147.3 964.6 1147.1 966.6 1146.8 968.6 1146.6 970.6 1146.3 972.6 1146 974.6 1145.7 976.6 1145.4 978.6 1145.1 980.6 1144.8 982.6 1144.5 984.6 1144.1 986.6 1143.8 988.6 1143.4 990.6 1143.1 992.6 1142.7 994.6 1142.4 996.6 1142 998.6 1141.6 1000.6 1141.2 1002.6 1140.9 1004.6 1140.5 1006.6 1140.1 1008.6 1139.7 1010.6 1139.3 1012.6 1138.8 1014.6 1138.3 1016.6 1137.8 1018.6 1137.3 1020.6 1136.6 1022.6 1136 1024.6 1135.2 1026.6 1134.3 1028.6 1133.2 1030.6 1131.9 1032.6 1130.5 1034.6 1128.8 1036.6 1126.9 1038.6 1124.8 1040.6 1122.5 1042.6 1119.9 1044.6 1117.2 1046.6 1114.2 1048.6 1111 1050.6 1107.6 1052.6 1104 1054.6 1100.2 1056.6 1096.2 1058.6 1091.9 1060.6 1087.3 1062.6 1082.1 1064.6 1076.1 1066.6 1069.1 1068.6 1061.2 1070.6 1052.5 1072.6 1043.2 1074.6 1033.6 1076.6 1024 1078.6 1014.4 1080.6 1005.1 1082.6 995.9 1084.6 987.3 1086.6 979.2 1088.6 972 1090.6 965.7 1092.6 960.3 1094.6 955.6 1096.6 951.4 1098.6 947.6 1100.6 944.1 1102.6 940.9 1104.6 938.1 1106.6 935.6 1108.6 933.5 1110.6 931.6 1112.6 930 1114.6 928.6 1116.6 927.5 1118.6 926.5 1120.6 925.7 1122.6 925.1 1124.6 924.6 1126.6 924.1 1128.6 923.5 1130.6 922.9 1132.6 922 1134.6 920.8 1136.6 919.3 1138.6 917.7 1140.6 915.8 1142.6 913.9 1144.6 911.9 1146.6 910 1148.6 908.1 1150.6 906.1 1152.6 904.1 1154.6 901.9 1156.6 899.5 1158.6 897 1160.6 894.2 1162.6 891.2 1164.6 888 1166.6 884.8 1168.6 881.5 1170.6 878.3 1172.6 875.1 1174.6 872 1176.6 868.9 1178.6 865.8 1180.6 862.7 1182.6 859.5 1184.6 856.3 1186.6 853 1188.6 849.5 1190.6 846 1192.6 842.3 1194.6 838.5 1196.6 834.5 1198.6 830.5 1200.6 826.4 1202.6 822.4 1204.6 818.4 1206.6 814.3 1208.6 810.2 1210.6 806.1 1212.6 801.9 1214.6 797.5 1216.6 792.9 1218.6 788.1 1220.6 782.8 1222.6 777.2 1224.6 771.3 1226.6 765.3 1228.6 759.5 1230.6 754.1 1232.6 749.1 1234.6 744.2 1236.6 739.6 1238.6 734.9 1240.6 730.3 1242.6 725.8 1244.6 721.4 1246.6 717.1 1248.6 713.1 1250.6 709.4 1252.6 705.9 1254.6 702.8 1256.6 700 1258.6 697.4 1260.6 695.1 1262.6 693 1264.6 691.1 1266.6 689.4 1268.6 687.8 1270.6 686.3 1272.6 685 1274.6 683.8 1276.6 682.7 1278.6 681.7 1280.6 680.8 1282.6 680 1284.6 679.4 1286.6 678.9 1288.6 678.5 1290.6 678.1 1292.6 677.8 1294.6 677.6 1296.6 677.5 1298.6 677.5 1300.6 677.7 1302.6 677.9 1304.6 678.3 1306.6 678.7 1308.6 679.2 1310.6 679.7 1312.6 680.1 1314.6 680.6 1316.6 681.1 1318.6 681.6 1320.6 682.2 1322.6 682.8 1324.6 683.4 1326.6 684.1 1328.6 684.9 1330.6 685.7 1332.6 686.5 1334.6 687.3 1336.6 688 1338.6 688.6 1340.6 689.2 1342.6 689.6 1344.6 690 1346.6 690.3 1348.6 690.5 1350.6 690.5 1352.6 690.5 1354.6 690.3 1356.6 690.2 1358.6 689.9 1360.6 689.7 1362.6 689.4 1364.6 689 1366.6 688.6 1368.6 688.2 1370.6 687.7 1372.6 687.2 1374.6 686.6 1376.6 685.9 1378.6 685.2 1380.6 684.4 1382.6 683.6 1384.6 682.9 1386.6 682.2 1388.6 681.6 1390.6 681.2 1392.6 680.7 1394.6 680.4 1396.6 680.1 1398.6 679.9 1400.6 679.8 1402.6 679.7 1404.6 679.6 1406.6 679.5 1408.6 679.5 1410.6 679.5 1412.6 679.6 1414.6 679.8 1416.6 680.1 1418.6 680.5 1420.6 681 1422.6 681.6 1424.6 682.3 1426.6 683.1 1428.6 684 1430.6 684.9 1432.6 685.9 1434.6 686.9 1436.6 687.8 1438.6 688.8 1440.6 689.7 1442.6 690.7 1444.6 691.6 1446.6 692.6 1448.6 693.6 1450.6 694.7 1452.6 695.8 1454.6 696.9 1456.6 698.1 1458.6 699.3 1460.6 700.6 1462.6 701.8 1464.6 702.9 1466.6 704 1468.6 704.9 1470.6 705.8 1472.6 706.5 1474.6 707.2 1476.6 707.9 1478.6 708.4 1480.6 709 1482.6 709.5 1484.6 710.1 1486.6 710.6 1488.6 711.2 1490.6 711.8 1492.6 712.5 1494.6 713.2 1496.6 714 1498.6 714.8 1500.6 715.6 1502.6 716.4 1504.6 717.2 1506.6 717.8 1508.6 718.3 1510.6 718.7 1512.6 719 1514.6 719.1 1516.6 719.2 1518.6 719.2 1520.6 719.2 1522.6 719.2 1524.6 719.2 1526.6 719.2 1528.6 719.2 1530.6 719.2 1532.6 719.2 1534.6 719.2 1536.6 719.2 1538.6 719.2 1540.6 719.2 1542.6 719.2 1544.6 719.2 1546.6 719.2 1548.6 719.2 1550.6 719.2 1552.6 719.2 1554.6 719.2 1556.6 719.1 1558.6 719 1560.6 718.8 1562.6 718.6 1564.6 718.3 1566.6 718 1568.6 717.6 1570.6 717.2 1572.6 716.8 1574.6 716.4 1576.6 716 1578.6 715.6 1580.6 715.3 1582.6 715 1584.6 714.6 1586.6 714.3 1588.6 713.9 1590.6 713.6 1592.6 713.2 1594.6 712.8 1596.6 712.4 1598.6 712 1600.6 711.6 1602.6 711.2 1604.6 710.7 1606.6 710.2 1608.6 709.8 1610.6 709.2 1612.6 708.6 1614.6 708 1616.6 707.3 1618.6 706.5 1620.6 705.5 1622.6 704.5 1624.6 703.5 1626.6 702.5 1628.6 701.7 1630.6 701.1 1632.6 700.7 1634.6 700.3 1636.6 700 1638.6 699.6 1640.6 699.2 1642.6 698.6 1644.6 697.8 1646.6 696.9 1648.6 696 1650.6 695.2 1652.6 694.5 1654.6 694 1656.6 693.6 1658.6 693.4 1660.6 693.2 1662.6 693 1664.6 692.8 1666.6 692.4 1668.6 691.9 1670.6 691.3 1672.6 690.7 1674.6 690.1 1676.6 689.4 1678.6 688.9 1680.6 688.5 1682.6 688.1 1684.6 687.9 1686.6 687.7 1688.6 687.6 1690.6 687.4 1692.6 687.3 1694.6 687.1 1696.6 686.8 1698.6 686.3 1700.6 685.5 1702.6 684.6 1704.6 683.6 1706.6 682.7 1708.6 681.9 1710.6 681.3 1712.6 681 1714.6 680.9 1716.6 680.9 1718.6 681 1720.6 681.1 1722.6 681.2 1724.6 681.4 1726.6 681.5 1728.6 681.6 1730.6 681.8 1732.6 681.9 1734.6 682.1 1736.6 682.3 1738.6 682.5 1740.6 682.7 1742.6 682.9 1744.6 683.1 1746.6 683.4 1748.6 683.7 1750.6 684 1752.6 684.4 1754.6 684.7 1756.6 685.1 1758.6 685.4 1760.6 685.7 1762.6 686.1 1764.6 686.4 1767.1 686.7L1767.1 1199.8 Z"/></defs>
<use href="#w14" fill="#fff" stroke="none"/>
<g fill="none" stroke="#000" stroke-linejoin="miter" stroke-linecap="butt">
<use href="#w14" stroke-width="3.2"/>
<use href="#w14" transform="translate(1.45 1.45)" stroke-width="1"/>
<use href="#w14" transform="translate(1.45 -1.45)" stroke-width="1"/>
<use href="#w14" transform="translate(-1.45 1.45)" stroke-width="1"/>
<use href="#w14" transform="translate(-1.45 -1.45)" stroke-width="1"/>
</g>
<defs><path id="w15" d="M693.2 1233.3L693.2 1185.3 695.2 1185.2 697.2 1185.2 699.2 1185.2 701.2 1185.1 703.2 1185.1 705.2 1185.1 707.2 1185 709.2 1185 711.2 1185 713.2 1184.9 715.2 1184.9 717.2 1184.8 719.2 1184.8 721.2 1184.8 723.2 1184.7 725.2 1184.7 727.2 1184.7 729.2 1184.6 731.2 1184.6 733.2 1184.5 735.2 1184.5 737.2 1184.5 739.2 1184.4 741.2 1184.4 743.2 1184.4 745.2 1184.3 747.2 1184.3 749.2 1184.3 751.2 1184.2 753.2 1184.2 755.2 1184.2 757.2 1184.2 759.2 1184.2 761.2 1184.2 763.2 1184.2 765.2 1184.2 767.2 1184.2 769.2 1184.2 771.2 1184.2 773.2 1184.2 775.2 1184.2 777.2 1184.2 779.2 1184.2 781.2 1184.2 783.2 1184.2 785.2 1184.2 787.2 1184.2 789.2 1184.2 791.2 1184.1 793.2 1184.1 795.2 1184.1 797.2 1184.1 799.2 1184.1 801.2 1184.1 803.2 1184.1 805.2 1184.1 807.2 1184.1 809.2 1184.1 811.2 1184.1 813.2 1184.1 815.2 1184.1 817.2 1184.1 819.2 1184.1 821.2 1184.1 823.2 1184.1 825.2 1184.1 827.2 1184.1 829.2 1184.1 831.2 1184.1 833.2 1184.1 835.2 1184.1 837.2 1184.2 839.2 1184.2 841.2 1184.2 843.2 1184.2 845.2 1184.2 847.2 1184.2 849.2 1184.2 851.2 1184.2 853.2 1184.2 855.2 1184.2 857.2 1184.2 859.2 1184.2 861.2 1184.2 863.2 1184.2 865.2 1184.2 867.2 1184.2 869.2 1184.2 871.2 1184.2 873.2 1184.2 875.2 1184.2 877.2 1184.2 879.2 1184.2 881.2 1184.2 883.2 1184.1 885.2 1184.1 887.2 1184.1 889.2 1184.1 891.2 1184.1 893.2 1184.1 895.2 1184.1 897.2 1184.1 899.2 1184 901.2 1184 903.2 1184 905.2 1184 907.2 1184 909.2 1184 911.2 1183.9 913.2 1183.9 915.2 1183.9 917.2 1183.9 919.2 1183.8 921.2 1183.8 923.2 1183.8 925.2 1183.8 927.2 1183.7 929.2 1183.7 931.2 1183.7 933.2 1183.7 935.2 1183.6 937.2 1183.6 939.2 1183.6 941.2 1183.5 943.2 1183.5 945.2 1183.5 947.2 1183.4 949.2 1183.4 951.2 1183.3 953.2 1183.3 955.2 1183.2 957.2 1183.2 959.2 1183.1 961.2 1183 963.2 1182.9 965.2 1182.8 967.2 1182.7 969.2 1182.6 971.2 1182.4 973.2 1182.3 975.2 1182.1 977.2 1182 979.2 1181.8 981.2 1181.6 983.2 1181.4 985.2 1181.2 987.2 1181 989.2 1180.8 991.2 1180.6 993.2 1180.4 995.2 1180.1 997.2 1179.9 999.2 1179.7 1001.2 1179.4 1003.2 1179.2 1005.2 1178.9 1007.2 1178.7 1009.2 1178.4 1011.2 1178 1013.2 1177.7 1015.2 1177.4 1017.2 1177 1019.2 1176.6 1021.2 1176.2 1023.2 1175.8 1025.2 1175.4 1027.2 1174.9 1029.2 1174.5 1031.2 1174 1033.2 1173.4 1035.2 1172.9 1037.2 1172.3 1039.2 1171.6 1041.2 1170.9 1043.2 1170.1 1045.2 1169.3 1047.2 1168.3 1049.2 1167.1 1051.2 1165.8 1053.2 1164.2 1055.2 1162.2 1057.2 1159.9 1059.2 1157.3 1061.2 1154.3 1063.2 1151 1065.2 1147.4 1067.2 1143.5 1069.2 1139.3 1071.2 1134.9 1073.2 1130.1 1075.2 1125.2 1077.2 1120 1079.2 1114.7 1081.2 1109.1 1083.2 1103.4 1085.2 1097.5 1087.2 1091.5 1089.2 1085.3 1091.2 1079 1093.2 1072.7 1095.2 1066.2 1097.2 1059.7 1099.2 1053.2 1101.2 1046.6 1103.2 1040 1105.2 1033.2 1107.2 1026.3 1109.2 1019.3 1111.2 1012.2 1113.2 1005.3 1115.2 998.9 1117.2 993 1119.2 987.9 1121.2 983.4 1123.2 979.4 1125.2 975.8 1127.2 972.6 1129.2 969.8 1131.2 967.3 1133.2 965.2 1135.2 963.2 1137.2 961.6 1139.2 960.2 1141.2 959.2 1143.2 958.3 1145.2 957.8 1147.2 957.3 1149.2 957 1151.2 956.7 1153.2 956.4 1155.2 956 1157.2 955.4 1159.2 954.5 1161.2 953.4 1163.2 952 1165.2 950.3 1167.2 948.5 1169.2 946.5 1171.2 944.4 1173.2 942.3 1175.2 940.1 1177.2 937.8 1179.2 935.3 1181.2 932.8 1183.2 930.1 1185.2 927.3 1187.2 924.4 1189.2 921.4 1191.2 918.2 1193.2 915 1195.2 911.7 1197.2 908.5 1199.2 905.3 1201.2 902.1 1203.2 898.9 1205.2 895.8 1207.2 892.5 1209.2 889.2 1211.2 885.7 1213.2 882 1215.2 878.2 1217.2 874.3 1219.2 870.3 1221.2 866.3 1223.2 862.3 1225.2 858.3 1227.2 854.3 1229.2 850.2 1231.2 846.1 1233.2 841.9 1235.2 837.6 1237.2 833.2 1239.2 828.8 1241.2 824.3 1243.2 819.8 1245.2 815.3 1247.2 810.9 1249.2 806.5 1251.2 802.1 1253.2 797.7 1255.2 793.4 1257.2 788.9 1259.2 784.4 1261.2 779.5 1263.2 774.4 1265.2 769.2 1267.2 764 1269.2 759.1 1271.2 754.5 1273.2 750.3 1275.2 746.5 1277.2 743.1 1279.2 740.1 1281.2 737.3 1283.2 734.7 1285.2 732.3 1287.2 730 1289.2 727.9 1291.2 725.9 1293.2 724 1295.2 722.3 1297.2 720.7 1299.2 719.2 1301.2 717.9 1303.2 716.8 1305.2 715.8 1307.2 715 1309.2 714.4 1311.2 713.8 1313.2 713.5 1315.2 713.2 1317.2 713 1319.2 712.9 1321.2 712.9 1323.2 712.9 1325.2 712.9 1327.2 713.1 1329.2 713.3 1331.2 713.6 1333.2 714.1 1335.2 714.7 1337.2 715.3 1339.2 715.9 1341.2 716.5 1343.2 717.1 1345.2 717.7 1347.2 718.3 1349.2 718.8 1351.2 719.3 1353.2 719.7 1355.2 720.2 1357.2 720.6 1359.2 720.9 1361.2 721.2 1363.2 721.4 1365.2 721.6 1367.2 721.7 1369.2 721.7 1371.2 721.7 1373.2 721.7 1375.2 721.7 1377.2 721.7 1379.2 721.6 1381.2 721.4 1383.2 721.2 1385.2 721 1387.2 720.7 1389.2 720.4 1391.2 720.1 1393.2 719.9 1395.2 719.6 1397.2 719.3 1399.2 718.8 1401.2 718.2 1403.2 717.4 1405.2 716.5 1407.2 715.7 1409.2 714.9 1411.2 714.2 1413.2 713.6 1415.2 713.1 1417.2 712.6 1419.2 712 1421.2 711.5 1423.2 711.1 1425.2 710.6 1427.2 710.2 1429.2 709.9 1431.2 709.6 1433.2 709.4 1435.2 709.3 1437.2 709.4 1439.2 709.5 1441.2 709.9 1443.2 710.5 1445.2 711.3 1447.2 712.1 1449.2 713.1 1451.2 714.2 1453.2 715.3 1455.2 716.5 1457.2 717.7 1459.2 718.9 1461.2 720.1 1463.2 721.3 1465.2 722.5 1467.2 723.7 1469.2 724.9 1471.2 726.1 1473.2 727.3 1475.2 728.4 1477.2 729.4 1479.2 730.4 1481.2 731.4 1483.2 732.3 1485.2 733.1 1487.2 733.9 1489.2 734.7 1491.2 735.5 1493.2 736.3 1495.2 737.1 1497.2 737.9 1499.2 738.6 1501.2 739.4 1503.2 740.1 1505.2 740.8 1507.2 741.5 1509.2 742.2 1511.2 742.8 1513.2 743.4 1515.2 744 1517.2 744.5 1519.2 745 1521.2 745.5 1523.2 746 1525.2 746.5 1527.2 747.1 1529.2 747.6 1531.2 748.2 1533.2 748.9 1535.2 749.5 1537.2 750.2 1539.2 750.9 1541.2 751.5 1543.2 752 1545.2 752.4 1547.2 752.6 1549.2 752.8 1551.2 752.9 1553.2 752.9 1555.2 752.9 1557.2 752.9 1559.2 752.9 1561.2 752.9 1563.2 752.9 1565.2 752.9 1567.2 752.9 1569.2 752.9 1571.2 752.9 1573.2 752.9 1575.2 752.8 1577.2 752.8 1579.2 752.7 1581.2 752.7 1583.2 752.6 1585.2 752.5 1587.2 752.4 1589.2 752.2 1591.2 752 1593.2 751.6 1595.2 751.3 1597.2 750.8 1599.2 750.4 1601.2 749.9 1603.2 749.4 1605.2 748.9 1607.2 748.5 1609.2 748 1611.2 747.5 1613.2 747 1615.2 746.4 1617.2 745.9 1619.2 745.3 1621.2 744.6 1623.2 743.9 1625.2 743.2 1627.2 742.5 1629.2 741.8 1631.2 741.1 1633.2 740.5 1635.2 739.8 1637.2 739.3 1639.2 738.8 1641.2 738.3 1643.2 737.8 1645.2 737.4 1647.2 736.9 1649.2 736.5 1651.2 736 1653.2 735.4 1655.2 734.8 1657.2 734.2 1659.2 733.5 1661.2 732.8 1663.2 732.1 1665.2 731.5 1667.2 730.8 1669.2 730.3 1671.2 729.7 1673.2 729.1 1675.2 728.6 1677.2 727.9 1679.2 727.2 1681.2 726.5 1683.2 725.7 1685.2 724.8 1687.2 723.9 1689.2 723.1 1691.2 722.3 1693.2 721.7 1695.2 721.1 1697.2 720.7 1699.2 720.4 1701.2 720.1 1703.2 719.9 1705.2 719.7 1707.2 719.3 1709.2 718.8 1711.2 718 1713.2 717.2 1715.2 716.3 1717.2 715.5 1719.2 714.8 1721.2 714.2 1723.2 713.7 1725.2 713.3 1727.2 713 1729.2 712.8 1731.2 712.6 1733.2 712.4 1735.2 712.2 1737.2 712.1 1739.2 712 1741.2 712 1743.2 712 1745.2 712 1747.2 712 1749.2 712 1751.2 712 1753.2 712 1755.2 712.1 1757.2 712.2 1759.2 712.4 1761.2 712.7 1763.2 713 1765.2 713.4 1767.2 713.9 1769.2 714.4 1771.2 714.8 1773.2 715.3 1775.2 715.7 1777.2 716.2 1779.2 716.6 1781.2 717 1783.2 717.4 1785.2 717.8 1787.2 718.2 1789.2 718.5 1791.2 718.8 1792.2 718.9L1792.2 1233.3 Z"/></defs>
<use href="#w15" fill="#fff" stroke="none"/>
<g fill="none" stroke="#000" stroke-linejoin="miter" stroke-linecap="butt">
<use href="#w15" stroke-width="3.2"/>
<use href="#w15" transform="translate(1.45 1.45)" stroke-width="1"/>
<use href="#w15" transform="translate(1.45 -1.45)" stroke-width="1"/>
<use href="#w15" transform="translate(-1.45 1.45)" stroke-width="1"/>
<use href="#w15" transform="translate(-1.45 -1.45)" stroke-width="1"/>
</g>
<defs><path id="w16" d="M717.8 1266.8L717.8 1218.8 719.8 1218.8 721.8 1218.7 723.8 1218.7 725.8 1218.6 727.8 1218.6 729.8 1218.6 731.8 1218.5 733.8 1218.5 735.8 1218.4 737.8 1218.4 739.8 1218.4 741.8 1218.3 743.8 1218.3 745.8 1218.2 747.8 1218.2 749.8 1218.2 751.8 1218.1 753.8 1218.1 755.8 1218.1 757.8 1218 759.8 1218 761.8 1218 763.8 1218 765.8 1217.9 767.8 1217.9 769.8 1217.9 771.8 1217.9 773.8 1217.9 775.8 1217.9 777.8 1217.9 779.8 1217.9 781.8 1217.9 783.8 1217.8 785.8 1217.8 787.8 1217.8 789.8 1217.8 791.8 1217.8 793.8 1217.8 795.8 1217.8 797.8 1217.8 799.8 1217.8 801.8 1217.8 803.8 1217.8 805.8 1217.8 807.8 1217.8 809.8 1217.8 811.8 1217.7 813.8 1217.7 815.8 1217.7 817.8 1217.7 819.8 1217.7 821.8 1217.7 823.8 1217.7 825.8 1217.7 827.8 1217.7 829.8 1217.7 831.8 1217.7 833.8 1217.7 835.8 1217.7 837.8 1217.7 839.8 1217.7 841.8 1217.7 843.8 1217.7 845.8 1217.7 847.8 1217.7 849.8 1217.7 851.8 1217.7 853.8 1217.6 855.8 1217.6 857.8 1217.6 859.8 1217.6 861.8 1217.6 863.8 1217.6 865.8 1217.6 867.8 1217.6 869.8 1217.6 871.8 1217.6 873.8 1217.6 875.8 1217.6 877.8 1217.6 879.8 1217.6 881.8 1217.6 883.8 1217.6 885.8 1217.6 887.8 1217.6 889.8 1217.6 891.8 1217.6 893.8 1217.6 895.8 1217.6 897.8 1217.6 899.8 1217.6 901.8 1217.6 903.8 1217.6 905.8 1217.6 907.8 1217.6 909.8 1217.6 911.8 1217.6 913.8 1217.7 915.8 1217.7 917.8 1217.7 919.8 1217.7 921.8 1217.7 923.8 1217.7 925.8 1217.7 927.8 1217.7 929.8 1217.8 931.8 1217.8 933.8 1217.8 935.8 1217.8 937.8 1217.8 939.8 1217.8 941.8 1217.8 943.8 1217.9 945.8 1217.9 947.8 1217.9 949.8 1217.9 951.8 1217.9 953.8 1217.9 955.8 1217.9 957.8 1217.8 959.8 1217.8 961.8 1217.8 963.8 1217.7 965.8 1217.6 967.8 1217.6 969.8 1217.4 971.8 1217.3 973.8 1217.2 975.8 1217 977.8 1216.8 979.8 1216.6 981.8 1216.3 983.8 1216.1 985.8 1215.9 987.8 1215.7 989.8 1215.5 991.8 1215.3 993.8 1215.1 995.8 1215 997.8 1214.9 999.8 1214.8 1001.8 1214.7 1003.8 1214.6 1005.8 1214.6 1007.8 1214.6 1009.8 1214.5 1011.8 1214.4 1013.8 1214.4 1015.8 1214.3 1017.8 1214.1 1019.8 1214 1021.8 1213.8 1023.8 1213.6 1025.8 1213.4 1027.8 1213.2 1029.8 1212.9 1031.8 1212.7 1033.8 1212.4 1035.8 1212.1 1037.8 1211.8 1039.8 1211.4 1041.8 1211.1 1043.8 1210.8 1045.8 1210.4 1047.8 1210 1049.8 1209.6 1051.8 1209.2 1053.8 1208.8 1055.8 1208.4 1057.8 1207.9 1059.8 1207.4 1061.8 1206.9 1063.8 1206.3 1065.8 1205.7 1067.8 1205 1069.8 1204.3 1071.8 1203.5 1073.8 1202.7 1075.8 1201.8 1077.8 1200.9 1079.8 1199.8 1081.8 1198.6 1083.8 1197.2 1085.8 1195.6 1087.8 1193.9 1089.8 1192 1091.8 1189.8 1093.8 1187.5 1095.8 1185 1097.8 1182.2 1099.8 1179.1 1101.8 1175.5 1103.8 1171.6 1105.8 1167.2 1107.8 1162.4 1109.8 1157.1 1111.8 1151.3 1113.8 1144.9 1115.8 1137.9 1117.8 1130.4 1119.8 1122.4 1121.8 1114.1 1123.8 1105.6 1125.8 1096.8 1127.8 1088 1129.8 1079.3 1131.8 1070.6 1133.8 1062.2 1135.8 1054.1 1137.8 1046.3 1139.8 1039.1 1141.8 1032.4 1143.8 1026.4 1145.8 1020.9 1147.8 1016 1149.8 1011.7 1151.8 1007.9 1153.8 1004.6 1155.8 1001.8 1157.8 999.3 1159.8 997.1 1161.8 995.2 1163.8 993.6 1165.8 992.2 1167.8 991.1 1169.8 990.3 1171.8 989.7 1173.8 989.2 1175.8 988.8 1177.8 988.4 1179.8 987.9 1181.8 987.2 1183.8 986.4 1185.8 985.4 1187.8 984.2 1189.8 982.8 1191.8 981.2 1193.8 979.5 1195.8 977.6 1197.8 975.6 1199.8 973.4 1201.8 971.1 1203.8 968.6 1205.8 966 1207.8 963.3 1209.8 960.6 1211.8 957.7 1213.8 954.7 1215.8 951.7 1217.8 948.6 1219.8 945.3 1221.8 942 1223.8 938.7 1225.8 935.3 1227.8 931.8 1229.8 928.3 1231.8 924.8 1233.8 921.1 1235.8 917.4 1237.8 913.7 1239.8 909.9 1241.8 906 1243.8 902 1245.8 898 1247.8 893.9 1249.8 889.7 1251.8 885.4 1253.8 881 1255.8 876.5 1257.8 871.9 1259.8 867.2 1261.8 862.4 1263.8 857.5 1265.8 852.5 1267.8 847.5 1269.8 842.4 1271.8 837.3 1273.8 832.2 1275.8 827.2 1277.8 822.3 1279.8 817.6 1281.8 813.2 1283.8 809.1 1285.8 805.3 1287.8 801.7 1289.8 798.2 1291.8 794.8 1293.8 791.4 1295.8 787.9 1297.8 784.2 1299.8 780.2 1301.8 775.9 1303.8 771.6 1305.8 767.5 1307.8 763.7 1309.8 760.5 1311.8 757.7 1313.8 755.2 1315.8 753 1317.8 751 1319.8 749.2 1321.8 747.6 1323.8 746.1 1325.8 744.8 1327.8 743.7 1329.8 742.8 1331.8 742 1333.8 741.3 1335.8 740.8 1337.8 740.4 1339.8 740.1 1341.8 739.8 1343.8 739.6 1345.8 739.5 1347.8 739.5 1349.8 739.6 1351.8 739.8 1353.8 740.1 1355.8 740.6 1357.8 741.2 1359.8 742 1361.8 742.8 1363.8 743.7 1365.8 744.7 1367.8 745.6 1369.8 746.6 1371.8 747.4 1373.8 748.2 1375.8 749 1377.8 749.6 1379.8 750.2 1381.8 750.7 1383.8 751.2 1385.8 751.6 1387.8 752 1389.8 752.3 1391.8 752.5 1393.8 752.7 1395.8 752.8 1397.8 752.8 1399.8 752.9 1401.8 752.8 1403.8 752.7 1405.8 752.6 1407.8 752.4 1409.8 752.1 1411.8 751.8 1413.8 751.4 1415.8 750.9 1417.8 750.4 1419.8 749.7 1421.8 749 1423.8 748.2 1425.8 747.4 1427.8 746.5 1429.8 745.6 1431.8 744.8 1433.8 744 1435.8 743.2 1437.8 742.5 1439.8 741.8 1441.8 741.2 1443.8 740.6 1445.8 740.2 1447.8 739.8 1449.8 739.5 1451.8 739.3 1453.8 739.2 1455.8 739.2 1457.8 739.2 1459.8 739.2 1461.8 739.3 1463.8 739.4 1465.8 739.6 1467.8 739.8 1469.8 740.3 1471.8 740.8 1473.8 741.6 1475.8 742.4 1477.8 743.3 1479.8 744.3 1481.8 745.3 1483.8 746.3 1485.8 747.3 1487.8 748.3 1489.8 749.3 1491.8 750.3 1493.8 751.2 1495.8 752.1 1497.8 752.9 1499.8 753.8 1501.8 754.6 1503.8 755.4 1505.8 756.2 1507.8 757.1 1509.8 758 1511.8 758.9 1513.8 759.9 1515.8 760.9 1517.8 761.9 1519.8 762.9 1521.8 764 1523.8 765 1525.8 766 1527.8 767.1 1529.8 768.1 1531.8 769 1533.8 769.9 1535.8 770.8 1537.8 771.6 1539.8 772.3 1541.8 773 1543.8 773.7 1545.8 774.3 1547.8 774.9 1549.8 775.5 1551.8 776 1553.8 776.5 1555.8 777.1 1557.8 777.5 1559.8 778 1561.8 778.4 1563.8 778.8 1565.8 779.2 1567.8 779.4 1569.8 779.6 1571.8 779.8 1573.8 779.8 1575.8 779.9 1577.8 779.9 1579.8 779.9 1581.8 779.9 1583.8 779.9 1585.8 779.9 1587.8 779.9 1589.8 779.9 1591.8 779.9 1593.8 779.9 1595.8 779.9 1597.8 779.9 1599.8 779.9 1601.8 779.9 1603.8 779.9 1605.8 779.9 1607.8 779.9 1609.8 779.9 1611.8 779.9 1613.8 779.9 1615.8 779.9 1617.8 779.9 1619.8 779.8 1621.8 779.7 1623.8 779.5 1625.8 779.3 1627.8 778.9 1629.8 778.4 1631.8 777.9 1633.8 777.4 1635.8 776.8 1637.8 776.2 1639.8 775.7 1641.8 775.2 1643.8 774.7 1645.8 774.3 1647.8 773.8 1649.8 773.4 1651.8 772.9 1653.8 772.4 1655.8 771.9 1657.8 771.4 1659.8 770.7 1661.8 770 1663.8 769.2 1665.8 768.4 1667.8 767.6 1669.8 766.8 1671.8 766 1673.8 765.3 1675.8 764.6 1677.8 764 1679.8 763.4 1681.8 762.9 1683.8 762.4 1685.8 761.8 1687.8 761.2 1689.8 760.5 1691.8 759.8 1693.8 759.1 1695.8 758.3 1697.8 757.6 1699.8 756.9 1701.8 756.3 1703.8 755.8 1705.8 755.3 1707.8 754.8 1709.8 754.3 1711.8 753.9 1713.8 753.4 1715.8 752.8 1717.8 752.3 1719.8 751.6 1721.8 750.9 1723.8 750.2 1725.8 749.5 1727.8 748.9 1729.8 748.3 1731.8 747.8 1733.8 747.3 1735.8 747 1737.8 746.6 1739.8 746.3 1741.8 746 1743.8 745.6 1745.8 745.2 1747.8 744.8 1749.8 744.3 1751.8 743.8 1753.8 743.3 1755.8 742.9 1757.8 742.5 1759.8 742.3 1761.8 742.1 1763.8 741.9 1765.8 741.8 1767.8 741.8 1769.8 741.7 1771.8 741.7 1773.8 741.7 1775.8 741.7 1777.8 741.7 1779.8 741.7 1781.8 741.8 1783.8 741.9 1785.8 742 1787.8 742.2 1789.8 742.4 1791.8 742.7 1793.8 743 1795.8 743.4 1797.8 743.8 1799.8 744.2 1801.8 744.7 1803.8 745.1 1805.8 745.5 1807.8 745.9 1809.8 746.3 1811.8 746.6 1813.8 746.9 1815.8 747.2 1816.4 747.2L1816.4 1266.8 Z"/></defs>
<use href="#w16" fill="#fff" stroke="none"/>
<g fill="none" stroke="#000" stroke-linejoin="miter" stroke-linecap="butt">
<use href="#w16" stroke-width="3.2"/>
<use href="#w16" transform="translate(1.45 1.45)" stroke-width="1"/>
<use href="#w16" transform="translate(1.45 -1.45)" stroke-width="1"/>
<use href="#w16" transform="translate(-1.45 1.45)" stroke-width="1"/>
<use href="#w16" transform="translate(-1.45 -1.45)" stroke-width="1"/>
</g>
<g font-family="'Liberation Sans', Arial, sans-serif" fill="#000" stroke="#000" stroke-width="0.5" stroke-linejoin="round">
<text transform="translate(161.6 755.2) scale(1 1.035)" font-size="42.3" text-anchor="end">Calc.</text>
<text transform="translate(186.2 788.7) scale(1 1.035)" font-size="42.3" text-anchor="end">310</text>
<text transform="translate(210.7 822.1) scale(1 1.035)" font-size="42.3" text-anchor="end">427</text>
<text transform="translate(235.2 855.6) scale(1 1.035)" font-size="42.3" text-anchor="end">437</text>
<text transform="translate(259.8 889) scale(1 1.035)" font-size="42.3" text-anchor="end">448</text>
<text transform="translate(284.4 922.5) scale(1 1.035)" font-size="42.3" text-anchor="end">458</text>
<text transform="translate(308.9 955.9) scale(1 1.035)" font-size="42.3" text-anchor="end">469</text>
<text transform="translate(333.4 989.4) scale(1 1.035)" font-size="42.3" text-anchor="end">480</text>
<text transform="translate(358 1022.8) scale(1 1.035)" font-size="42.3" text-anchor="end">490</text>
<text transform="translate(382.6 1056.2) scale(1 1.035)" font-size="42.3" text-anchor="end">500</text>
<text transform="translate(407.1 1089.7) scale(1 1.035)" font-size="42.3" text-anchor="end">511</text>
<text transform="translate(431.6 1123.2) scale(1 1.035)" font-size="42.3" text-anchor="end">521</text>
<text transform="translate(456.2 1156.6) scale(1 1.035)" font-size="42.3" text-anchor="end">532</text>
<text transform="translate(480.8 1190.1) scale(1 1.035)" font-size="42.3" text-anchor="end">543</text>
<text transform="translate(505.3 1223.5) scale(1 1.035)" font-size="42.3" text-anchor="end">553</text>
<text transform="translate(529.9 1257) scale(1 1.035)" font-size="42.3" text-anchor="end">563</text>
<text transform="translate(554.4 1290.4) scale(1 1.035)" font-size="42.3" text-anchor="end">573</text>
<text transform="translate(751.7 1391.5) scale(1 1.035)" font-size="42.3" text-anchor="middle">8950</text>
<text transform="translate(892.3 1391.5) scale(1 1.035)" font-size="42.3" text-anchor="middle">8960</text>
<text transform="translate(1032.9 1391.5) scale(1 1.035)" font-size="42.3" text-anchor="middle">8970</text>
<text transform="translate(1173.5 1391.5) scale(1 1.035)" font-size="42.3" text-anchor="middle">8980</text>
<text transform="translate(1314.1 1391.5) scale(1 1.035)" font-size="42.3" text-anchor="middle">8990</text>
<text transform="translate(1454.7 1391.5) scale(1 1.035)" font-size="42.3" text-anchor="middle">9000</text>
<text transform="translate(1595.3 1391.5) scale(1 1.035)" font-size="42.3" text-anchor="middle">9010</text>
<text transform="translate(1735.9 1391.5) scale(1 1.035)" font-size="42.3" text-anchor="middle">9020</text>
<text transform="translate(1876.5 1391.5) scale(1 1.035)" font-size="42.3" text-anchor="middle">9030</text>
<text transform="translate(134 571) rotate(-90)" font-size="52.4">Absorbance (a.u.)</text>
<text transform="translate(33.5 975) rotate(54)" font-size="52.4">Temperature / K</text>
<text x="1214.3" y="1495.3" font-size="51.2" letter-spacing="0.4">Energy / eV</text>
</g>
<g font-family="'Liberation Serif', 'Times New Roman', serif" fill="#000" font-size="100">
<text x="917.5" y="1665.5"><tspan>(</tspan><tspan font-weight="bold">a</tspan><tspan>)</tspan></text>
<text x="916" y="4524.5"><tspan>(</tspan><tspan font-weight="bold">b</tspan><tspan>)</tspan></text>
</g>
<g stroke="#000" stroke-width="5" fill="none" stroke-dasharray="5 13.84">
<path d="M784 1738.5 V4196"/>
<path d="M1200.4 1731.8 V4196"/>
</g>
<g stroke="#000" stroke-width="4.1" fill="none" stroke-linejoin="round" stroke-linecap="butt">
</g>
<g>
<defs><path id="c2" d="M356 1828.9C363.3 1828.9 378.9 1828.9 400 1828.9C421.1 1829 455.4 1828.9 482.6 1829.2C509.8 1829.5 541 1829.8 563.5 1830.5C585.9 1831.2 599.4 1832.1 617.4 1833.2C635.3 1834.3 653.3 1835.4 671.3 1837C689.2 1838.6 707.2 1840.4 725.2 1842.9C743.1 1845.4 764.6 1849 779.1 1852.1C793.6 1855.1 801.4 1857.6 812.3 1861.2C823.3 1864.8 833.9 1869.1 844.7 1873.6C855.5 1878.1 866.3 1882.5 877 1888.2C887.8 1893.9 898.6 1900.4 909.4 1907.6C920.2 1914.8 932.7 1924.4 941.7 1931.3C950.7 1938.2 957.4 1944.1 963.3 1949.1C969.1 1954.1 971.4 1955.7 976.8 1961.5C982.2 1967.3 988.9 1976.8 995.6 1984.2C1002.4 1991.5 1010.9 2000.3 1017.2 2005.7C1023.5 2011.1 1028 2013.8 1033.4 2016.5C1038.8 2019.2 1043.3 2020.5 1049.5 2021.9C1055.8 2023.2 1064.8 2023.5 1071.1 2024.6C1077.4 2025.7 1081.9 2026.1 1087.3 2028.4C1092.7 2030.6 1097.2 2033.3 1103.5 2038.1C1109.7 2042.8 1117.8 2050.5 1125 2056.9C1132.2 2063.4 1139.4 2071.5 1146.6 2076.9C1153.8 2082.3 1161 2085.2 1168.1 2089.3C1175.3 2093.3 1183.7 2097.8 1189.7 2101.1C1195.7 2104.5 1199.8 2106.3 1204.3 2109.2C1208.8 2112.2 1212.8 2115.1 1216.7 2118.9C1220.5 2122.8 1223.8 2126.6 1227.4 2132.4C1231 2138.2 1234.6 2144.5 1238.2 2154C1241.8 2163.4 1245.9 2176.9 1249 2189C1252.1 2201.1 1254.4 2213.3 1257.1 2226.7C1259.8 2240.2 1262.5 2254.6 1265.2 2269.9C1267.9 2285.1 1271 2302.8 1273.3 2318.4C1275.5 2333.9 1276.9 2349.4 1278.7 2363.1C1280.4 2376.9 1281.8 2384.7 1284 2400.9C1286.3 2417 1289.4 2440.4 1292.1 2460.2C1294.8 2479.9 1297.5 2499.7 1300.2 2519.5C1302.9 2539.2 1305.6 2559 1308.3 2578.8C1311 2598.5 1313.7 2619.2 1316.4 2638.1C1319.1 2656.9 1321.8 2674.9 1324.5 2692C1327.2 2709 1329.9 2725.2 1332.6 2740.5C1335.3 2755.8 1338 2771 1340.6 2783.6C1343.3 2796.2 1346 2806.1 1348.7 2816C1351.4 2825.8 1353.7 2834.4 1356.8 2842.9C1360 2851.4 1363.7 2860 1367.6 2867.2C1371.5 2874.4 1376.3 2881.1 1380 2886C1383.7 2891 1385.7 2893.9 1390.1 2896.8C1394.5 2899.7 1400 2901.9 1406.3 2903.3C1412.5 2904.6 1415.2 2904.6 1427.8 2904.9C1440.4 2905.2 1425.3 2904.9 1481.7 2904.9C1538.1 2904.9 1718.9 2904.9 1766.4 2904.9"/></defs>
<g fill="none" stroke="#000" stroke-linejoin="miter" stroke-linecap="butt">
<use href="#c2" stroke-width="3.4"/>
<use href="#c2" transform="translate(1.55 1.55)" stroke-width="1"/>
<use href="#c2" transform="translate(1.55 -1.55)" stroke-width="1"/>
<use href="#c2" transform="translate(-1.55 1.55)" stroke-width="1"/>
<use href="#c2" transform="translate(-1.55 -1.55)" stroke-width="1"/>
</g>
<rect x="334.2" y="1817.7" width="22" height="22" fill="#fff" stroke="#000" stroke-width="2.8"/>
<rect x="798.8" y="1817.7" width="22" height="22" fill="#fff" stroke="#000" stroke-width="2.8"/>
<rect x="966.3" y="1939.8" width="22" height="22" fill="#fff" stroke="#000" stroke-width="2.8"/>
<rect x="1020.3" y="2021.1" width="22" height="22" fill="#fff" stroke="#000" stroke-width="2.8"/>
<rect x="1079.7" y="2007.1" width="22" height="22" fill="#fff" stroke="#000" stroke-width="2.8"/>
<rect x="1133.7" y="2070.6" width="22" height="22" fill="#fff" stroke="#000" stroke-width="2.8"/>
<rect x="1193.1" y="2093.2" width="22" height="22" fill="#fff" stroke="#000" stroke-width="2.8"/>
<rect x="1252.6" y="2171.2" width="22" height="22" fill="#fff" stroke="#000" stroke-width="2.8"/>
<rect x="1306.6" y="2716.3" width="22" height="22" fill="#fff" stroke="#000" stroke-width="2.8"/>
<rect x="1360.6" y="2893.9" width="22" height="22" fill="#fff" stroke="#000" stroke-width="2.8"/>
<rect x="1420" y="2893.9" width="22" height="22" fill="#fff" stroke="#000" stroke-width="2.8"/>
<rect x="1474" y="2893.9" width="22" height="22" fill="#fff" stroke="#000" stroke-width="2.8"/>
<rect x="1533.5" y="2893.9" width="22" height="22" fill="#fff" stroke="#000" stroke-width="2.8"/>
<rect x="1592.9" y="2893.9" width="22" height="22" fill="#fff" stroke="#000" stroke-width="2.8"/>
<rect x="1646.9" y="2893.9" width="22" height="22" fill="#fff" stroke="#000" stroke-width="2.8"/>
<rect x="1700.9" y="2893.9" width="22" height="22" fill="#fff" stroke="#000" stroke-width="2.8"/>
<rect x="1754.9" y="2893.9" width="22" height="22" fill="#fff" stroke="#000" stroke-width="2.8"/>
<defs><path id="c1" d="M345 2904.9C374.2 2904.9 477.5 2905.2 520 2904.9C562.5 2904.6 573.3 2904.3 600 2903C626.7 2901.7 656.7 2899.3 680 2897C703.3 2894.7 723.3 2891.5 740 2889C756.7 2886.5 767.9 2884.5 780 2881.7C792.1 2879 801.6 2876.1 812.3 2872.6C823.1 2869.1 833.9 2865.2 844.7 2860.7C855.5 2856.2 866.3 2851.3 877 2845.6C887.8 2839.9 898.6 2833.9 909.4 2826.7C920.2 2819.6 932.7 2809.5 941.7 2802.5C950.7 2795.5 957.4 2789.8 963.3 2784.7C969.1 2779.6 971.4 2777.6 976.8 2771.8C982.2 2765.9 988.9 2757.4 995.6 2749.6C1002.4 2741.9 1010.9 2731.4 1017.2 2725.4C1023.5 2719.4 1028 2716.2 1033.4 2713.5C1038.8 2710.8 1043.3 2710.3 1049.5 2709.2C1055.8 2708.1 1064.8 2708 1071.1 2707.1C1077.4 2706.2 1081.9 2705.9 1087.3 2703.8C1092.7 2701.8 1097.2 2699.3 1103.5 2694.7C1109.7 2690 1117.8 2682.4 1125 2675.8C1132.2 2669.2 1139.4 2660.9 1146.6 2655.3C1153.8 2649.7 1161 2646.3 1168.1 2642.4C1175.3 2638.4 1183.7 2634.8 1189.7 2631.6C1195.7 2628.4 1199.8 2626.4 1204.3 2623C1208.8 2619.6 1212.8 2615.3 1216.7 2611.1C1220.5 2606.9 1223.8 2603.5 1227.4 2597.6C1231 2591.8 1234.6 2585.5 1238.2 2576.1C1241.8 2566.6 1245.9 2553.2 1249 2541C1252.1 2528.9 1254.4 2516.8 1257.1 2503.3C1259.8 2489.8 1262.5 2476.3 1265.2 2460.2C1267.9 2444 1271 2422.4 1273.3 2406.3C1275.5 2390.1 1276.9 2377.5 1278.7 2363.1C1280.4 2348.8 1281.9 2335.5 1284 2320C1286.1 2304.5 1288.6 2289 1291.2 2269.9C1293.8 2250.7 1296.8 2228.5 1299.8 2205.2C1302.9 2181.8 1306.3 2153.1 1309.5 2129.7C1312.8 2106.3 1315.7 2083.9 1319.2 2065C1322.7 2046.1 1326.9 2029.3 1330.6 2016.5C1334.2 2003.6 1337.8 1994.8 1341.3 1987.9C1344.9 1981.1 1348.9 1978 1352.1 1975.5C1355.4 1973 1357.6 1972.3 1360.8 1972.8C1363.9 1973.4 1367.8 1974.2 1371 1978.8C1374.2 1983.3 1376.8 1991.3 1380.2 2000.3C1383.5 2009.3 1387.3 2021 1390.9 2032.7C1394.5 2044.3 1398.1 2057.4 1401.7 2070.4C1405.3 2083.4 1408.9 2097.4 1412.5 2110.8C1416.1 2124.3 1420.1 2140 1423.3 2151.3C1426.4 2162.5 1428.2 2166.5 1431.4 2178.2C1434.5 2189.9 1438.1 2206.1 1442.2 2221.3C1446.2 2236.6 1451.6 2255.5 1455.6 2269.9C1459.7 2284.2 1462.9 2293.9 1466.4 2307.6C1470 2321.3 1472.5 2337.7 1476.9 2352.3C1481.2 2367 1487.2 2380.2 1492.5 2395.5C1497.8 2410.7 1503.3 2426.9 1508.7 2444C1514.1 2461.1 1519 2479 1524.9 2497.9C1530.7 2516.8 1537.4 2535.6 1543.7 2557.2C1550 2578.8 1556.7 2605.7 1562.6 2627.3C1568.4 2648.8 1573.4 2666.8 1578.8 2686.6C1584.2 2706.3 1589.5 2728.8 1594.9 2745.9C1600.3 2762.9 1605.7 2774.6 1611.1 2789C1616.5 2803.4 1621.9 2819.6 1627.3 2832.1C1632.7 2844.7 1638.1 2855.5 1643.5 2864.5C1648.8 2873.5 1654.2 2880.2 1659.6 2886C1665 2891.9 1669.5 2896.4 1675.8 2899.5C1682.1 2902.7 1688.4 2904 1697.4 2904.9C1706.3 2905.8 1718.2 2904.9 1729.7 2904.9C1741.2 2904.9 1760.3 2904.9 1766.4 2904.9"/></defs>
<g fill="none" stroke="#000" stroke-linejoin="miter" stroke-linecap="butt">
<use href="#c1" stroke-width="3.4"/>
<use href="#c1" transform="translate(1.55 1.55)" stroke-width="1"/>
<use href="#c1" transform="translate(1.55 -1.55)" stroke-width="1"/>
<use href="#c1" transform="translate(-1.55 1.55)" stroke-width="1"/>
<use href="#c1" transform="translate(-1.55 -1.55)" stroke-width="1"/>
</g>
<circle cx="345.2" cy="2904.9" r="12.6" fill="#fff" stroke="#000" stroke-width="2.9"/>
<circle cx="809.8" cy="2904.9" r="12.6" fill="#fff" stroke="#000" stroke-width="2.9"/>
<circle cx="977.3" cy="2782.2" r="12.6" fill="#fff" stroke="#000" stroke-width="2.9"/>
<circle cx="1031.3" cy="2701.5" r="12.6" fill="#fff" stroke="#000" stroke-width="2.9"/>
<circle cx="1090.7" cy="2715.5" r="12.6" fill="#fff" stroke="#000" stroke-width="2.9"/>
<circle cx="1144.7" cy="2652" r="12.6" fill="#fff" stroke="#000" stroke-width="2.9"/>
<circle cx="1204.1" cy="2629.4" r="12.6" fill="#fff" stroke="#000" stroke-width="2.9"/>
<circle cx="1263.6" cy="2550.8" r="12.6" fill="#fff" stroke="#000" stroke-width="2.9"/>
<circle cx="1317.6" cy="2005.7" r="12.6" fill="#fff" stroke="#000" stroke-width="2.9"/>
<circle cx="1371.6" cy="1929.2" r="12.6" fill="#fff" stroke="#000" stroke-width="2.9"/>
<circle cx="1431" cy="2179.5" r="12.6" fill="#fff" stroke="#000" stroke-width="2.9"/>
<circle cx="1485" cy="2384" r="12.6" fill="#fff" stroke="#000" stroke-width="2.9"/>
<circle cx="1544.5" cy="2548.7" r="12.6" fill="#fff" stroke="#000" stroke-width="2.9"/>
<circle cx="1603.9" cy="2788.7" r="12.6" fill="#fff" stroke="#000" stroke-width="2.9"/>
<circle cx="1657.9" cy="2904.9" r="12.6" fill="#fff" stroke="#000" stroke-width="2.9"/>
<circle cx="1711.9" cy="2904.9" r="12.6" fill="#fff" stroke="#000" stroke-width="2.9"/>
<circle cx="1765.9" cy="2904.9" r="12.6" fill="#fff" stroke="#000" stroke-width="2.9"/>
<defs><path id="c0" d="M345 2904.9C420.8 2904.9 644.8 2904.9 800 2904.9C955.2 2904.9 1193.9 2905.4 1276 2904.9C1358 2904.5 1286.7 2904 1292.1 2902.2C1297.5 2900.4 1302.9 2897.7 1308.3 2894.1C1313.7 2890.5 1319.1 2886.5 1324.5 2880.6C1329.9 2874.8 1335.3 2868.1 1340.6 2859.1C1346 2850.1 1351.7 2838.4 1356.8 2826.7C1361.9 2815.1 1366.6 2802.5 1371.2 2789C1375.9 2775.5 1379.7 2762.9 1384.7 2745.9C1389.6 2728.8 1395.5 2707.2 1400.9 2686.6C1406.3 2665.9 1412.1 2642.6 1417 2621.9C1422 2601.2 1426 2582.4 1430.5 2562.6C1435 2542.8 1438.6 2524 1444 2503.3C1449.4 2482.6 1457.1 2458.4 1462.9 2438.6C1468.6 2418.8 1474.4 2399.1 1478.5 2384.7C1482.6 2370.3 1482.5 2367.9 1487.7 2352.3C1492.8 2336.8 1503.2 2310.6 1509.5 2291.4C1515.9 2272.3 1519.9 2256.4 1525.7 2237.5C1531.6 2218.7 1538.3 2198.9 1544.6 2178.2C1550.9 2157.6 1557.6 2134.2 1563.5 2113.5C1569.3 2092.9 1574.2 2074 1579.6 2054.2C1585 2034.5 1591.3 2012 1595.8 1994.9C1600.3 1977.9 1603 1964.4 1606.6 1951.8C1610.2 1939.2 1613.3 1930.7 1617.4 1919.5C1621.4 1908.2 1626.3 1894.3 1630.8 1884.4C1635.3 1874.5 1639.4 1867.3 1644.3 1860.2C1649.3 1853 1655.1 1846.1 1660.5 1841.3C1665.9 1836.5 1671.3 1833.7 1676.7 1831.6C1682 1829.5 1687 1829.3 1692.8 1828.9C1698.7 1828.4 1699.6 1828.9 1711.7 1828.9C1723.8 1828.9 1756.6 1828.9 1765.6 1828.9"/></defs>
<g fill="none" stroke="#000" stroke-linejoin="miter" stroke-linecap="butt">
<use href="#c0" stroke-width="3.4"/>
<use href="#c0" transform="translate(1.55 1.55)" stroke-width="1"/>
<use href="#c0" transform="translate(1.55 -1.55)" stroke-width="1"/>
<use href="#c0" transform="translate(-1.55 1.55)" stroke-width="1"/>
<use href="#c0" transform="translate(-1.55 -1.55)" stroke-width="1"/>
</g>
<polygon points="345.2,2887.3 360.5,2913.7 330,2913.7" fill="#fff" stroke="#000" stroke-width="2.8" stroke-linejoin="miter"/>
<polygon points="809.8,2887.3 825,2913.7 794.5,2913.7" fill="#fff" stroke="#000" stroke-width="2.8" stroke-linejoin="miter"/>
<polygon points="977.3,2887.3 992.5,2913.7 962,2913.7" fill="#fff" stroke="#000" stroke-width="2.8" stroke-linejoin="miter"/>
<polygon points="1031.3,2887.3 1046.5,2913.7 1016,2913.7" fill="#fff" stroke="#000" stroke-width="2.8" stroke-linejoin="miter"/>
<polygon points="1090.7,2887.3 1105.9,2913.7 1075.4,2913.7" fill="#fff" stroke="#000" stroke-width="2.8" stroke-linejoin="miter"/>
<polygon points="1144.7,2887.3 1160,2913.7 1129.5,2913.7" fill="#fff" stroke="#000" stroke-width="2.8" stroke-linejoin="miter"/>
<polygon points="1204.1,2887.3 1219.4,2913.7 1188.9,2913.7" fill="#fff" stroke="#000" stroke-width="2.8" stroke-linejoin="miter"/>
<polygon points="1263.6,2887.3 1278.8,2913.7 1248.3,2913.7" fill="#fff" stroke="#000" stroke-width="2.8" stroke-linejoin="miter"/>
<polygon points="1317.6,2887.3 1332.8,2913.7 1302.3,2913.7" fill="#fff" stroke="#000" stroke-width="2.8" stroke-linejoin="miter"/>
<polygon points="1371.6,2786.1 1386.9,2812.5 1356.4,2812.5" fill="#fff" stroke="#000" stroke-width="2.8" stroke-linejoin="miter"/>
<polygon points="1431,2537.1 1446.3,2563.5 1415.8,2563.5" fill="#fff" stroke="#000" stroke-width="2.8" stroke-linejoin="miter"/>
<polygon points="1485,2333 1500.3,2359.5 1469.8,2359.5" fill="#fff" stroke="#000" stroke-width="2.8" stroke-linejoin="miter"/>
<polygon points="1544.5,2163.5 1559.7,2190 1529.2,2190" fill="#fff" stroke="#000" stroke-width="2.8" stroke-linejoin="miter"/>
<polygon points="1603.9,1923.6 1619.1,1950 1588.6,1950" fill="#fff" stroke="#000" stroke-width="2.8" stroke-linejoin="miter"/>
<polygon points="1657.9,1811.1 1673.2,1837.5 1642.7,1837.5" fill="#fff" stroke="#000" stroke-width="2.8" stroke-linejoin="miter"/>
<polygon points="1711.9,1811.1 1727.2,1837.5 1696.7,1837.5" fill="#fff" stroke="#000" stroke-width="2.8" stroke-linejoin="miter"/>
<polygon points="1765.9,1811.1 1781.2,1837.5 1750.7,1837.5" fill="#fff" stroke="#000" stroke-width="2.8" stroke-linejoin="miter"/>
</g>
<g stroke="#000" stroke-width="3.2" fill="#fff">
<ellipse cx="534.5" cy="2364.3" rx="74.1" ry="83.6"/>
<ellipse cx="1050" cy="2363.9" rx="74.1" ry="83.6"/>
<ellipse cx="1693.9" cy="2377.6" rx="74.1" ry="83.6"/>
</g>
<g font-family="'Liberation Sans', Arial, sans-serif" stroke="#000" stroke-width="0.5" stroke-linejoin="round" fill="#000" font-size="98" text-anchor="middle">
<text transform="translate(537.5 2386) scale(1 1.035)">I</text>
<text transform="translate(1048 2386) scale(1 1.035)">II</text>
<text transform="translate(1695.5 2400) scale(1 1.035)">III</text>
</g>
<clipPath id="cb"><rect x="238.2" y="2959.5" width="1673.4" height="1244.5"/></clipPath>
<g clip-path="url(#cb)">
<path d="M275 3930C283.2 3931 330.7 3936.9 345.2 3938.2C359.7 3939.6 384.7 3940.2 399.2 3941.3C413.7 3942.5 454.3 3946.2 469.5 3947.9C484.6 3949.6 515.7 3953.7 528.9 3956C542.1 3958.2 570.3 3964 582.9 3966.9C595.5 3969.7 623.7 3976.5 636.9 3980.3C650.2 3984 683.1 3994.8 696.4 3999.2C709.6 4003.6 737.1 4013.3 750.4 4017.9C763.6 4022.5 796.6 4034.6 809.8 4038.7C823 4042.9 850.6 4049.3 863.8 4053.6C877 4057.8 910 4070.4 923.2 4074.8C936.5 4079.2 964.6 4085.6 977.3 4091.2C989.9 4096.8 1018 4115 1031.3 4122.7C1044.5 4130.5 1077.5 4150.5 1090.7 4157.7C1103.9 4165 1131.5 4181.2 1144.7 4185.1C1158 4189 1190.3 4190.1 1204.1 4191.1C1218 4192.1 1250.3 4193 1263.6 4193.4C1276.8 4193.8 1305 4194.3 1317.6 4194.6C1330.2 4194.9 1358.4 4195.6 1371.6 4195.8C1384.8 4196.1 1417.8 4196.5 1431 4196.7C1444.3 4196.8 1471.8 4197.1 1485 4197.3C1498.3 4197.4 1530.6 4197.8 1544.5 4197.9C1558.3 4198 1590.7 4198.3 1603.9 4198.3C1617.1 4198.3 1645.3 4198.3 1657.9 4198.3C1670.5 4198.3 1699.3 4198.3 1711.9 4198.3C1724.5 4198.3 1759.6 4198.3 1765.9 4198.3" fill="none" stroke="#000" stroke-width="4.5" stroke-dasharray="15.7 15.7" stroke-dashoffset="1.5"/>
<polygon points="275,3912.7 290,3938.7 260,3938.7" fill="#000" stroke="#000" stroke-width="2" stroke-linejoin="miter"/>
<polygon points="345.2,3920.9 360.2,3946.9 330.2,3946.9" fill="#000" stroke="#000" stroke-width="2" stroke-linejoin="miter"/>
<polygon points="399.2,3924 414.2,3950 384.2,3950" fill="#000" stroke="#000" stroke-width="2" stroke-linejoin="miter"/>
<polygon points="469.5,3930.6 484.5,3956.6 454.5,3956.6" fill="#000" stroke="#000" stroke-width="2" stroke-linejoin="miter"/>
<polygon points="528.9,3938.6 543.9,3964.6 513.9,3964.6" fill="#000" stroke="#000" stroke-width="2" stroke-linejoin="miter"/>
<polygon points="582.9,3949.5 597.9,3975.5 567.9,3975.5" fill="#000" stroke="#000" stroke-width="2" stroke-linejoin="miter"/>
<polygon points="636.9,3962.9 651.9,3988.9 621.9,3988.9" fill="#000" stroke="#000" stroke-width="2" stroke-linejoin="miter"/>
<polygon points="696.4,3981.9 711.4,4007.9 681.4,4007.9" fill="#000" stroke="#000" stroke-width="2" stroke-linejoin="miter"/>
<polygon points="750.4,4000.6 765.4,4026.6 735.4,4026.6" fill="#000" stroke="#000" stroke-width="2" stroke-linejoin="miter"/>
<polygon points="809.8,4021.4 824.8,4047.4 794.8,4047.4" fill="#000" stroke="#000" stroke-width="2" stroke-linejoin="miter"/>
<polygon points="863.8,4036.2 878.8,4062.2 848.8,4062.2" fill="#000" stroke="#000" stroke-width="2" stroke-linejoin="miter"/>
<polygon points="923.2,4057.4 938.2,4083.4 908.2,4083.4" fill="#000" stroke="#000" stroke-width="2" stroke-linejoin="miter"/>
<polygon points="977.3,4073.9 992.3,4099.9 962.3,4099.9" fill="#000" stroke="#000" stroke-width="2" stroke-linejoin="miter"/>
<polygon points="1031.3,4105.4 1046.3,4131.4 1016.3,4131.4" fill="#000" stroke="#000" stroke-width="2" stroke-linejoin="miter"/>
<polygon points="1090.7,4140.4 1105.7,4166.4 1075.7,4166.4" fill="#000" stroke="#000" stroke-width="2" stroke-linejoin="miter"/>
<polygon points="1144.7,4167.8 1159.7,4193.8 1129.7,4193.8" fill="#000" stroke="#000" stroke-width="2" stroke-linejoin="miter"/>
<polygon points="1204.1,4173.8 1219.1,4199.8 1189.1,4199.8" fill="#000" stroke="#000" stroke-width="2" stroke-linejoin="miter"/>
<polygon points="1263.6,4176 1278.6,4202 1248.6,4202" fill="#000" stroke="#000" stroke-width="2" stroke-linejoin="miter"/>
<polygon points="1317.6,4177.3 1332.6,4203.3 1302.6,4203.3" fill="#000" stroke="#000" stroke-width="2" stroke-linejoin="miter"/>
<polygon points="1371.6,4178.5 1386.6,4204.5 1356.6,4204.5" fill="#000" stroke="#000" stroke-width="2" stroke-linejoin="miter"/>
<polygon points="1431,4179.3 1446,4205.3 1416,4205.3" fill="#000" stroke="#000" stroke-width="2" stroke-linejoin="miter"/>
<polygon points="1485,4180 1500,4205.9 1470,4205.9" fill="#000" stroke="#000" stroke-width="2" stroke-linejoin="miter"/>
<polygon points="1544.5,4180.6 1559.5,4206.5 1529.5,4206.5" fill="#000" stroke="#000" stroke-width="2" stroke-linejoin="miter"/>
<polygon points="1603.9,4181 1618.9,4207 1588.9,4207" fill="#000" stroke="#000" stroke-width="2" stroke-linejoin="miter"/>
<polygon points="1657.9,4181 1672.9,4207 1642.9,4207" fill="#000" stroke="#000" stroke-width="2" stroke-linejoin="miter"/>
<polygon points="1711.9,4181 1726.9,4207 1696.9,4207" fill="#000" stroke="#000" stroke-width="2" stroke-linejoin="miter"/>
<polygon points="1765.9,4181 1780.9,4207 1750.9,4207" fill="#000" stroke="#000" stroke-width="2" stroke-linejoin="miter"/>
<defs><path id="sco" d="M275 3991.6C284.4 3991.7 328.7 3992.4 345.2 3992.6C361.8 3992.8 382.7 3992.4 399.2 3993.2C415.8 3994 452.2 3996.8 469.5 3998.6C486.8 4000.4 513.8 4003.9 528.9 4006.6C544 4009.3 568.5 4014.8 582.9 4018.5C597.3 4022.3 621.8 4029.6 636.9 4034.8C652.1 4040.1 681.2 4051.9 696.4 4057.9C711.5 4063.8 735.2 4074.4 750.4 4079.5C765.5 4084.6 794.7 4092.6 809.8 4096.2C824.9 4099.8 848.7 4104.4 863.8 4106.5C878.9 4108.6 908.1 4110.8 923.2 4111.8C938.4 4112.8 962.8 4113.4 977.3 4113.9C991.7 4114.3 1016.1 4115 1031.3 4115.1C1046.4 4115.3 1075.6 4115.3 1090.7 4115.1C1105.8 4115 1129.6 4115.1 1144.7 4113.9C1159.8 4112.6 1188.3 4108.8 1204.1 4105.9C1220 4102.9 1248.4 4094.7 1263.6 4091.4C1278.7 4088.2 1303.2 4084.3 1317.6 4081.6C1332 4078.8 1356.5 4074.4 1371.6 4070.8C1386.7 4067.3 1415.9 4058.8 1431 4054.6C1446.1 4050.3 1469.9 4042 1485 4038.9C1500.2 4035.9 1528.6 4033.6 1544.5 4031.9C1560.3 4030.3 1588.8 4027.4 1603.9 4026.6C1619 4025.7 1643.5 4025.7 1657.9 4025.5C1672.3 4025.4 1697.5 4025.1 1711.9 4025.5C1726.3 4026 1758.7 4028.8 1765.9 4029.3"/></defs>
<g fill="none" stroke="#000" stroke-linejoin="miter" stroke-linecap="butt">
<use href="#sco" stroke-width="3.4"/>
<use href="#sco" transform="translate(1.55 1.55)" stroke-width="1"/>
<use href="#sco" transform="translate(1.55 -1.55)" stroke-width="1"/>
<use href="#sco" transform="translate(-1.55 1.55)" stroke-width="1"/>
<use href="#sco" transform="translate(-1.55 -1.55)" stroke-width="1"/>
</g>
<circle cx="275" cy="3991.6" r="13" fill="#000" stroke="#000" stroke-width="2"/>
<circle cx="345.2" cy="3992.6" r="13" fill="#000" stroke="#000" stroke-width="2"/>
<circle cx="399.2" cy="3993.2" r="13" fill="#000" stroke="#000" stroke-width="2"/>
<circle cx="469.5" cy="3998.6" r="13" fill="#000" stroke="#000" stroke-width="2"/>
<circle cx="528.9" cy="4006.6" r="13" fill="#000" stroke="#000" stroke-width="2"/>
<circle cx="582.9" cy="4018.5" r="13" fill="#000" stroke="#000" stroke-width="2"/>
<circle cx="636.9" cy="4034.8" r="13" fill="#000" stroke="#000" stroke-width="2"/>
<circle cx="696.4" cy="4057.9" r="13" fill="#000" stroke="#000" stroke-width="2"/>
<circle cx="750.4" cy="4079.5" r="13" fill="#000" stroke="#000" stroke-width="2"/>
<circle cx="809.8" cy="4096.2" r="13" fill="#000" stroke="#000" stroke-width="2"/>
<circle cx="863.8" cy="4106.5" r="13" fill="#000" stroke="#000" stroke-width="2"/>
<circle cx="923.2" cy="4111.8" r="13" fill="#000" stroke="#000" stroke-width="2"/>
<circle cx="977.3" cy="4113.9" r="13" fill="#000" stroke="#000" stroke-width="2"/>
<circle cx="1031.3" cy="4115.1" r="13" fill="#000" stroke="#000" stroke-width="2"/>
<circle cx="1090.7" cy="4115.1" r="13" fill="#000" stroke="#000" stroke-width="2"/>
<circle cx="1144.7" cy="4113.9" r="13" fill="#000" stroke="#000" stroke-width="2"/>
<circle cx="1204.1" cy="4105.9" r="13" fill="#000" stroke="#000" stroke-width="2"/>
<circle cx="1263.6" cy="4091.4" r="13" fill="#000" stroke="#000" stroke-width="2"/>
<circle cx="1317.6" cy="4081.6" r="13" fill="#000" stroke="#000" stroke-width="2"/>
<circle cx="1371.6" cy="4070.8" r="13" fill="#000" stroke="#000" stroke-width="2"/>
<circle cx="1431" cy="4054.6" r="13" fill="#000" stroke="#000" stroke-width="2"/>
<circle cx="1485" cy="4038.9" r="13" fill="#000" stroke="#000" stroke-width="2"/>
<circle cx="1544.5" cy="4031.9" r="13" fill="#000" stroke="#000" stroke-width="2"/>
<circle cx="1603.9" cy="4026.6" r="13" fill="#000" stroke="#000" stroke-width="2"/>
<circle cx="1657.9" cy="4025.5" r="13" fill="#000" stroke="#000" stroke-width="2"/>
<circle cx="1711.9" cy="4025.5" r="13" fill="#000" stroke="#000" stroke-width="2"/>
<circle cx="1765.9" cy="4029.3" r="13" fill="#000" stroke="#000" stroke-width="2"/>
<path d="M275 4195.4C283.2 4195.4 330.7 4195.7 345.2 4195.4C359.7 4195.2 384.7 4194.1 399.2 4193.4C413.7 4192.7 454.3 4190.7 469.5 4189.4C484.6 4188.2 515.7 4184.6 528.9 4182.4C542.1 4180.3 570.3 4173.6 582.9 4170.7C595.5 4167.8 623.7 4161.7 636.9 4157.7C650.2 4153.8 683.1 4141.6 696.4 4137.1C709.6 4132.7 737.1 4124.2 750.4 4119.4C763.6 4114.7 796.6 4099.5 809.8 4096.2C823 4092.9 850.6 4093 863.8 4091.2C877 4089.5 910 4082.4 923.2 4080.9C936.5 4079.5 964.6 4079.2 977.3 4078.9C989.9 4078.5 1018 4078.4 1031.3 4077.8C1044.5 4077.3 1077.5 4073.7 1090.7 4074.1C1103.9 4074.6 1131.5 4080.2 1144.7 4082C1158 4083.7 1190.3 4087.9 1204.1 4089.2C1218 4090.5 1250.3 4091.6 1263.6 4093.3C1276.8 4095 1305 4100.6 1317.6 4103.6C1330.2 4106.6 1358.4 4115.2 1371.6 4118.8C1384.8 4122.4 1417.8 4131.1 1431 4134.5C1444.3 4137.8 1471.8 4144.8 1485 4147.4C1498.3 4150.1 1530.6 4155.9 1544.5 4157.5C1558.3 4159.2 1590.7 4160.8 1603.9 4161.4C1617.1 4162.1 1645.3 4162.7 1657.9 4162.9C1670.5 4163.1 1699.3 4163.2 1711.9 4162.9C1724.5 4162.5 1759.6 4160.3 1765.9 4160" fill="none" stroke="#000" stroke-width="4.8" stroke-dasharray="4.8 14.04" stroke-dashoffset="1.5"/>
<polygon points="275,4212.7 290,4186.8 260,4186.8" fill="#000" stroke="#000" stroke-width="2" stroke-linejoin="miter"/>
<polygon points="345.2,4212.7 360.2,4186.8 330.2,4186.8" fill="#000" stroke="#000" stroke-width="2" stroke-linejoin="miter"/>
<polygon points="399.2,4210.7 414.2,4184.7 384.2,4184.7" fill="#000" stroke="#000" stroke-width="2" stroke-linejoin="miter"/>
<polygon points="469.5,4206.8 484.5,4180.8 454.5,4180.8" fill="#000" stroke="#000" stroke-width="2" stroke-linejoin="miter"/>
<polygon points="528.9,4199.8 543.9,4173.8 513.9,4173.8" fill="#000" stroke="#000" stroke-width="2" stroke-linejoin="miter"/>
<polygon points="582.9,4188 597.9,4162 567.9,4162" fill="#000" stroke="#000" stroke-width="2" stroke-linejoin="miter"/>
<polygon points="636.9,4175.1 651.9,4149.1 621.9,4149.1" fill="#000" stroke="#000" stroke-width="2" stroke-linejoin="miter"/>
<polygon points="696.4,4154.5 711.4,4128.5 681.4,4128.5" fill="#000" stroke="#000" stroke-width="2" stroke-linejoin="miter"/>
<polygon points="750.4,4136.8 765.4,4110.8 735.4,4110.8" fill="#000" stroke="#000" stroke-width="2" stroke-linejoin="miter"/>
<polygon points="809.8,4113.5 824.8,4087.5 794.8,4087.5" fill="#000" stroke="#000" stroke-width="2" stroke-linejoin="miter"/>
<polygon points="863.8,4108.6 878.8,4082.6 848.8,4082.6" fill="#000" stroke="#000" stroke-width="2" stroke-linejoin="miter"/>
<polygon points="923.2,4098.3 938.2,4072.3 908.2,4072.3" fill="#000" stroke="#000" stroke-width="2" stroke-linejoin="miter"/>
<polygon points="977.3,4096.2 992.3,4070.2 962.3,4070.2" fill="#000" stroke="#000" stroke-width="2" stroke-linejoin="miter"/>
<polygon points="1031.3,4095.2 1046.3,4069.2 1016.3,4069.2" fill="#000" stroke="#000" stroke-width="2" stroke-linejoin="miter"/>
<polygon points="1090.7,4091.5 1105.7,4065.5 1075.7,4065.5" fill="#000" stroke="#000" stroke-width="2" stroke-linejoin="miter"/>
<polygon points="1144.7,4099.3 1159.7,4073.3 1129.7,4073.3" fill="#000" stroke="#000" stroke-width="2" stroke-linejoin="miter"/>
<polygon points="1204.1,4106.5 1219.1,4080.5 1189.1,4080.5" fill="#000" stroke="#000" stroke-width="2" stroke-linejoin="miter"/>
<polygon points="1263.6,4110.6 1278.6,4084.6 1248.6,4084.6" fill="#000" stroke="#000" stroke-width="2" stroke-linejoin="miter"/>
<polygon points="1317.6,4120.9 1332.6,4094.9 1302.6,4094.9" fill="#000" stroke="#000" stroke-width="2" stroke-linejoin="miter"/>
<polygon points="1371.6,4136.1 1386.6,4110.2 1356.6,4110.2" fill="#000" stroke="#000" stroke-width="2" stroke-linejoin="miter"/>
<polygon points="1431,4151.8 1446,4125.8 1416,4125.8" fill="#000" stroke="#000" stroke-width="2" stroke-linejoin="miter"/>
<polygon points="1485,4164.8 1500,4138.8 1470,4138.8" fill="#000" stroke="#000" stroke-width="2" stroke-linejoin="miter"/>
<polygon points="1544.5,4174.9 1559.5,4148.9 1529.5,4148.9" fill="#000" stroke="#000" stroke-width="2" stroke-linejoin="miter"/>
<polygon points="1603.9,4178.8 1618.9,4152.8 1588.9,4152.8" fill="#000" stroke="#000" stroke-width="2" stroke-linejoin="miter"/>
<polygon points="1657.9,4180.2 1672.9,4154.2 1642.9,4154.2" fill="#000" stroke="#000" stroke-width="2" stroke-linejoin="miter"/>
<polygon points="1711.9,4180.2 1726.9,4154.2 1696.9,4154.2" fill="#000" stroke="#000" stroke-width="2" stroke-linejoin="miter"/>
<polygon points="1765.9,4177.3 1780.9,4151.3 1750.9,4151.3" fill="#000" stroke="#000" stroke-width="2" stroke-linejoin="miter"/>
<path d="M275 4212.7C283.2 4212.7 330.7 4212.7 345.2 4212.7C359.7 4212.7 384.7 4214.1 399.2 4212.7C413.7 4211.3 454.3 4202.1 469.5 4200.8C484.6 4199.4 515.7 4201.7 528.9 4201.4C542.1 4201 570.3 4198.1 582.9 4197.7C595.5 4197.2 623.7 4197.5 636.9 4197.5C650.2 4197.5 683.1 4197.5 696.4 4197.5C709.6 4197.5 737.1 4198.3 750.4 4197.5C763.6 4196.6 796.6 4192.4 809.8 4190.1C823 4187.8 850.6 4184.2 863.8 4177.7C877 4171.2 910 4147.4 923.2 4134.5C936.5 4121.6 964.6 4087.8 977.3 4067.1C989.9 4046.5 1018 3990.3 1031.3 3957.6C1044.5 3924.9 1077.5 3827.7 1090.7 3786.5C1103.9 3745.3 1131.5 3649.1 1144.7 3604.3C1158 3559.4 1190.3 3430.7 1204.1 3402.1C1218 3373.5 1250.3 3369.7 1263.6 3358.8C1276.8 3348 1305 3319.8 1317.6 3308.8C1330.2 3297.8 1358.4 3276.3 1371.6 3264.5C1384.8 3252.8 1417.8 3220.4 1431 3207.9C1444.3 3195.4 1471.8 3168 1485 3157.5C1498.3 3146.9 1530.6 3134.5 1544.5 3117.3C1558.3 3100.1 1590.7 3026.1 1603.9 3010.3C1617.1 2994.4 1645.3 2985.7 1657.9 2981.6C1670.5 2977.6 1699.3 2977.7 1711.9 2975.3C1724.5 2972.8 1759.6 2962.5 1765.9 2960.8" fill="none" stroke="#000" stroke-width="4.8" stroke-dasharray="19.7 8.3 4.8 8.6" stroke-dashoffset="1.5"/>
<rect x="263.2" y="4201" width="23.5" height="23.5" fill="#000" stroke="#000" stroke-width="2.5"/>
<rect x="333.5" y="4201" width="23.5" height="23.5" fill="#000" stroke="#000" stroke-width="2.5"/>
<rect x="387.5" y="4201" width="23.5" height="23.5" fill="#000" stroke="#000" stroke-width="2.5"/>
<rect x="457.7" y="4189" width="23.5" height="23.5" fill="#000" stroke="#000" stroke-width="2.5"/>
<rect x="517.1" y="4189.6" width="23.5" height="23.5" fill="#000" stroke="#000" stroke-width="2.5"/>
<rect x="571.2" y="4185.9" width="23.5" height="23.5" fill="#000" stroke="#000" stroke-width="2.5"/>
<rect x="625.2" y="4185.7" width="23.5" height="23.5" fill="#000" stroke="#000" stroke-width="2.5"/>
<rect x="684.6" y="4185.7" width="23.5" height="23.5" fill="#000" stroke="#000" stroke-width="2.5"/>
<rect x="738.6" y="4185.7" width="23.5" height="23.5" fill="#000" stroke="#000" stroke-width="2.5"/>
<rect x="798" y="4178.3" width="23.5" height="23.5" fill="#000" stroke="#000" stroke-width="2.5"/>
<rect x="852.1" y="4166" width="23.5" height="23.5" fill="#000" stroke="#000" stroke-width="2.5"/>
<rect x="911.5" y="4122.7" width="23.5" height="23.5" fill="#000" stroke="#000" stroke-width="2.5"/>
<rect x="965.5" y="4055.4" width="23.5" height="23.5" fill="#000" stroke="#000" stroke-width="2.5"/>
<rect x="1019.5" y="3945.9" width="23.5" height="23.5" fill="#000" stroke="#000" stroke-width="2.5"/>
<rect x="1078.9" y="3774.8" width="23.5" height="23.5" fill="#000" stroke="#000" stroke-width="2.5"/>
<rect x="1133" y="3592.5" width="23.5" height="23.5" fill="#000" stroke="#000" stroke-width="2.5"/>
<rect x="1192.4" y="3390.3" width="23.5" height="23.5" fill="#000" stroke="#000" stroke-width="2.5"/>
<rect x="1251.8" y="3347.1" width="23.5" height="23.5" fill="#000" stroke="#000" stroke-width="2.5"/>
<rect x="1305.8" y="3297.1" width="23.5" height="23.5" fill="#000" stroke="#000" stroke-width="2.5"/>
<rect x="1359.9" y="3252.8" width="23.5" height="23.5" fill="#000" stroke="#000" stroke-width="2.5"/>
<rect x="1419.3" y="3196.2" width="23.5" height="23.5" fill="#000" stroke="#000" stroke-width="2.5"/>
<rect x="1473.3" y="3145.7" width="23.5" height="23.5" fill="#000" stroke="#000" stroke-width="2.5"/>
<rect x="1532.7" y="3105.6" width="23.5" height="23.5" fill="#000" stroke="#000" stroke-width="2.5"/>
<rect x="1592.1" y="2998.5" width="23.5" height="23.5" fill="#000" stroke="#000" stroke-width="2.5"/>
<rect x="1646.2" y="2969.9" width="23.5" height="23.5" fill="#000" stroke="#000" stroke-width="2.5"/>
<rect x="1700.2" y="2963.5" width="23.5" height="23.5" fill="#000" stroke="#000" stroke-width="2.5"/>
<rect x="1754.2" y="2949.1" width="23.5" height="23.5" fill="#000" stroke="#000" stroke-width="2.5"/>
</g>
<g stroke="#000" fill="none" stroke-linecap="butt">
<path d="M238.2 1718 V4203" stroke-width="6"/>
<path d="M1911.6 1718 V4225.8" stroke-width="6"/>
<path d="M224.6 1721 H1914.6" stroke-width="6"/>
<path d="M238.2 2959.5 H1914.6" stroke-width="9"/>
<path d="M235.2 4200 H1914.6" stroke-width="6"/>
<path d="M212 2904.9 H238.2M212 2689.7 H238.2M212 2474.4 H238.2M212 2259.2 H238.2M212 2043.9 H238.2M212 1828.7 H238.2M224.6 2797.3 H238.2M224.6 2582 H238.2M224.6 2366.8 H238.2M224.6 2151.6 H238.2M224.6 1936.3 H238.2M212 4200 H238.2M212 3992.4 H238.2M212 3786.5 H238.2M212 3580.6 H238.2M212 3374.7 H238.2M212 3168.8 H238.2M212 2961 H238.2" stroke-width="5.6"/>
<path d="M291.2 4200 V4225.8M561.3 4200 V4225.8M831.4 4200 V4225.8M1101.5 4200 V4225.8M1371.6 4200 V4225.8M1641.7 4200 V4225.8M426.2 4200 V4212.2M696.4 4200 V4212.2M966.5 4200 V4212.2M1236.5 4200 V4212.2M1506.7 4200 V4212.2M1776.8 4200 V4212.2M291.2 2959.5 V2984.3M561.3 2959.5 V2984.3M831.4 2959.5 V2984.3M1101.5 2959.5 V2984.3M1371.6 2959.5 V2984.3M1641.7 2959.5 V2984.3" stroke-width="5.6"/>
</g>
<g font-family="'Liberation Sans', Arial, sans-serif" stroke="#000" stroke-width="0.5" stroke-linejoin="round" fill="#000">
<g font-size="50.5" text-anchor="end">
<text transform="translate(197.3 2918.7) scale(1 1.035)">0.0</text>
<text transform="translate(197.3 2703.5) scale(1 1.035)">0.2</text>
<text transform="translate(197.3 2488.2) scale(1 1.035)">0.4</text>
<text transform="translate(197.3 2273) scale(1 1.035)">0.6</text>
<text transform="translate(197.3 2057.7) scale(1 1.035)">0.8</text>
<text transform="translate(197.3 1842.5) scale(1 1.035)">1.0</text>
<text transform="translate(197.3 4212.1) scale(1 1.035)">0</text>
<text transform="translate(197.3 4006.2) scale(1 1.035)">1</text>
<text transform="translate(197.3 3800.3) scale(1 1.035)">2</text>
<text transform="translate(197.3 3594.4) scale(1 1.035)">3</text>
<text transform="translate(197.3 3388.5) scale(1 1.035)">4</text>
<text transform="translate(197.3 3182.6) scale(1 1.035)">5</text>
<text transform="translate(197.3 2974.8) scale(1 1.035)">6</text>
</g>
<g font-size="50.5" text-anchor="middle">
<text transform="translate(291.5 4280) scale(1 1.035)">300</text>
<text transform="translate(561.6 4280) scale(1 1.035)">350</text>
<text transform="translate(831.7 4280) scale(1 1.035)">400</text>
<text transform="translate(1101.8 4280) scale(1 1.035)">450</text>
<text transform="translate(1371.9 4280) scale(1 1.035)">500</text>
<text transform="translate(1642 4280) scale(1 1.035)">550</text>
<text transform="translate(1912.1 4280) scale(1 1.035)">600</text>
</g>
<text transform="translate(66 2677) rotate(-90)" font-size="61.6">Fraction of pure component</text>
<text transform="translate(70 3907.8) rotate(-90)" font-size="61.05">MS intensity (mL min<tspan font-size="35.5" dy="-33.8">-1</tspan><tspan dy="33.8">)</tspan></text>
<text x="853.4" y="4377.5" font-size="61">Temperature (K)</text>
<text transform="translate(501.2 1796.3) scale(1 1.035)" font-size="62.3">Cu<tspan font-size="35.5" dy="-32.7">2+</tspan></text>
<text transform="translate(1044 2661.5) scale(1 1.035)" font-size="62.3">Cu<tspan font-size="35.5" dy="-32.7" dx="-1.5">+</tspan></text>
<text transform="translate(1605.8 2100.3) scale(1 1.035)" font-size="62.3">Cu<tspan font-size="35.5" dy="-32.7" dx="-0.5">0</tspan></text>
<text transform="translate(1262 3226.8) scale(1 1.035)" font-size="62.3">H<tspan font-size="35.5" dy="23.6">2</tspan><tspan dy="-23.6">O</tspan></text>
<text transform="translate(404.2 3888.3) scale(1 1.035)" font-size="62.3">O<tspan font-size="35.5" dy="23" dx="0.5">2</tspan></text>
<text transform="translate(381.2 4043.2) scale(1 1.035)" font-size="62.3"><tspan letter-spacing="-1.2">CO</tspan></text>
<text transform="translate(1726.6 4123.5) scale(1 1.035)" font-size="62.3">CO<tspan font-size="35.5" dy="23">2</tspan></text>
</g>
</svg>
</body></html>
